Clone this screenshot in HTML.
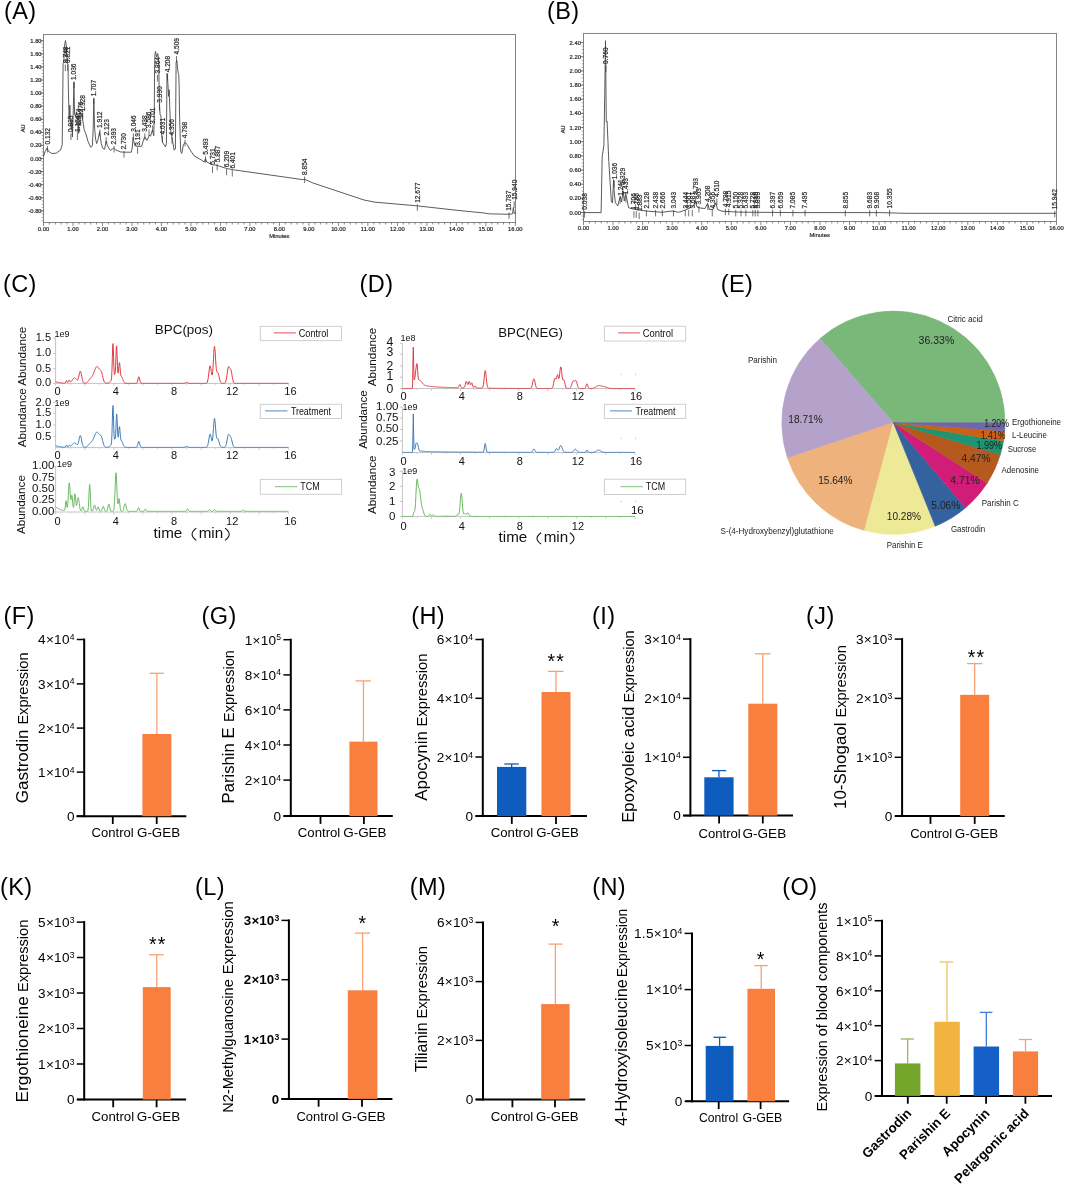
<!DOCTYPE html>
<html><head><meta charset="utf-8"><style>
html,body{margin:0;padding:0;background:#fff;}
body{width:1065px;height:1186px;overflow:hidden;}
svg{display:block;font-family:"Liberation Sans", sans-serif;will-change:transform;}
.ab text{stroke:#333;stroke-width:0.22px;}
</style></head><body>
<svg width="1065" height="1186" viewBox="0 0 1065 1186">
<rect width="1065" height="1186" fill="#fff"/>
<text x="4.00" y="18.80" font-size="23.5" letter-spacing="0.4">(A)</text>
<text x="547.00" y="18.80" font-size="23.5" letter-spacing="0.4">(B)</text>
<text x="3.00" y="292.00" font-size="23.5" letter-spacing="0.4">(C)</text>
<text x="359.60" y="292.10" font-size="23.5" letter-spacing="0.4">(D)</text>
<text x="720.80" y="292.00" font-size="23.5" letter-spacing="0.4">(E)</text>
<text x="3.60" y="623.70" font-size="23.5" letter-spacing="0.4">(F)</text>
<text x="201.60" y="624.00" font-size="23.5" letter-spacing="0.4">(G)</text>
<text x="411.20" y="624.00" font-size="23.5" letter-spacing="0.4">(H)</text>
<text x="592.00" y="623.50" font-size="23.5" letter-spacing="0.4">(I)</text>
<text x="806.00" y="624.00" font-size="23.5" letter-spacing="0.4">(J)</text>
<text x="0.00" y="895.00" font-size="23.5" letter-spacing="0.4">(K)</text>
<text x="195.00" y="895.00" font-size="23.5" letter-spacing="0.4">(L)</text>
<text x="409.70" y="895.00" font-size="23.5" letter-spacing="0.4">(M)</text>
<text x="592.20" y="895.00" font-size="23.5" letter-spacing="0.4">(N)</text>
<text x="782.30" y="895.00" font-size="23.5" letter-spacing="0.4">(O)</text>
<g class="ab">
<rect x="43.50" y="34.50" width="472.00" height="188.00" fill="none" stroke="#858585" stroke-width="1"/>
<line x1="43.50" y1="222.50" x2="43.50" y2="226.00" stroke="#6a6a6a" stroke-width="0.8"/>
<text x="43.50" y="230.90" font-size="5.8" text-anchor="middle" fill="#222">0.00</text>
<line x1="49.40" y1="222.50" x2="49.40" y2="224.50" stroke="#6a6a6a" stroke-width="0.8"/>
<line x1="55.30" y1="222.50" x2="55.30" y2="224.50" stroke="#6a6a6a" stroke-width="0.8"/>
<line x1="61.19" y1="222.50" x2="61.19" y2="224.50" stroke="#6a6a6a" stroke-width="0.8"/>
<line x1="67.09" y1="222.50" x2="67.09" y2="224.50" stroke="#6a6a6a" stroke-width="0.8"/>
<line x1="72.99" y1="222.50" x2="72.99" y2="226.00" stroke="#6a6a6a" stroke-width="0.8"/>
<text x="72.99" y="230.90" font-size="5.8" text-anchor="middle" fill="#222">1.00</text>
<line x1="78.89" y1="222.50" x2="78.89" y2="224.50" stroke="#6a6a6a" stroke-width="0.8"/>
<line x1="84.79" y1="222.50" x2="84.79" y2="224.50" stroke="#6a6a6a" stroke-width="0.8"/>
<line x1="90.68" y1="222.50" x2="90.68" y2="224.50" stroke="#6a6a6a" stroke-width="0.8"/>
<line x1="96.58" y1="222.50" x2="96.58" y2="224.50" stroke="#6a6a6a" stroke-width="0.8"/>
<line x1="102.48" y1="222.50" x2="102.48" y2="226.00" stroke="#6a6a6a" stroke-width="0.8"/>
<text x="102.48" y="230.90" font-size="5.8" text-anchor="middle" fill="#222">2.00</text>
<line x1="108.38" y1="222.50" x2="108.38" y2="224.50" stroke="#6a6a6a" stroke-width="0.8"/>
<line x1="114.28" y1="222.50" x2="114.28" y2="224.50" stroke="#6a6a6a" stroke-width="0.8"/>
<line x1="120.17" y1="222.50" x2="120.17" y2="224.50" stroke="#6a6a6a" stroke-width="0.8"/>
<line x1="126.07" y1="222.50" x2="126.07" y2="224.50" stroke="#6a6a6a" stroke-width="0.8"/>
<line x1="131.97" y1="222.50" x2="131.97" y2="226.00" stroke="#6a6a6a" stroke-width="0.8"/>
<text x="131.97" y="230.90" font-size="5.8" text-anchor="middle" fill="#222">3.00</text>
<line x1="137.87" y1="222.50" x2="137.87" y2="224.50" stroke="#6a6a6a" stroke-width="0.8"/>
<line x1="143.77" y1="222.50" x2="143.77" y2="224.50" stroke="#6a6a6a" stroke-width="0.8"/>
<line x1="149.66" y1="222.50" x2="149.66" y2="224.50" stroke="#6a6a6a" stroke-width="0.8"/>
<line x1="155.56" y1="222.50" x2="155.56" y2="224.50" stroke="#6a6a6a" stroke-width="0.8"/>
<line x1="161.46" y1="222.50" x2="161.46" y2="226.00" stroke="#6a6a6a" stroke-width="0.8"/>
<text x="161.46" y="230.90" font-size="5.8" text-anchor="middle" fill="#222">4.00</text>
<line x1="167.36" y1="222.50" x2="167.36" y2="224.50" stroke="#6a6a6a" stroke-width="0.8"/>
<line x1="173.26" y1="222.50" x2="173.26" y2="224.50" stroke="#6a6a6a" stroke-width="0.8"/>
<line x1="179.15" y1="222.50" x2="179.15" y2="224.50" stroke="#6a6a6a" stroke-width="0.8"/>
<line x1="185.05" y1="222.50" x2="185.05" y2="224.50" stroke="#6a6a6a" stroke-width="0.8"/>
<line x1="190.95" y1="222.50" x2="190.95" y2="226.00" stroke="#6a6a6a" stroke-width="0.8"/>
<text x="190.95" y="230.90" font-size="5.8" text-anchor="middle" fill="#222">5.00</text>
<line x1="196.85" y1="222.50" x2="196.85" y2="224.50" stroke="#6a6a6a" stroke-width="0.8"/>
<line x1="202.75" y1="222.50" x2="202.75" y2="224.50" stroke="#6a6a6a" stroke-width="0.8"/>
<line x1="208.64" y1="222.50" x2="208.64" y2="224.50" stroke="#6a6a6a" stroke-width="0.8"/>
<line x1="214.54" y1="222.50" x2="214.54" y2="224.50" stroke="#6a6a6a" stroke-width="0.8"/>
<line x1="220.44" y1="222.50" x2="220.44" y2="226.00" stroke="#6a6a6a" stroke-width="0.8"/>
<text x="220.44" y="230.90" font-size="5.8" text-anchor="middle" fill="#222">6.00</text>
<line x1="226.34" y1="222.50" x2="226.34" y2="224.50" stroke="#6a6a6a" stroke-width="0.8"/>
<line x1="232.24" y1="222.50" x2="232.24" y2="224.50" stroke="#6a6a6a" stroke-width="0.8"/>
<line x1="238.13" y1="222.50" x2="238.13" y2="224.50" stroke="#6a6a6a" stroke-width="0.8"/>
<line x1="244.03" y1="222.50" x2="244.03" y2="224.50" stroke="#6a6a6a" stroke-width="0.8"/>
<line x1="249.93" y1="222.50" x2="249.93" y2="226.00" stroke="#6a6a6a" stroke-width="0.8"/>
<text x="249.93" y="230.90" font-size="5.8" text-anchor="middle" fill="#222">7.00</text>
<line x1="255.83" y1="222.50" x2="255.83" y2="224.50" stroke="#6a6a6a" stroke-width="0.8"/>
<line x1="261.73" y1="222.50" x2="261.73" y2="224.50" stroke="#6a6a6a" stroke-width="0.8"/>
<line x1="267.62" y1="222.50" x2="267.62" y2="224.50" stroke="#6a6a6a" stroke-width="0.8"/>
<line x1="273.52" y1="222.50" x2="273.52" y2="224.50" stroke="#6a6a6a" stroke-width="0.8"/>
<line x1="279.42" y1="222.50" x2="279.42" y2="226.00" stroke="#6a6a6a" stroke-width="0.8"/>
<text x="279.42" y="230.90" font-size="5.8" text-anchor="middle" fill="#222">8.00</text>
<line x1="285.32" y1="222.50" x2="285.32" y2="224.50" stroke="#6a6a6a" stroke-width="0.8"/>
<line x1="291.22" y1="222.50" x2="291.22" y2="224.50" stroke="#6a6a6a" stroke-width="0.8"/>
<line x1="297.11" y1="222.50" x2="297.11" y2="224.50" stroke="#6a6a6a" stroke-width="0.8"/>
<line x1="303.01" y1="222.50" x2="303.01" y2="224.50" stroke="#6a6a6a" stroke-width="0.8"/>
<line x1="308.91" y1="222.50" x2="308.91" y2="226.00" stroke="#6a6a6a" stroke-width="0.8"/>
<text x="308.91" y="230.90" font-size="5.8" text-anchor="middle" fill="#222">9.00</text>
<line x1="314.81" y1="222.50" x2="314.81" y2="224.50" stroke="#6a6a6a" stroke-width="0.8"/>
<line x1="320.71" y1="222.50" x2="320.71" y2="224.50" stroke="#6a6a6a" stroke-width="0.8"/>
<line x1="326.60" y1="222.50" x2="326.60" y2="224.50" stroke="#6a6a6a" stroke-width="0.8"/>
<line x1="332.50" y1="222.50" x2="332.50" y2="224.50" stroke="#6a6a6a" stroke-width="0.8"/>
<line x1="338.40" y1="222.50" x2="338.40" y2="226.00" stroke="#6a6a6a" stroke-width="0.8"/>
<text x="338.40" y="230.90" font-size="5.8" text-anchor="middle" fill="#222">10.00</text>
<line x1="344.30" y1="222.50" x2="344.30" y2="224.50" stroke="#6a6a6a" stroke-width="0.8"/>
<line x1="350.20" y1="222.50" x2="350.20" y2="224.50" stroke="#6a6a6a" stroke-width="0.8"/>
<line x1="356.09" y1="222.50" x2="356.09" y2="224.50" stroke="#6a6a6a" stroke-width="0.8"/>
<line x1="361.99" y1="222.50" x2="361.99" y2="224.50" stroke="#6a6a6a" stroke-width="0.8"/>
<line x1="367.89" y1="222.50" x2="367.89" y2="226.00" stroke="#6a6a6a" stroke-width="0.8"/>
<text x="367.89" y="230.90" font-size="5.8" text-anchor="middle" fill="#222">11.00</text>
<line x1="373.79" y1="222.50" x2="373.79" y2="224.50" stroke="#6a6a6a" stroke-width="0.8"/>
<line x1="379.69" y1="222.50" x2="379.69" y2="224.50" stroke="#6a6a6a" stroke-width="0.8"/>
<line x1="385.58" y1="222.50" x2="385.58" y2="224.50" stroke="#6a6a6a" stroke-width="0.8"/>
<line x1="391.48" y1="222.50" x2="391.48" y2="224.50" stroke="#6a6a6a" stroke-width="0.8"/>
<line x1="397.38" y1="222.50" x2="397.38" y2="226.00" stroke="#6a6a6a" stroke-width="0.8"/>
<text x="397.38" y="230.90" font-size="5.8" text-anchor="middle" fill="#222">12.00</text>
<line x1="403.28" y1="222.50" x2="403.28" y2="224.50" stroke="#6a6a6a" stroke-width="0.8"/>
<line x1="409.18" y1="222.50" x2="409.18" y2="224.50" stroke="#6a6a6a" stroke-width="0.8"/>
<line x1="415.07" y1="222.50" x2="415.07" y2="224.50" stroke="#6a6a6a" stroke-width="0.8"/>
<line x1="420.97" y1="222.50" x2="420.97" y2="224.50" stroke="#6a6a6a" stroke-width="0.8"/>
<line x1="426.87" y1="222.50" x2="426.87" y2="226.00" stroke="#6a6a6a" stroke-width="0.8"/>
<text x="426.87" y="230.90" font-size="5.8" text-anchor="middle" fill="#222">13.00</text>
<line x1="432.77" y1="222.50" x2="432.77" y2="224.50" stroke="#6a6a6a" stroke-width="0.8"/>
<line x1="438.67" y1="222.50" x2="438.67" y2="224.50" stroke="#6a6a6a" stroke-width="0.8"/>
<line x1="444.56" y1="222.50" x2="444.56" y2="224.50" stroke="#6a6a6a" stroke-width="0.8"/>
<line x1="450.46" y1="222.50" x2="450.46" y2="224.50" stroke="#6a6a6a" stroke-width="0.8"/>
<line x1="456.36" y1="222.50" x2="456.36" y2="226.00" stroke="#6a6a6a" stroke-width="0.8"/>
<text x="456.36" y="230.90" font-size="5.8" text-anchor="middle" fill="#222">14.00</text>
<line x1="462.26" y1="222.50" x2="462.26" y2="224.50" stroke="#6a6a6a" stroke-width="0.8"/>
<line x1="468.16" y1="222.50" x2="468.16" y2="224.50" stroke="#6a6a6a" stroke-width="0.8"/>
<line x1="474.05" y1="222.50" x2="474.05" y2="224.50" stroke="#6a6a6a" stroke-width="0.8"/>
<line x1="479.95" y1="222.50" x2="479.95" y2="224.50" stroke="#6a6a6a" stroke-width="0.8"/>
<line x1="485.85" y1="222.50" x2="485.85" y2="226.00" stroke="#6a6a6a" stroke-width="0.8"/>
<text x="485.85" y="230.90" font-size="5.8" text-anchor="middle" fill="#222">15.00</text>
<line x1="491.75" y1="222.50" x2="491.75" y2="224.50" stroke="#6a6a6a" stroke-width="0.8"/>
<line x1="497.65" y1="222.50" x2="497.65" y2="224.50" stroke="#6a6a6a" stroke-width="0.8"/>
<line x1="503.54" y1="222.50" x2="503.54" y2="224.50" stroke="#6a6a6a" stroke-width="0.8"/>
<line x1="509.44" y1="222.50" x2="509.44" y2="224.50" stroke="#6a6a6a" stroke-width="0.8"/>
<line x1="515.34" y1="222.50" x2="515.34" y2="226.00" stroke="#6a6a6a" stroke-width="0.8"/>
<text x="515.34" y="230.90" font-size="5.8" text-anchor="middle" fill="#222">16.00</text>
<line x1="40.00" y1="40.78" x2="43.50" y2="40.78" stroke="#6a6a6a" stroke-width="0.8"/>
<text x="41.60" y="42.78" font-size="5.8" text-anchor="end" fill="#222">1.80</text>
<line x1="40.00" y1="53.86" x2="43.50" y2="53.86" stroke="#6a6a6a" stroke-width="0.8"/>
<text x="41.60" y="55.86" font-size="5.8" text-anchor="end" fill="#222">1.60</text>
<line x1="40.00" y1="66.94" x2="43.50" y2="66.94" stroke="#6a6a6a" stroke-width="0.8"/>
<text x="41.60" y="68.94" font-size="5.8" text-anchor="end" fill="#222">1.40</text>
<line x1="40.00" y1="80.02" x2="43.50" y2="80.02" stroke="#6a6a6a" stroke-width="0.8"/>
<text x="41.60" y="82.02" font-size="5.8" text-anchor="end" fill="#222">1.20</text>
<line x1="40.00" y1="93.10" x2="43.50" y2="93.10" stroke="#6a6a6a" stroke-width="0.8"/>
<text x="41.60" y="95.10" font-size="5.8" text-anchor="end" fill="#222">1.00</text>
<line x1="40.00" y1="106.18" x2="43.50" y2="106.18" stroke="#6a6a6a" stroke-width="0.8"/>
<text x="41.60" y="108.18" font-size="5.8" text-anchor="end" fill="#222">0.80</text>
<line x1="40.00" y1="119.26" x2="43.50" y2="119.26" stroke="#6a6a6a" stroke-width="0.8"/>
<text x="41.60" y="121.26" font-size="5.8" text-anchor="end" fill="#222">0.60</text>
<line x1="40.00" y1="132.34" x2="43.50" y2="132.34" stroke="#6a6a6a" stroke-width="0.8"/>
<text x="41.60" y="134.34" font-size="5.8" text-anchor="end" fill="#222">0.40</text>
<line x1="40.00" y1="145.42" x2="43.50" y2="145.42" stroke="#6a6a6a" stroke-width="0.8"/>
<text x="41.60" y="147.42" font-size="5.8" text-anchor="end" fill="#222">0.20</text>
<line x1="40.00" y1="158.50" x2="43.50" y2="158.50" stroke="#6a6a6a" stroke-width="0.8"/>
<text x="41.60" y="160.50" font-size="5.8" text-anchor="end" fill="#222">0.00</text>
<line x1="40.00" y1="171.58" x2="43.50" y2="171.58" stroke="#6a6a6a" stroke-width="0.8"/>
<text x="41.60" y="173.58" font-size="5.8" text-anchor="end" fill="#222">-0.20</text>
<line x1="40.00" y1="184.66" x2="43.50" y2="184.66" stroke="#6a6a6a" stroke-width="0.8"/>
<text x="41.60" y="186.66" font-size="5.8" text-anchor="end" fill="#222">-0.40</text>
<line x1="40.00" y1="197.74" x2="43.50" y2="197.74" stroke="#6a6a6a" stroke-width="0.8"/>
<text x="41.60" y="199.74" font-size="5.8" text-anchor="end" fill="#222">-0.60</text>
<line x1="40.00" y1="210.82" x2="43.50" y2="210.82" stroke="#6a6a6a" stroke-width="0.8"/>
<text x="41.60" y="212.82" font-size="5.8" text-anchor="end" fill="#222">-0.80</text>
<line x1="41.70" y1="40.78" x2="43.50" y2="40.78" stroke="#6a6a6a" stroke-width="0.6"/>
<line x1="41.70" y1="44.05" x2="43.50" y2="44.05" stroke="#6a6a6a" stroke-width="0.6"/>
<line x1="41.70" y1="47.32" x2="43.50" y2="47.32" stroke="#6a6a6a" stroke-width="0.6"/>
<line x1="41.70" y1="50.59" x2="43.50" y2="50.59" stroke="#6a6a6a" stroke-width="0.6"/>
<line x1="41.70" y1="53.86" x2="43.50" y2="53.86" stroke="#6a6a6a" stroke-width="0.6"/>
<line x1="41.70" y1="57.13" x2="43.50" y2="57.13" stroke="#6a6a6a" stroke-width="0.6"/>
<line x1="41.70" y1="60.40" x2="43.50" y2="60.40" stroke="#6a6a6a" stroke-width="0.6"/>
<line x1="41.70" y1="63.67" x2="43.50" y2="63.67" stroke="#6a6a6a" stroke-width="0.6"/>
<line x1="41.70" y1="66.94" x2="43.50" y2="66.94" stroke="#6a6a6a" stroke-width="0.6"/>
<line x1="41.70" y1="70.21" x2="43.50" y2="70.21" stroke="#6a6a6a" stroke-width="0.6"/>
<line x1="41.70" y1="73.48" x2="43.50" y2="73.48" stroke="#6a6a6a" stroke-width="0.6"/>
<line x1="41.70" y1="76.75" x2="43.50" y2="76.75" stroke="#6a6a6a" stroke-width="0.6"/>
<line x1="41.70" y1="80.02" x2="43.50" y2="80.02" stroke="#6a6a6a" stroke-width="0.6"/>
<line x1="41.70" y1="83.29" x2="43.50" y2="83.29" stroke="#6a6a6a" stroke-width="0.6"/>
<line x1="41.70" y1="86.56" x2="43.50" y2="86.56" stroke="#6a6a6a" stroke-width="0.6"/>
<line x1="41.70" y1="89.83" x2="43.50" y2="89.83" stroke="#6a6a6a" stroke-width="0.6"/>
<line x1="41.70" y1="93.10" x2="43.50" y2="93.10" stroke="#6a6a6a" stroke-width="0.6"/>
<line x1="41.70" y1="96.37" x2="43.50" y2="96.37" stroke="#6a6a6a" stroke-width="0.6"/>
<line x1="41.70" y1="99.64" x2="43.50" y2="99.64" stroke="#6a6a6a" stroke-width="0.6"/>
<line x1="41.70" y1="102.91" x2="43.50" y2="102.91" stroke="#6a6a6a" stroke-width="0.6"/>
<line x1="41.70" y1="106.18" x2="43.50" y2="106.18" stroke="#6a6a6a" stroke-width="0.6"/>
<line x1="41.70" y1="109.45" x2="43.50" y2="109.45" stroke="#6a6a6a" stroke-width="0.6"/>
<line x1="41.70" y1="112.72" x2="43.50" y2="112.72" stroke="#6a6a6a" stroke-width="0.6"/>
<line x1="41.70" y1="115.99" x2="43.50" y2="115.99" stroke="#6a6a6a" stroke-width="0.6"/>
<line x1="41.70" y1="119.26" x2="43.50" y2="119.26" stroke="#6a6a6a" stroke-width="0.6"/>
<line x1="41.70" y1="122.53" x2="43.50" y2="122.53" stroke="#6a6a6a" stroke-width="0.6"/>
<line x1="41.70" y1="125.80" x2="43.50" y2="125.80" stroke="#6a6a6a" stroke-width="0.6"/>
<line x1="41.70" y1="129.07" x2="43.50" y2="129.07" stroke="#6a6a6a" stroke-width="0.6"/>
<line x1="41.70" y1="132.34" x2="43.50" y2="132.34" stroke="#6a6a6a" stroke-width="0.6"/>
<line x1="41.70" y1="135.61" x2="43.50" y2="135.61" stroke="#6a6a6a" stroke-width="0.6"/>
<line x1="41.70" y1="138.88" x2="43.50" y2="138.88" stroke="#6a6a6a" stroke-width="0.6"/>
<line x1="41.70" y1="142.15" x2="43.50" y2="142.15" stroke="#6a6a6a" stroke-width="0.6"/>
<line x1="41.70" y1="145.42" x2="43.50" y2="145.42" stroke="#6a6a6a" stroke-width="0.6"/>
<line x1="41.70" y1="148.69" x2="43.50" y2="148.69" stroke="#6a6a6a" stroke-width="0.6"/>
<line x1="41.70" y1="151.96" x2="43.50" y2="151.96" stroke="#6a6a6a" stroke-width="0.6"/>
<line x1="41.70" y1="155.23" x2="43.50" y2="155.23" stroke="#6a6a6a" stroke-width="0.6"/>
<line x1="41.70" y1="158.50" x2="43.50" y2="158.50" stroke="#6a6a6a" stroke-width="0.6"/>
<line x1="41.70" y1="161.77" x2="43.50" y2="161.77" stroke="#6a6a6a" stroke-width="0.6"/>
<line x1="41.70" y1="165.04" x2="43.50" y2="165.04" stroke="#6a6a6a" stroke-width="0.6"/>
<line x1="41.70" y1="168.31" x2="43.50" y2="168.31" stroke="#6a6a6a" stroke-width="0.6"/>
<line x1="41.70" y1="171.58" x2="43.50" y2="171.58" stroke="#6a6a6a" stroke-width="0.6"/>
<line x1="41.70" y1="174.85" x2="43.50" y2="174.85" stroke="#6a6a6a" stroke-width="0.6"/>
<line x1="41.70" y1="178.12" x2="43.50" y2="178.12" stroke="#6a6a6a" stroke-width="0.6"/>
<line x1="41.70" y1="181.39" x2="43.50" y2="181.39" stroke="#6a6a6a" stroke-width="0.6"/>
<line x1="41.70" y1="184.66" x2="43.50" y2="184.66" stroke="#6a6a6a" stroke-width="0.6"/>
<line x1="41.70" y1="187.93" x2="43.50" y2="187.93" stroke="#6a6a6a" stroke-width="0.6"/>
<line x1="41.70" y1="191.20" x2="43.50" y2="191.20" stroke="#6a6a6a" stroke-width="0.6"/>
<line x1="41.70" y1="194.47" x2="43.50" y2="194.47" stroke="#6a6a6a" stroke-width="0.6"/>
<line x1="41.70" y1="197.74" x2="43.50" y2="197.74" stroke="#6a6a6a" stroke-width="0.6"/>
<line x1="41.70" y1="201.01" x2="43.50" y2="201.01" stroke="#6a6a6a" stroke-width="0.6"/>
<line x1="41.70" y1="204.28" x2="43.50" y2="204.28" stroke="#6a6a6a" stroke-width="0.6"/>
<line x1="41.70" y1="207.55" x2="43.50" y2="207.55" stroke="#6a6a6a" stroke-width="0.6"/>
<line x1="41.70" y1="210.82" x2="43.50" y2="210.82" stroke="#6a6a6a" stroke-width="0.6"/>
<line x1="41.70" y1="214.09" x2="43.50" y2="214.09" stroke="#6a6a6a" stroke-width="0.6"/>
<line x1="41.70" y1="217.36" x2="43.50" y2="217.36" stroke="#6a6a6a" stroke-width="0.6"/>
<line x1="41.70" y1="220.63" x2="43.50" y2="220.63" stroke="#6a6a6a" stroke-width="0.6"/>
<text x="25.50" y="128.40" font-size="5.6" text-anchor="middle" fill="#333" transform="rotate(-90 25.50 128.40)">AU</text>
<text x="279.30" y="238.20" font-size="5.8" text-anchor="middle" fill="#333">Minutes</text>
<polyline points="43.50,156.50 45.20,151.30 47.20,148.00 48.50,151.30 51.80,153.50 56.20,153.20 60.50,150.20 62.20,144.70 62.70,100.80 63.10,63.50 63.80,62.40 64.40,48.20 65.00,42.50 65.50,40.50 66.00,44.00 66.60,48.20 67.10,62.40 68.00,64.60 68.40,89.80 69.10,118.40 69.90,105.20 70.40,122.70 71.30,129.30 71.80,120.00 72.40,137.00 73.20,114.00 73.90,82.20 74.60,114.00 75.40,116.20 76.50,111.80 77.60,118.40 78.10,133.70 79.20,114.00 80.30,111.80 81.40,114.00 82.50,118.40 84.10,129.30 85.80,133.70 88.00,141.40 90.70,147.40 92.40,145.80 93.20,128.20 93.80,98.60 94.60,128.20 95.60,139.20 96.70,143.60 97.80,140.30 99.60,131.80 101.20,143.40 102.70,148.10 104.50,149.30 106.30,141.00 107.40,145.70 110.40,150.50 113.60,148.10 115.70,149.90 120.40,151.90 124.00,152.20 131.30,152.20 132.20,148.10 133.10,137.50 134.00,142.20 134.90,145.70 137.00,146.30 141.70,146.30 142.80,142.20 144.60,136.90 147.00,140.40 149.30,135.10 150.50,136.30 152.30,130.40 153.80,135.70 154.30,110.00 154.60,67.90 154.90,54.70 155.50,51.40 156.60,56.90 157.70,53.60 158.60,59.10 158.80,67.90 159.30,100.80 160.10,115.00 161.00,116.10 161.50,133.70 162.60,142.50 165.40,146.80 166.40,143.50 167.00,73.40 167.90,83.20 168.60,96.40 169.20,89.80 169.70,106.30 170.80,131.50 172.50,140.30 174.10,150.10 175.40,149.00 176.10,62.40 176.90,60.50 178.00,72.30 178.70,74.50 179.10,84.30 179.60,117.20 180.70,151.20 181.80,153.40 183.40,144.60 185.10,142.50 187.30,144.60 189.50,149.00 193.90,155.60 201.80,160.30 204.30,162.00 205.50,158.60 206.80,162.00 211.90,164.50 217.00,165.40 222.00,167.00 226.30,168.40 232.20,169.60 235.60,170.10 303.20,179.70 304.50,179.20 313.30,183.10 364.00,200.00 375.00,202.20 380.00,202.60 417.60,205.90 455.10,210.10 485.20,213.10 488.20,213.80 509.20,214.30 512.50,213.80 513.40,207.50 514.20,213.50 516.00,212.50" fill="none" stroke="#4a4a4a" stroke-width="0.9" stroke-linejoin="round"/>
<text x="49.79" y="144.50" font-size="6.6" fill="#222" transform="rotate(-90 49.79 144.50)">0.132</text>
<line x1="47.39" y1="146.00" x2="47.39" y2="152.50" stroke="#333" stroke-width="0.7"/>
<text x="67.72" y="63.00" font-size="6.6" fill="#222" transform="rotate(-90 67.72 63.00)">0.748</text>
<line x1="65.32" y1="64.50" x2="65.32" y2="71.00" stroke="#333" stroke-width="0.7"/>
<text x="70.11" y="63.00" font-size="6.6" fill="#222" transform="rotate(-90 70.11 63.00)">0.821</text>
<line x1="67.71" y1="64.50" x2="67.71" y2="71.00" stroke="#333" stroke-width="0.7"/>
<text x="73.33" y="132.00" font-size="6.6" fill="#222" transform="rotate(-90 73.33 132.00)">0.935</text>
<line x1="70.93" y1="133.50" x2="70.93" y2="140.00" stroke="#333" stroke-width="0.7"/>
<text x="76.45" y="80.00" font-size="6.6" fill="#222" transform="rotate(-90 76.45 80.00)">1.036</text>
<line x1="74.05" y1="81.50" x2="74.05" y2="88.00" stroke="#333" stroke-width="0.7"/>
<text x="79.81" y="132.00" font-size="6.6" fill="#222" transform="rotate(-90 79.81 132.00)">1.154</text>
<line x1="77.41" y1="133.50" x2="77.41" y2="140.00" stroke="#333" stroke-width="0.7"/>
<text x="81.29" y="125.00" font-size="6.6" fill="#222" transform="rotate(-90 81.29 125.00)">1.214</text>
<line x1="78.89" y1="126.50" x2="78.89" y2="133.00" stroke="#333" stroke-width="0.7"/>
<text x="83.06" y="118.00" font-size="6.6" fill="#222" transform="rotate(-90 83.06 118.00)">1.276</text>
<line x1="80.66" y1="119.50" x2="80.66" y2="126.00" stroke="#333" stroke-width="0.7"/>
<text x="85.06" y="111.60" font-size="6.6" fill="#222" transform="rotate(-90 85.06 111.60)">1.328</text>
<line x1="82.66" y1="113.10" x2="82.66" y2="119.60" stroke="#333" stroke-width="0.7"/>
<text x="96.24" y="96.30" font-size="6.6" fill="#222" transform="rotate(-90 96.24 96.30)">1.707</text>
<line x1="93.84" y1="97.80" x2="93.84" y2="104.30" stroke="#333" stroke-width="0.7"/>
<text x="102.28" y="128.00" font-size="6.6" fill="#222" transform="rotate(-90 102.28 128.00)">1.912</text>
<line x1="99.88" y1="129.50" x2="99.88" y2="136.00" stroke="#333" stroke-width="0.7"/>
<text x="108.51" y="135.60" font-size="6.6" fill="#222" transform="rotate(-90 108.51 135.60)">2.123</text>
<line x1="106.11" y1="137.10" x2="106.11" y2="143.60" stroke="#333" stroke-width="0.7"/>
<text x="116.47" y="144.50" font-size="6.6" fill="#222" transform="rotate(-90 116.47 144.50)">2.393</text>
<line x1="114.07" y1="146.00" x2="114.07" y2="152.50" stroke="#333" stroke-width="0.7"/>
<text x="126.41" y="149.60" font-size="6.6" fill="#222" transform="rotate(-90 126.41 149.60)">2.730</text>
<line x1="124.01" y1="151.10" x2="124.01" y2="157.60" stroke="#333" stroke-width="0.7"/>
<text x="135.73" y="131.80" font-size="6.6" fill="#222" transform="rotate(-90 135.73 131.80)">3.046</text>
<line x1="133.33" y1="133.30" x2="133.33" y2="139.80" stroke="#333" stroke-width="0.7"/>
<text x="140.00" y="145.80" font-size="6.6" fill="#222" transform="rotate(-90 140.00 145.80)">3.191</text>
<line x1="137.60" y1="147.30" x2="137.60" y2="153.80" stroke="#333" stroke-width="0.7"/>
<text x="147.29" y="131.80" font-size="6.6" fill="#222" transform="rotate(-90 147.29 131.80)">3.438</text>
<line x1="144.89" y1="133.30" x2="144.89" y2="139.80" stroke="#333" stroke-width="0.7"/>
<text x="151.47" y="128.00" font-size="6.6" fill="#222" transform="rotate(-90 151.47 128.00)">3.586</text>
<line x1="149.07" y1="129.50" x2="149.07" y2="136.00" stroke="#333" stroke-width="0.7"/>
<text x="155.01" y="124.00" font-size="6.6" fill="#222" transform="rotate(-90 155.01 124.00)">3.701</text>
<line x1="152.61" y1="125.50" x2="152.61" y2="132.00" stroke="#333" stroke-width="0.7"/>
<text x="159.85" y="73.50" font-size="6.6" fill="#222" transform="rotate(-90 159.85 73.50)">3.864</text>
<line x1="157.45" y1="75.00" x2="157.45" y2="81.50" stroke="#333" stroke-width="0.7"/>
<text x="161.80" y="102.70" font-size="6.6" fill="#222" transform="rotate(-90 161.80 102.70)">3.930</text>
<line x1="159.40" y1="104.20" x2="159.40" y2="110.70" stroke="#333" stroke-width="0.7"/>
<text x="164.77" y="134.40" font-size="6.6" fill="#222" transform="rotate(-90 164.77 134.40)">4.031</text>
<line x1="162.37" y1="135.90" x2="162.37" y2="142.40" stroke="#333" stroke-width="0.7"/>
<text x="169.99" y="72.30" font-size="6.6" fill="#222" transform="rotate(-90 169.99 72.30)">4.208</text>
<line x1="167.59" y1="73.80" x2="167.59" y2="80.30" stroke="#333" stroke-width="0.7"/>
<text x="174.36" y="135.60" font-size="6.6" fill="#222" transform="rotate(-90 174.36 135.60)">4.356</text>
<line x1="171.96" y1="137.10" x2="171.96" y2="143.60" stroke="#333" stroke-width="0.7"/>
<text x="178.87" y="54.50" font-size="6.6" fill="#222" transform="rotate(-90 178.87 54.50)">4.509</text>
<line x1="176.47" y1="56.00" x2="176.47" y2="62.50" stroke="#333" stroke-width="0.7"/>
<text x="187.39" y="138.20" font-size="6.6" fill="#222" transform="rotate(-90 187.39 138.20)">4.798</text>
<line x1="184.99" y1="139.70" x2="184.99" y2="146.20" stroke="#333" stroke-width="0.7"/>
<text x="207.89" y="154.70" font-size="6.6" fill="#222" transform="rotate(-90 207.89 154.70)">5.493</text>
<line x1="205.49" y1="156.20" x2="205.49" y2="162.70" stroke="#333" stroke-width="0.7"/>
<text x="214.91" y="164.80" font-size="6.6" fill="#222" transform="rotate(-90 214.91 164.80)">5.731</text>
<line x1="212.51" y1="166.30" x2="212.51" y2="172.80" stroke="#333" stroke-width="0.7"/>
<text x="219.51" y="162.30" font-size="6.6" fill="#222" transform="rotate(-90 219.51 162.30)">5.887</text>
<line x1="217.11" y1="163.80" x2="217.11" y2="170.30" stroke="#333" stroke-width="0.7"/>
<text x="229.00" y="167.30" font-size="6.6" fill="#222" transform="rotate(-90 229.00 167.30)">6.209</text>
<line x1="226.60" y1="168.80" x2="226.60" y2="175.30" stroke="#333" stroke-width="0.7"/>
<text x="234.67" y="168.60" font-size="6.6" fill="#222" transform="rotate(-90 234.67 168.60)">6.401</text>
<line x1="232.27" y1="170.10" x2="232.27" y2="176.60" stroke="#333" stroke-width="0.7"/>
<text x="307.00" y="175.00" font-size="6.6" fill="#222" transform="rotate(-90 307.00 175.00)">8.854</text>
<line x1="304.60" y1="176.50" x2="304.60" y2="183.00" stroke="#333" stroke-width="0.7"/>
<text x="419.74" y="202.80" font-size="6.6" fill="#222" transform="rotate(-90 419.74 202.80)">12.677</text>
<line x1="417.34" y1="204.30" x2="417.34" y2="210.80" stroke="#333" stroke-width="0.7"/>
<text x="511.46" y="210.80" font-size="6.6" fill="#222" transform="rotate(-90 511.46 210.80)">15.787</text>
<line x1="509.06" y1="212.30" x2="509.06" y2="218.80" stroke="#333" stroke-width="0.7"/>
<text x="516.56" y="199.80" font-size="6.6" fill="#222" transform="rotate(-90 516.56 199.80)">15.940</text>
<line x1="514.16" y1="201.30" x2="514.16" y2="207.80" stroke="#333" stroke-width="0.7"/>
<rect x="583.50" y="33.50" width="473.00" height="188.00" fill="none" stroke="#858585" stroke-width="1"/>
<line x1="583.50" y1="221.50" x2="583.50" y2="225.00" stroke="#6a6a6a" stroke-width="0.8"/>
<text x="583.50" y="229.90" font-size="5.8" text-anchor="middle" fill="#222">0.00</text>
<line x1="589.41" y1="221.50" x2="589.41" y2="223.50" stroke="#6a6a6a" stroke-width="0.8"/>
<line x1="595.32" y1="221.50" x2="595.32" y2="223.50" stroke="#6a6a6a" stroke-width="0.8"/>
<line x1="601.24" y1="221.50" x2="601.24" y2="223.50" stroke="#6a6a6a" stroke-width="0.8"/>
<line x1="607.15" y1="221.50" x2="607.15" y2="223.50" stroke="#6a6a6a" stroke-width="0.8"/>
<line x1="613.06" y1="221.50" x2="613.06" y2="225.00" stroke="#6a6a6a" stroke-width="0.8"/>
<text x="613.06" y="229.90" font-size="5.8" text-anchor="middle" fill="#222">1.00</text>
<line x1="618.97" y1="221.50" x2="618.97" y2="223.50" stroke="#6a6a6a" stroke-width="0.8"/>
<line x1="624.88" y1="221.50" x2="624.88" y2="223.50" stroke="#6a6a6a" stroke-width="0.8"/>
<line x1="630.80" y1="221.50" x2="630.80" y2="223.50" stroke="#6a6a6a" stroke-width="0.8"/>
<line x1="636.71" y1="221.50" x2="636.71" y2="223.50" stroke="#6a6a6a" stroke-width="0.8"/>
<line x1="642.62" y1="221.50" x2="642.62" y2="225.00" stroke="#6a6a6a" stroke-width="0.8"/>
<text x="642.62" y="229.90" font-size="5.8" text-anchor="middle" fill="#222">2.00</text>
<line x1="648.53" y1="221.50" x2="648.53" y2="223.50" stroke="#6a6a6a" stroke-width="0.8"/>
<line x1="654.44" y1="221.50" x2="654.44" y2="223.50" stroke="#6a6a6a" stroke-width="0.8"/>
<line x1="660.36" y1="221.50" x2="660.36" y2="223.50" stroke="#6a6a6a" stroke-width="0.8"/>
<line x1="666.27" y1="221.50" x2="666.27" y2="223.50" stroke="#6a6a6a" stroke-width="0.8"/>
<line x1="672.18" y1="221.50" x2="672.18" y2="225.00" stroke="#6a6a6a" stroke-width="0.8"/>
<text x="672.18" y="229.90" font-size="5.8" text-anchor="middle" fill="#222">3.00</text>
<line x1="678.09" y1="221.50" x2="678.09" y2="223.50" stroke="#6a6a6a" stroke-width="0.8"/>
<line x1="684.00" y1="221.50" x2="684.00" y2="223.50" stroke="#6a6a6a" stroke-width="0.8"/>
<line x1="689.92" y1="221.50" x2="689.92" y2="223.50" stroke="#6a6a6a" stroke-width="0.8"/>
<line x1="695.83" y1="221.50" x2="695.83" y2="223.50" stroke="#6a6a6a" stroke-width="0.8"/>
<line x1="701.74" y1="221.50" x2="701.74" y2="225.00" stroke="#6a6a6a" stroke-width="0.8"/>
<text x="701.74" y="229.90" font-size="5.8" text-anchor="middle" fill="#222">4.00</text>
<line x1="707.65" y1="221.50" x2="707.65" y2="223.50" stroke="#6a6a6a" stroke-width="0.8"/>
<line x1="713.56" y1="221.50" x2="713.56" y2="223.50" stroke="#6a6a6a" stroke-width="0.8"/>
<line x1="719.48" y1="221.50" x2="719.48" y2="223.50" stroke="#6a6a6a" stroke-width="0.8"/>
<line x1="725.39" y1="221.50" x2="725.39" y2="223.50" stroke="#6a6a6a" stroke-width="0.8"/>
<line x1="731.30" y1="221.50" x2="731.30" y2="225.00" stroke="#6a6a6a" stroke-width="0.8"/>
<text x="731.30" y="229.90" font-size="5.8" text-anchor="middle" fill="#222">5.00</text>
<line x1="737.21" y1="221.50" x2="737.21" y2="223.50" stroke="#6a6a6a" stroke-width="0.8"/>
<line x1="743.12" y1="221.50" x2="743.12" y2="223.50" stroke="#6a6a6a" stroke-width="0.8"/>
<line x1="749.04" y1="221.50" x2="749.04" y2="223.50" stroke="#6a6a6a" stroke-width="0.8"/>
<line x1="754.95" y1="221.50" x2="754.95" y2="223.50" stroke="#6a6a6a" stroke-width="0.8"/>
<line x1="760.86" y1="221.50" x2="760.86" y2="225.00" stroke="#6a6a6a" stroke-width="0.8"/>
<text x="760.86" y="229.90" font-size="5.8" text-anchor="middle" fill="#222">6.00</text>
<line x1="766.77" y1="221.50" x2="766.77" y2="223.50" stroke="#6a6a6a" stroke-width="0.8"/>
<line x1="772.68" y1="221.50" x2="772.68" y2="223.50" stroke="#6a6a6a" stroke-width="0.8"/>
<line x1="778.60" y1="221.50" x2="778.60" y2="223.50" stroke="#6a6a6a" stroke-width="0.8"/>
<line x1="784.51" y1="221.50" x2="784.51" y2="223.50" stroke="#6a6a6a" stroke-width="0.8"/>
<line x1="790.42" y1="221.50" x2="790.42" y2="225.00" stroke="#6a6a6a" stroke-width="0.8"/>
<text x="790.42" y="229.90" font-size="5.8" text-anchor="middle" fill="#222">7.00</text>
<line x1="796.33" y1="221.50" x2="796.33" y2="223.50" stroke="#6a6a6a" stroke-width="0.8"/>
<line x1="802.24" y1="221.50" x2="802.24" y2="223.50" stroke="#6a6a6a" stroke-width="0.8"/>
<line x1="808.16" y1="221.50" x2="808.16" y2="223.50" stroke="#6a6a6a" stroke-width="0.8"/>
<line x1="814.07" y1="221.50" x2="814.07" y2="223.50" stroke="#6a6a6a" stroke-width="0.8"/>
<line x1="819.98" y1="221.50" x2="819.98" y2="225.00" stroke="#6a6a6a" stroke-width="0.8"/>
<text x="819.98" y="229.90" font-size="5.8" text-anchor="middle" fill="#222">8.00</text>
<line x1="825.89" y1="221.50" x2="825.89" y2="223.50" stroke="#6a6a6a" stroke-width="0.8"/>
<line x1="831.80" y1="221.50" x2="831.80" y2="223.50" stroke="#6a6a6a" stroke-width="0.8"/>
<line x1="837.72" y1="221.50" x2="837.72" y2="223.50" stroke="#6a6a6a" stroke-width="0.8"/>
<line x1="843.63" y1="221.50" x2="843.63" y2="223.50" stroke="#6a6a6a" stroke-width="0.8"/>
<line x1="849.54" y1="221.50" x2="849.54" y2="225.00" stroke="#6a6a6a" stroke-width="0.8"/>
<text x="849.54" y="229.90" font-size="5.8" text-anchor="middle" fill="#222">9.00</text>
<line x1="855.45" y1="221.50" x2="855.45" y2="223.50" stroke="#6a6a6a" stroke-width="0.8"/>
<line x1="861.36" y1="221.50" x2="861.36" y2="223.50" stroke="#6a6a6a" stroke-width="0.8"/>
<line x1="867.28" y1="221.50" x2="867.28" y2="223.50" stroke="#6a6a6a" stroke-width="0.8"/>
<line x1="873.19" y1="221.50" x2="873.19" y2="223.50" stroke="#6a6a6a" stroke-width="0.8"/>
<line x1="879.10" y1="221.50" x2="879.10" y2="225.00" stroke="#6a6a6a" stroke-width="0.8"/>
<text x="879.10" y="229.90" font-size="5.8" text-anchor="middle" fill="#222">10.00</text>
<line x1="885.01" y1="221.50" x2="885.01" y2="223.50" stroke="#6a6a6a" stroke-width="0.8"/>
<line x1="890.92" y1="221.50" x2="890.92" y2="223.50" stroke="#6a6a6a" stroke-width="0.8"/>
<line x1="896.84" y1="221.50" x2="896.84" y2="223.50" stroke="#6a6a6a" stroke-width="0.8"/>
<line x1="902.75" y1="221.50" x2="902.75" y2="223.50" stroke="#6a6a6a" stroke-width="0.8"/>
<line x1="908.66" y1="221.50" x2="908.66" y2="225.00" stroke="#6a6a6a" stroke-width="0.8"/>
<text x="908.66" y="229.90" font-size="5.8" text-anchor="middle" fill="#222">11.00</text>
<line x1="914.57" y1="221.50" x2="914.57" y2="223.50" stroke="#6a6a6a" stroke-width="0.8"/>
<line x1="920.48" y1="221.50" x2="920.48" y2="223.50" stroke="#6a6a6a" stroke-width="0.8"/>
<line x1="926.40" y1="221.50" x2="926.40" y2="223.50" stroke="#6a6a6a" stroke-width="0.8"/>
<line x1="932.31" y1="221.50" x2="932.31" y2="223.50" stroke="#6a6a6a" stroke-width="0.8"/>
<line x1="938.22" y1="221.50" x2="938.22" y2="225.00" stroke="#6a6a6a" stroke-width="0.8"/>
<text x="938.22" y="229.90" font-size="5.8" text-anchor="middle" fill="#222">12.00</text>
<line x1="944.13" y1="221.50" x2="944.13" y2="223.50" stroke="#6a6a6a" stroke-width="0.8"/>
<line x1="950.04" y1="221.50" x2="950.04" y2="223.50" stroke="#6a6a6a" stroke-width="0.8"/>
<line x1="955.96" y1="221.50" x2="955.96" y2="223.50" stroke="#6a6a6a" stroke-width="0.8"/>
<line x1="961.87" y1="221.50" x2="961.87" y2="223.50" stroke="#6a6a6a" stroke-width="0.8"/>
<line x1="967.78" y1="221.50" x2="967.78" y2="225.00" stroke="#6a6a6a" stroke-width="0.8"/>
<text x="967.78" y="229.90" font-size="5.8" text-anchor="middle" fill="#222">13.00</text>
<line x1="973.69" y1="221.50" x2="973.69" y2="223.50" stroke="#6a6a6a" stroke-width="0.8"/>
<line x1="979.60" y1="221.50" x2="979.60" y2="223.50" stroke="#6a6a6a" stroke-width="0.8"/>
<line x1="985.52" y1="221.50" x2="985.52" y2="223.50" stroke="#6a6a6a" stroke-width="0.8"/>
<line x1="991.43" y1="221.50" x2="991.43" y2="223.50" stroke="#6a6a6a" stroke-width="0.8"/>
<line x1="997.34" y1="221.50" x2="997.34" y2="225.00" stroke="#6a6a6a" stroke-width="0.8"/>
<text x="997.34" y="229.90" font-size="5.8" text-anchor="middle" fill="#222">14.00</text>
<line x1="1003.25" y1="221.50" x2="1003.25" y2="223.50" stroke="#6a6a6a" stroke-width="0.8"/>
<line x1="1009.16" y1="221.50" x2="1009.16" y2="223.50" stroke="#6a6a6a" stroke-width="0.8"/>
<line x1="1015.08" y1="221.50" x2="1015.08" y2="223.50" stroke="#6a6a6a" stroke-width="0.8"/>
<line x1="1020.99" y1="221.50" x2="1020.99" y2="223.50" stroke="#6a6a6a" stroke-width="0.8"/>
<line x1="1026.90" y1="221.50" x2="1026.90" y2="225.00" stroke="#6a6a6a" stroke-width="0.8"/>
<text x="1026.90" y="229.90" font-size="5.8" text-anchor="middle" fill="#222">15.00</text>
<line x1="1032.81" y1="221.50" x2="1032.81" y2="223.50" stroke="#6a6a6a" stroke-width="0.8"/>
<line x1="1038.72" y1="221.50" x2="1038.72" y2="223.50" stroke="#6a6a6a" stroke-width="0.8"/>
<line x1="1044.64" y1="221.50" x2="1044.64" y2="223.50" stroke="#6a6a6a" stroke-width="0.8"/>
<line x1="1050.55" y1="221.50" x2="1050.55" y2="223.50" stroke="#6a6a6a" stroke-width="0.8"/>
<line x1="1056.46" y1="221.50" x2="1056.46" y2="225.00" stroke="#6a6a6a" stroke-width="0.8"/>
<text x="1056.46" y="229.90" font-size="5.8" text-anchor="middle" fill="#222">16.00</text>
<line x1="580.00" y1="42.58" x2="583.50" y2="42.58" stroke="#6a6a6a" stroke-width="0.8"/>
<text x="580.90" y="44.58" font-size="5.8" text-anchor="end" fill="#222">2.40</text>
<line x1="580.00" y1="56.74" x2="583.50" y2="56.74" stroke="#6a6a6a" stroke-width="0.8"/>
<text x="580.90" y="58.74" font-size="5.8" text-anchor="end" fill="#222">2.20</text>
<line x1="580.00" y1="70.90" x2="583.50" y2="70.90" stroke="#6a6a6a" stroke-width="0.8"/>
<text x="580.90" y="72.90" font-size="5.8" text-anchor="end" fill="#222">2.00</text>
<line x1="580.00" y1="85.06" x2="583.50" y2="85.06" stroke="#6a6a6a" stroke-width="0.8"/>
<text x="580.90" y="87.06" font-size="5.8" text-anchor="end" fill="#222">1.80</text>
<line x1="580.00" y1="99.22" x2="583.50" y2="99.22" stroke="#6a6a6a" stroke-width="0.8"/>
<text x="580.90" y="101.22" font-size="5.8" text-anchor="end" fill="#222">1.60</text>
<line x1="580.00" y1="113.38" x2="583.50" y2="113.38" stroke="#6a6a6a" stroke-width="0.8"/>
<text x="580.90" y="115.38" font-size="5.8" text-anchor="end" fill="#222">1.40</text>
<line x1="580.00" y1="127.54" x2="583.50" y2="127.54" stroke="#6a6a6a" stroke-width="0.8"/>
<text x="580.90" y="129.54" font-size="5.8" text-anchor="end" fill="#222">1.20</text>
<line x1="580.00" y1="141.70" x2="583.50" y2="141.70" stroke="#6a6a6a" stroke-width="0.8"/>
<text x="580.90" y="143.70" font-size="5.8" text-anchor="end" fill="#222">1.00</text>
<line x1="580.00" y1="155.86" x2="583.50" y2="155.86" stroke="#6a6a6a" stroke-width="0.8"/>
<text x="580.90" y="157.86" font-size="5.8" text-anchor="end" fill="#222">0.80</text>
<line x1="580.00" y1="170.02" x2="583.50" y2="170.02" stroke="#6a6a6a" stroke-width="0.8"/>
<text x="580.90" y="172.02" font-size="5.8" text-anchor="end" fill="#222">0.60</text>
<line x1="580.00" y1="184.18" x2="583.50" y2="184.18" stroke="#6a6a6a" stroke-width="0.8"/>
<text x="580.90" y="186.18" font-size="5.8" text-anchor="end" fill="#222">0.40</text>
<line x1="580.00" y1="198.34" x2="583.50" y2="198.34" stroke="#6a6a6a" stroke-width="0.8"/>
<text x="580.90" y="200.34" font-size="5.8" text-anchor="end" fill="#222">0.20</text>
<line x1="580.00" y1="212.50" x2="583.50" y2="212.50" stroke="#6a6a6a" stroke-width="0.8"/>
<text x="580.90" y="214.50" font-size="5.8" text-anchor="end" fill="#222">0.00</text>
<line x1="581.70" y1="42.58" x2="583.50" y2="42.58" stroke="#6a6a6a" stroke-width="0.6"/>
<line x1="581.70" y1="46.12" x2="583.50" y2="46.12" stroke="#6a6a6a" stroke-width="0.6"/>
<line x1="581.70" y1="49.66" x2="583.50" y2="49.66" stroke="#6a6a6a" stroke-width="0.6"/>
<line x1="581.70" y1="53.20" x2="583.50" y2="53.20" stroke="#6a6a6a" stroke-width="0.6"/>
<line x1="581.70" y1="56.74" x2="583.50" y2="56.74" stroke="#6a6a6a" stroke-width="0.6"/>
<line x1="581.70" y1="60.28" x2="583.50" y2="60.28" stroke="#6a6a6a" stroke-width="0.6"/>
<line x1="581.70" y1="63.82" x2="583.50" y2="63.82" stroke="#6a6a6a" stroke-width="0.6"/>
<line x1="581.70" y1="67.36" x2="583.50" y2="67.36" stroke="#6a6a6a" stroke-width="0.6"/>
<line x1="581.70" y1="70.90" x2="583.50" y2="70.90" stroke="#6a6a6a" stroke-width="0.6"/>
<line x1="581.70" y1="74.44" x2="583.50" y2="74.44" stroke="#6a6a6a" stroke-width="0.6"/>
<line x1="581.70" y1="77.98" x2="583.50" y2="77.98" stroke="#6a6a6a" stroke-width="0.6"/>
<line x1="581.70" y1="81.52" x2="583.50" y2="81.52" stroke="#6a6a6a" stroke-width="0.6"/>
<line x1="581.70" y1="85.06" x2="583.50" y2="85.06" stroke="#6a6a6a" stroke-width="0.6"/>
<line x1="581.70" y1="88.60" x2="583.50" y2="88.60" stroke="#6a6a6a" stroke-width="0.6"/>
<line x1="581.70" y1="92.14" x2="583.50" y2="92.14" stroke="#6a6a6a" stroke-width="0.6"/>
<line x1="581.70" y1="95.68" x2="583.50" y2="95.68" stroke="#6a6a6a" stroke-width="0.6"/>
<line x1="581.70" y1="99.22" x2="583.50" y2="99.22" stroke="#6a6a6a" stroke-width="0.6"/>
<line x1="581.70" y1="102.76" x2="583.50" y2="102.76" stroke="#6a6a6a" stroke-width="0.6"/>
<line x1="581.70" y1="106.30" x2="583.50" y2="106.30" stroke="#6a6a6a" stroke-width="0.6"/>
<line x1="581.70" y1="109.84" x2="583.50" y2="109.84" stroke="#6a6a6a" stroke-width="0.6"/>
<line x1="581.70" y1="113.38" x2="583.50" y2="113.38" stroke="#6a6a6a" stroke-width="0.6"/>
<line x1="581.70" y1="116.92" x2="583.50" y2="116.92" stroke="#6a6a6a" stroke-width="0.6"/>
<line x1="581.70" y1="120.46" x2="583.50" y2="120.46" stroke="#6a6a6a" stroke-width="0.6"/>
<line x1="581.70" y1="124.00" x2="583.50" y2="124.00" stroke="#6a6a6a" stroke-width="0.6"/>
<line x1="581.70" y1="127.54" x2="583.50" y2="127.54" stroke="#6a6a6a" stroke-width="0.6"/>
<line x1="581.70" y1="131.08" x2="583.50" y2="131.08" stroke="#6a6a6a" stroke-width="0.6"/>
<line x1="581.70" y1="134.62" x2="583.50" y2="134.62" stroke="#6a6a6a" stroke-width="0.6"/>
<line x1="581.70" y1="138.16" x2="583.50" y2="138.16" stroke="#6a6a6a" stroke-width="0.6"/>
<line x1="581.70" y1="141.70" x2="583.50" y2="141.70" stroke="#6a6a6a" stroke-width="0.6"/>
<line x1="581.70" y1="145.24" x2="583.50" y2="145.24" stroke="#6a6a6a" stroke-width="0.6"/>
<line x1="581.70" y1="148.78" x2="583.50" y2="148.78" stroke="#6a6a6a" stroke-width="0.6"/>
<line x1="581.70" y1="152.32" x2="583.50" y2="152.32" stroke="#6a6a6a" stroke-width="0.6"/>
<line x1="581.70" y1="155.86" x2="583.50" y2="155.86" stroke="#6a6a6a" stroke-width="0.6"/>
<line x1="581.70" y1="159.40" x2="583.50" y2="159.40" stroke="#6a6a6a" stroke-width="0.6"/>
<line x1="581.70" y1="162.94" x2="583.50" y2="162.94" stroke="#6a6a6a" stroke-width="0.6"/>
<line x1="581.70" y1="166.48" x2="583.50" y2="166.48" stroke="#6a6a6a" stroke-width="0.6"/>
<line x1="581.70" y1="170.02" x2="583.50" y2="170.02" stroke="#6a6a6a" stroke-width="0.6"/>
<line x1="581.70" y1="173.56" x2="583.50" y2="173.56" stroke="#6a6a6a" stroke-width="0.6"/>
<line x1="581.70" y1="177.10" x2="583.50" y2="177.10" stroke="#6a6a6a" stroke-width="0.6"/>
<line x1="581.70" y1="180.64" x2="583.50" y2="180.64" stroke="#6a6a6a" stroke-width="0.6"/>
<line x1="581.70" y1="184.18" x2="583.50" y2="184.18" stroke="#6a6a6a" stroke-width="0.6"/>
<line x1="581.70" y1="187.72" x2="583.50" y2="187.72" stroke="#6a6a6a" stroke-width="0.6"/>
<line x1="581.70" y1="191.26" x2="583.50" y2="191.26" stroke="#6a6a6a" stroke-width="0.6"/>
<line x1="581.70" y1="194.80" x2="583.50" y2="194.80" stroke="#6a6a6a" stroke-width="0.6"/>
<line x1="581.70" y1="198.34" x2="583.50" y2="198.34" stroke="#6a6a6a" stroke-width="0.6"/>
<line x1="581.70" y1="201.88" x2="583.50" y2="201.88" stroke="#6a6a6a" stroke-width="0.6"/>
<line x1="581.70" y1="205.42" x2="583.50" y2="205.42" stroke="#6a6a6a" stroke-width="0.6"/>
<line x1="581.70" y1="208.96" x2="583.50" y2="208.96" stroke="#6a6a6a" stroke-width="0.6"/>
<line x1="581.70" y1="212.50" x2="583.50" y2="212.50" stroke="#6a6a6a" stroke-width="0.6"/>
<line x1="581.70" y1="216.04" x2="583.50" y2="216.04" stroke="#6a6a6a" stroke-width="0.6"/>
<line x1="581.70" y1="219.58" x2="583.50" y2="219.58" stroke="#6a6a6a" stroke-width="0.6"/>
<text x="565.00" y="129.30" font-size="5.6" text-anchor="middle" fill="#333" transform="rotate(-90 565.00 129.30)">AU</text>
<text x="819.70" y="237.00" font-size="5.8" text-anchor="middle" fill="#333">Minutes</text>
<polyline points="583.20,212.60 601.10,212.60 602.20,156.70 603.90,145.20 604.80,90.00 605.50,40.70 606.00,95.00 606.30,122.10 607.10,121.30 608.80,161.60 611.30,201.10 612.50,203.00 613.30,185.00 613.70,179.70 614.20,192.00 615.40,202.70 617.80,206.00 620.30,196.10 621.60,202.00 623.10,191.20 624.30,201.00 625.70,192.90 628.50,207.70 634.30,209.30 645.80,211.00 662.30,212.30 672.10,211.00 678.70,212.30 685.30,210.10 693.50,206.00 695.20,201.10 697.00,207.00 700.00,208.00 705.00,208.50 707.50,203.50 709.50,209.50 713.00,209.50 715.70,202.70 717.50,209.50 722.00,211.20 740.00,212.20 800.00,212.60 880.00,212.60 905.00,213.30 1056.00,213.30" fill="none" stroke="#4a4a4a" stroke-width="0.9" stroke-linejoin="round"/>
<text x="587.02" y="209.70" font-size="6.6" fill="#222" transform="rotate(-90 587.02 209.70)">0.038</text>
<line x1="584.62" y1="211.20" x2="584.62" y2="217.70" stroke="#333" stroke-width="0.7"/>
<text x="608.37" y="63.90" font-size="6.6" fill="#222" transform="rotate(-90 608.37 63.90)">0.760</text>
<line x1="605.97" y1="65.40" x2="605.97" y2="71.90" stroke="#333" stroke-width="0.7"/>
<text x="616.52" y="179.30" font-size="6.6" fill="#222" transform="rotate(-90 616.52 179.30)">1.036</text>
<line x1="614.12" y1="180.80" x2="614.12" y2="187.30" stroke="#333" stroke-width="0.7"/>
<text x="622.58" y="195.80" font-size="6.6" fill="#222" transform="rotate(-90 622.58 195.80)">1.241</text>
<line x1="620.18" y1="197.30" x2="620.18" y2="203.80" stroke="#333" stroke-width="0.7"/>
<text x="625.19" y="184.40" font-size="6.6" fill="#222" transform="rotate(-90 625.19 184.40)">1.329</text>
<line x1="622.79" y1="185.90" x2="622.79" y2="192.40" stroke="#333" stroke-width="0.7"/>
<text x="628.26" y="194.50" font-size="6.6" fill="#222" transform="rotate(-90 628.26 194.50)">1.433</text>
<line x1="625.86" y1="196.00" x2="625.86" y2="202.50" stroke="#333" stroke-width="0.7"/>
<text x="636.33" y="209.70" font-size="6.6" fill="#222" transform="rotate(-90 636.33 209.70)">1.706</text>
<line x1="633.93" y1="211.20" x2="633.93" y2="217.70" stroke="#333" stroke-width="0.7"/>
<text x="638.69" y="209.70" font-size="6.6" fill="#222" transform="rotate(-90 638.69 209.70)">1.786</text>
<line x1="636.29" y1="211.20" x2="636.29" y2="217.70" stroke="#333" stroke-width="0.7"/>
<text x="641.56" y="211.00" font-size="6.6" fill="#222" transform="rotate(-90 641.56 211.00)">1.883</text>
<line x1="639.16" y1="212.50" x2="639.16" y2="219.00" stroke="#333" stroke-width="0.7"/>
<text x="648.80" y="208.40" font-size="6.6" fill="#222" transform="rotate(-90 648.80 208.40)">2.128</text>
<line x1="646.40" y1="209.90" x2="646.40" y2="216.40" stroke="#333" stroke-width="0.7"/>
<text x="657.97" y="208.40" font-size="6.6" fill="#222" transform="rotate(-90 657.97 208.40)">2.438</text>
<line x1="655.57" y1="209.90" x2="655.57" y2="216.40" stroke="#333" stroke-width="0.7"/>
<text x="664.71" y="208.40" font-size="6.6" fill="#222" transform="rotate(-90 664.71 208.40)">2.666</text>
<line x1="662.31" y1="209.90" x2="662.31" y2="216.40" stroke="#333" stroke-width="0.7"/>
<text x="675.85" y="208.40" font-size="6.6" fill="#222" transform="rotate(-90 675.85 208.40)">3.043</text>
<line x1="673.45" y1="209.90" x2="673.45" y2="216.40" stroke="#333" stroke-width="0.7"/>
<text x="687.70" y="208.40" font-size="6.6" fill="#222" transform="rotate(-90 687.70 208.40)">3.444</text>
<line x1="685.30" y1="209.90" x2="685.30" y2="216.40" stroke="#333" stroke-width="0.7"/>
<text x="691.13" y="208.40" font-size="6.6" fill="#222" transform="rotate(-90 691.13 208.40)">3.561</text>
<line x1="688.73" y1="209.90" x2="688.73" y2="216.40" stroke="#333" stroke-width="0.7"/>
<text x="694.68" y="208.40" font-size="6.6" fill="#222" transform="rotate(-90 694.68 208.40)">3.681</text>
<line x1="692.28" y1="209.90" x2="692.28" y2="216.40" stroke="#333" stroke-width="0.7"/>
<text x="698.02" y="194.50" font-size="6.6" fill="#222" transform="rotate(-90 698.02 194.50)">3.793</text>
<line x1="695.62" y1="196.00" x2="695.62" y2="202.50" stroke="#333" stroke-width="0.7"/>
<text x="701.27" y="204.60" font-size="6.6" fill="#222" transform="rotate(-90 701.27 204.60)">3.903</text>
<line x1="698.87" y1="206.10" x2="698.87" y2="212.60" stroke="#333" stroke-width="0.7"/>
<text x="710.29" y="202.10" font-size="6.6" fill="#222" transform="rotate(-90 710.29 202.10)">4.208</text>
<line x1="707.89" y1="203.60" x2="707.89" y2="210.10" stroke="#333" stroke-width="0.7"/>
<text x="714.66" y="208.40" font-size="6.6" fill="#222" transform="rotate(-90 714.66 208.40)">4.356</text>
<line x1="712.26" y1="209.90" x2="712.26" y2="216.40" stroke="#333" stroke-width="0.7"/>
<text x="719.22" y="197.00" font-size="6.6" fill="#222" transform="rotate(-90 719.22 197.00)">4.510</text>
<line x1="716.82" y1="198.50" x2="716.82" y2="205.00" stroke="#333" stroke-width="0.7"/>
<text x="727.73" y="207.20" font-size="6.6" fill="#222" transform="rotate(-90 727.73 207.20)">4.798</text>
<line x1="725.33" y1="208.70" x2="725.33" y2="215.20" stroke="#333" stroke-width="0.7"/>
<text x="731.19" y="207.20" font-size="6.6" fill="#222" transform="rotate(-90 731.19 207.20)">4.915</text>
<line x1="728.79" y1="208.70" x2="728.79" y2="215.20" stroke="#333" stroke-width="0.7"/>
<text x="738.13" y="208.40" font-size="6.6" fill="#222" transform="rotate(-90 738.13 208.40)">5.150</text>
<line x1="735.73" y1="209.90" x2="735.73" y2="216.40" stroke="#333" stroke-width="0.7"/>
<text x="743.40" y="208.40" font-size="6.6" fill="#222" transform="rotate(-90 743.40 208.40)">5.328</text>
<line x1="741.00" y1="209.90" x2="741.00" y2="216.40" stroke="#333" stroke-width="0.7"/>
<text x="748.27" y="208.40" font-size="6.6" fill="#222" transform="rotate(-90 748.27 208.40)">5.493</text>
<line x1="745.87" y1="209.90" x2="745.87" y2="216.40" stroke="#333" stroke-width="0.7"/>
<text x="755.22" y="208.40" font-size="6.6" fill="#222" transform="rotate(-90 755.22 208.40)">5.728</text>
<line x1="752.82" y1="209.90" x2="752.82" y2="216.40" stroke="#333" stroke-width="0.7"/>
<text x="757.64" y="208.40" font-size="6.6" fill="#222" transform="rotate(-90 757.64 208.40)">5.810</text>
<line x1="755.24" y1="209.90" x2="755.24" y2="216.40" stroke="#333" stroke-width="0.7"/>
<text x="760.27" y="208.40" font-size="6.6" fill="#222" transform="rotate(-90 760.27 208.40)">5.899</text>
<line x1="757.87" y1="209.90" x2="757.87" y2="216.40" stroke="#333" stroke-width="0.7"/>
<text x="775.00" y="208.40" font-size="6.6" fill="#222" transform="rotate(-90 775.00 208.40)">6.397</text>
<line x1="772.60" y1="209.90" x2="772.60" y2="216.40" stroke="#333" stroke-width="0.7"/>
<text x="782.74" y="208.40" font-size="6.6" fill="#222" transform="rotate(-90 782.74 208.40)">6.659</text>
<line x1="780.34" y1="209.90" x2="780.34" y2="216.40" stroke="#333" stroke-width="0.7"/>
<text x="795.33" y="208.40" font-size="6.6" fill="#222" transform="rotate(-90 795.33 208.40)">7.085</text>
<line x1="792.93" y1="209.90" x2="792.93" y2="216.40" stroke="#333" stroke-width="0.7"/>
<text x="807.45" y="208.40" font-size="6.6" fill="#222" transform="rotate(-90 807.45 208.40)">7.495</text>
<line x1="805.05" y1="209.90" x2="805.05" y2="216.40" stroke="#333" stroke-width="0.7"/>
<text x="847.65" y="208.40" font-size="6.6" fill="#222" transform="rotate(-90 847.65 208.40)">8.855</text>
<line x1="845.25" y1="209.90" x2="845.25" y2="216.40" stroke="#333" stroke-width="0.7"/>
<text x="872.13" y="208.40" font-size="6.6" fill="#222" transform="rotate(-90 872.13 208.40)">9.683</text>
<line x1="869.73" y1="209.90" x2="869.73" y2="216.40" stroke="#333" stroke-width="0.7"/>
<text x="878.78" y="208.40" font-size="6.6" fill="#222" transform="rotate(-90 878.78 208.40)">9.908</text>
<line x1="876.38" y1="209.90" x2="876.38" y2="216.40" stroke="#333" stroke-width="0.7"/>
<text x="891.99" y="208.40" font-size="6.6" fill="#222" transform="rotate(-90 891.99 208.40)">10.355</text>
<line x1="889.59" y1="209.90" x2="889.59" y2="216.40" stroke="#333" stroke-width="0.7"/>
<text x="1057.15" y="209.30" font-size="6.6" fill="#222" transform="rotate(-90 1057.15 209.30)">15.942</text>
<line x1="1054.75" y1="210.80" x2="1054.75" y2="217.30" stroke="#333" stroke-width="0.7"/>
</g>
<line x1="55.60" y1="337.90" x2="55.60" y2="383.40" stroke="#c4c4c4" stroke-width="1"/>
<line x1="55.60" y1="383.40" x2="288.40" y2="383.40" stroke="#c4c4c4" stroke-width="1"/>
<line x1="53.10" y1="383.40" x2="55.60" y2="383.40" stroke="#c4c4c4" stroke-width="1"/>
<text x="51.00" y="386.34" font-size="11.0" text-anchor="end" fill="#111">0.0</text>
<line x1="53.10" y1="368.60" x2="55.60" y2="368.60" stroke="#c4c4c4" stroke-width="1"/>
<text x="51.00" y="371.54" font-size="11.0" text-anchor="end" fill="#111">0.5</text>
<line x1="53.10" y1="353.40" x2="55.60" y2="353.40" stroke="#c4c4c4" stroke-width="1"/>
<text x="51.00" y="356.34" font-size="11.0" text-anchor="end" fill="#111">1.0</text>
<line x1="53.10" y1="337.90" x2="55.60" y2="337.90" stroke="#c4c4c4" stroke-width="1"/>
<text x="51.00" y="340.84" font-size="11.0" text-anchor="end" fill="#111">1.5</text>
<line x1="55.60" y1="383.40" x2="55.60" y2="385.90" stroke="#c4c4c4" stroke-width="0.8"/>
<line x1="70.15" y1="383.40" x2="70.15" y2="384.90" stroke="#c4c4c4" stroke-width="0.8"/>
<line x1="84.70" y1="383.40" x2="84.70" y2="385.90" stroke="#c4c4c4" stroke-width="0.8"/>
<line x1="99.25" y1="383.40" x2="99.25" y2="384.90" stroke="#c4c4c4" stroke-width="0.8"/>
<line x1="113.80" y1="383.40" x2="113.80" y2="385.90" stroke="#c4c4c4" stroke-width="0.8"/>
<line x1="128.35" y1="383.40" x2="128.35" y2="384.90" stroke="#c4c4c4" stroke-width="0.8"/>
<line x1="142.90" y1="383.40" x2="142.90" y2="385.90" stroke="#c4c4c4" stroke-width="0.8"/>
<line x1="157.45" y1="383.40" x2="157.45" y2="384.90" stroke="#c4c4c4" stroke-width="0.8"/>
<line x1="172.00" y1="383.40" x2="172.00" y2="385.90" stroke="#c4c4c4" stroke-width="0.8"/>
<line x1="186.55" y1="383.40" x2="186.55" y2="384.90" stroke="#c4c4c4" stroke-width="0.8"/>
<line x1="201.10" y1="383.40" x2="201.10" y2="385.90" stroke="#c4c4c4" stroke-width="0.8"/>
<line x1="215.65" y1="383.40" x2="215.65" y2="384.90" stroke="#c4c4c4" stroke-width="0.8"/>
<line x1="230.20" y1="383.40" x2="230.20" y2="385.90" stroke="#c4c4c4" stroke-width="0.8"/>
<line x1="244.75" y1="383.40" x2="244.75" y2="384.90" stroke="#c4c4c4" stroke-width="0.8"/>
<line x1="259.30" y1="383.40" x2="259.30" y2="385.90" stroke="#c4c4c4" stroke-width="0.8"/>
<line x1="273.85" y1="383.40" x2="273.85" y2="384.90" stroke="#c4c4c4" stroke-width="0.8"/>
<line x1="288.40" y1="383.40" x2="288.40" y2="385.90" stroke="#c4c4c4" stroke-width="0.8"/>
<text x="57.60" y="395.30" font-size="11.0" text-anchor="middle" fill="#111">0</text>
<text x="115.80" y="395.30" font-size="11.0" text-anchor="middle" fill="#111">4</text>
<text x="174.00" y="395.30" font-size="11.0" text-anchor="middle" fill="#111">8</text>
<text x="232.20" y="395.30" font-size="11.0" text-anchor="middle" fill="#111">12</text>
<text x="290.40" y="395.30" font-size="11.0" text-anchor="middle" fill="#111">16</text>
<text x="54.60" y="336.70" font-size="9.0" fill="#111">1e9</text>
<polyline points="55.60,381.57 55.96,381.72 56.33,381.85 56.69,381.97 57.05,382.09 57.42,382.19 57.78,382.29 58.15,382.38 58.51,382.46 58.87,382.54 59.24,382.60 59.60,382.67 59.97,382.73 60.33,382.78 60.69,382.83 61.06,382.88 61.42,382.92 61.78,382.96 62.15,382.99 62.51,383.02 62.88,383.05 63.24,383.08 63.60,383.11 63.97,383.13 64.33,383.15 64.69,383.15 65.06,383.07 65.42,382.73 65.78,381.96 66.15,380.97 66.51,380.49 66.88,380.97 67.24,381.89 67.60,382.44 67.97,382.26 68.33,381.52 68.70,380.60 69.06,380.04 69.42,380.15 69.79,380.77 70.15,381.45 70.51,381.82 70.88,381.80 71.24,381.52 71.61,381.09 71.97,380.58 72.33,380.03 72.70,379.48 73.06,378.97 73.42,378.52 73.79,378.18 74.15,377.96 74.52,377.89 74.88,377.96 75.24,378.18 75.61,378.52 75.97,378.94 76.33,379.39 76.70,379.80 77.06,380.07 77.43,380.10 77.79,379.76 78.15,378.98 78.52,377.72 78.88,376.07 79.24,374.25 79.61,372.58 79.97,371.41 80.34,371.04 80.70,371.56 81.06,372.88 81.43,374.74 81.79,376.79 82.15,378.73 82.52,380.34 82.88,381.54 83.25,382.35 83.61,382.84 83.97,383.10 84.34,383.22 84.70,383.24 85.06,383.21 85.43,383.14 85.79,383.03 86.16,382.88 86.52,382.69 86.88,382.44 87.25,382.14 87.61,381.79 87.97,381.40 88.34,380.96 88.70,380.50 89.06,380.03 89.43,379.56 89.79,379.10 90.16,378.67 90.52,378.25 90.88,377.84 91.25,377.43 91.61,377.00 91.97,376.51 92.34,375.96 92.70,375.32 93.07,374.57 93.43,373.73 93.79,372.80 94.16,371.80 94.52,370.78 94.89,369.77 95.25,368.83 95.61,368.00 95.98,367.32 96.34,366.84 96.70,366.57 97.07,366.53 97.43,366.70 97.80,367.05 98.16,367.53 98.52,368.07 98.89,368.59 99.25,369.04 99.61,369.39 99.98,369.66 100.34,369.92 100.71,370.27 101.07,370.82 101.43,371.64 101.80,372.77 102.16,374.16 102.52,375.70 102.89,377.28 103.25,378.75 103.62,380.03 103.98,381.06 104.34,381.83 104.71,382.38 105.07,382.75 105.43,382.98 105.80,383.12 106.16,383.19 106.53,383.21 106.89,383.20 107.25,383.17 107.62,383.11 107.98,383.03 108.34,382.92 108.71,382.77 109.07,382.59 109.44,382.37 109.80,382.10 110.16,381.79 110.53,381.41 110.89,380.92 111.25,379.97 111.62,377.22 111.98,370.08 112.34,357.57 112.71,345.53 113.07,343.60 113.44,353.06 113.80,364.99 114.16,372.15 114.53,374.46 114.89,374.32 115.25,372.22 115.62,366.46 115.98,356.32 116.35,346.69 116.71,345.72 117.07,354.45 117.44,365.25 117.80,371.73 118.16,373.15 118.53,370.93 118.89,366.61 119.26,362.88 119.62,362.69 119.98,366.35 120.35,371.20 120.71,374.61 121.08,376.10 121.44,376.56 121.80,376.90 122.17,377.50 122.53,378.40 122.89,379.47 123.26,380.54 123.62,381.46 123.99,382.16 124.35,382.64 124.71,382.95 125.08,383.13 125.44,383.23 125.80,383.29 126.17,383.33 126.53,383.35 126.90,383.37 127.26,383.38 127.62,383.39 127.99,383.39 128.35,383.39 128.71,383.40 129.08,383.40 129.44,383.40 129.81,383.40 130.17,383.40 130.53,383.40 130.90,383.40 131.26,383.40 131.62,383.40 131.99,383.40 132.35,383.40 132.72,383.40 133.08,383.40 133.44,383.40 133.81,383.40 134.17,383.40 134.53,383.40 134.90,383.40 135.26,383.40 135.62,383.39 135.99,383.37 136.35,383.28 136.72,383.04 137.08,382.49 137.44,381.48 137.81,380.00 138.17,378.34 138.53,377.05 138.90,376.71 139.26,377.48 139.63,378.99 139.99,380.64 140.35,381.95 140.72,382.76 141.08,383.16 141.45,383.33 141.81,383.38 142.17,383.40 142.54,383.40 142.90,383.40 143.26,383.40 143.63,383.40 143.99,383.40 144.35,383.40 144.72,383.40 145.08,383.40 145.45,383.40 145.81,383.40 146.17,383.40 146.54,383.40 146.90,383.40 147.27,383.40 147.63,383.40 147.99,383.40 148.36,383.40 148.72,383.40 149.08,383.40 149.45,383.40 149.81,383.40 150.18,383.40 150.54,383.40 150.90,383.40 151.27,383.40 151.63,383.40 151.99,383.40 152.36,383.40 152.72,383.40 153.09,383.40 153.45,383.40 153.81,383.40 154.18,383.40 154.54,383.40 154.90,383.40 155.27,383.40 155.63,383.40 156.00,383.40 156.36,383.40 156.72,383.40 157.09,383.40 157.45,383.40 157.81,383.40 158.18,383.40 158.54,383.40 158.91,383.40 159.27,383.40 159.63,383.40 160.00,383.40 160.36,383.40 160.72,383.40 161.09,383.40 161.45,383.40 161.81,383.40 162.18,383.40 162.54,383.40 162.91,383.40 163.27,383.40 163.63,383.40 164.00,383.40 164.36,383.40 164.72,383.40 165.09,383.40 165.45,383.40 165.82,383.40 166.18,383.40 166.54,383.40 166.91,383.40 167.27,383.40 167.64,383.40 168.00,383.40 168.36,383.40 168.73,383.40 169.09,383.40 169.45,383.40 169.82,383.40 170.18,383.40 170.55,383.40 170.91,383.40 171.27,383.40 171.64,383.40 172.00,383.40 172.36,383.40 172.73,383.40 173.09,383.40 173.46,383.40 173.82,383.40 174.18,383.40 174.55,383.40 174.91,383.40 175.27,383.40 175.64,383.40 176.00,383.40 176.37,383.40 176.73,383.40 177.09,383.40 177.46,383.40 177.82,383.40 178.18,383.40 178.55,383.40 178.91,383.40 179.28,383.40 179.64,383.40 180.00,383.40 180.37,383.40 180.73,383.40 181.09,383.40 181.46,383.40 181.82,383.40 182.19,383.40 182.55,383.40 182.91,383.39 183.28,383.38 183.64,383.36 184.00,383.32 184.37,383.24 184.73,383.13 185.09,382.98 185.46,382.81 185.82,382.65 186.19,382.53 186.55,382.48 186.91,382.53 187.28,382.65 187.64,382.81 188.00,382.98 188.37,383.13 188.73,383.24 189.10,383.32 189.46,383.36 189.82,383.38 190.19,383.39 190.55,383.40 190.92,383.40 191.28,383.40 191.64,383.40 192.01,383.40 192.37,383.40 192.73,383.40 193.10,383.40 193.46,383.40 193.82,383.40 194.19,383.40 194.55,383.40 194.92,383.40 195.28,383.40 195.64,383.40 196.01,383.40 196.37,383.40 196.73,383.40 197.10,383.40 197.46,383.40 197.83,383.40 198.19,383.40 198.55,383.40 198.92,383.40 199.28,383.40 199.65,383.40 200.01,383.40 200.37,383.40 200.74,383.40 201.10,383.40 201.46,383.40 201.83,383.40 202.19,383.40 202.56,383.40 202.92,383.40 203.28,383.40 203.65,383.40 204.01,383.40 204.37,383.40 204.74,383.40 205.10,383.40 205.47,383.39 205.83,383.36 206.19,383.29 206.56,383.12 206.92,382.78 207.28,382.13 207.65,381.01 208.01,379.27 208.38,376.87 208.74,373.93 209.10,370.80 209.47,368.02 209.83,366.19 210.19,365.72 210.56,366.72 210.92,368.88 211.28,371.54 211.65,373.91 212.01,375.10 212.38,374.40 212.74,371.34 213.10,366.01 213.47,359.23 213.83,352.53 214.19,347.78 214.56,346.38 214.92,348.70 215.29,353.81 215.65,360.02 216.01,365.59 216.38,369.49 216.74,371.53 217.10,372.20 217.47,372.26 217.83,372.39 218.20,373.02 218.56,374.22 218.92,375.85 219.29,377.64 219.65,379.33 220.02,380.74 220.38,381.79 220.74,382.50 221.11,382.93 221.47,383.17 221.83,383.30 222.20,383.36 222.56,383.38 222.93,383.39 223.29,383.39 223.65,383.38 224.02,383.35 224.38,383.27 224.74,383.11 225.11,382.79 225.47,382.21 225.83,381.25 226.20,379.80 226.56,377.81 226.93,375.35 227.29,372.66 227.65,370.09 228.02,368.05 228.38,366.81 228.75,366.44 229.11,366.76 229.47,367.41 229.84,368.07 230.20,368.59 230.56,369.09 230.93,369.84 231.29,371.09 231.66,372.91 232.02,375.12 232.38,377.39 232.75,379.42 233.11,381.00 233.47,382.08 233.84,382.74 234.20,383.10 234.57,383.28 234.93,383.35 235.29,383.38 235.66,383.40 236.02,383.40 236.38,383.40 236.75,383.40 237.11,383.40 237.47,383.40 237.84,383.40 238.20,383.40 238.57,383.40 238.93,383.40 239.29,383.40 239.66,383.40 240.02,383.40 240.38,383.40 240.75,383.40 241.11,383.40 241.48,383.40 241.84,383.40 242.20,383.40 242.57,383.40 242.93,383.40 243.30,383.40 243.66,383.40 244.02,383.40 244.39,383.40 244.75,383.40 245.11,383.40 245.48,383.40 245.84,383.40 246.21,383.40 246.57,383.40 246.93,383.40 247.30,383.40 247.66,383.40 248.02,383.40 248.39,383.40 248.75,383.40 249.12,383.40 249.48,383.40 249.84,383.40 250.21,383.40 250.57,383.40 250.93,383.40 251.30,383.40 251.66,383.40 252.03,383.40 252.39,383.40 252.75,383.40 253.12,383.40 253.48,383.40 253.84,383.40 254.21,383.40 254.57,383.40 254.94,383.40 255.30,383.40 255.66,383.40 256.03,383.40 256.39,383.40 256.75,383.40 257.12,383.40 257.48,383.40 257.85,383.40 258.21,383.40 258.57,383.40 258.94,383.40 259.30,383.40 259.66,383.40 260.03,383.40 260.39,383.40 260.75,383.40 261.12,383.40 261.48,383.40 261.85,383.40 262.21,383.40 262.57,383.40 262.94,383.40 263.30,383.40 263.67,383.40 264.03,383.40 264.39,383.40 264.76,383.40 265.12,383.40 265.48,383.40 265.85,383.40 266.21,383.40 266.58,383.40 266.94,383.40 267.30,383.40 267.67,383.40 268.03,383.40 268.39,383.40 268.76,383.40 269.12,383.40 269.49,383.40 269.85,383.40 270.21,383.40 270.58,383.40 270.94,383.40 271.30,383.40 271.67,383.40 272.03,383.40 272.40,383.40 272.76,383.40 273.12,383.40 273.49,383.40 273.85,383.40 274.21,383.40 274.58,383.40 274.94,383.40 275.31,383.40 275.67,383.40 276.03,383.40 276.40,383.40 276.76,383.40 277.12,383.40 277.49,383.40 277.85,383.40 278.22,383.40 278.58,383.40 278.94,383.40 279.31,383.40 279.67,383.40 280.03,383.40 280.40,383.40 280.76,383.40 281.12,383.40 281.49,383.40 281.85,383.40 282.22,383.40 282.58,383.40 282.94,383.40 283.31,383.40 283.67,383.40 284.04,383.40 284.40,383.40 284.76,383.40 285.13,383.40 285.49,383.40 285.85,383.40 286.22,383.40 286.58,383.40 286.95,383.40 287.31,383.40 287.67,383.40 288.04,383.40 288.40,383.40" fill="none" stroke="#e03a44" stroke-width="1.0" stroke-linejoin="round"/>
<line x1="55.60" y1="405.70" x2="55.60" y2="447.60" stroke="#c4c4c4" stroke-width="1"/>
<line x1="55.60" y1="447.60" x2="288.40" y2="447.60" stroke="#c4c4c4" stroke-width="1"/>
<line x1="53.10" y1="436.40" x2="55.60" y2="436.40" stroke="#c4c4c4" stroke-width="1"/>
<text x="51.20" y="439.75" font-size="11.3" text-anchor="end" fill="#111">0.5</text>
<line x1="53.10" y1="424.90" x2="55.60" y2="424.90" stroke="#c4c4c4" stroke-width="1"/>
<text x="51.20" y="428.45" font-size="11.3" text-anchor="end" fill="#111">1.0</text>
<line x1="53.10" y1="413.30" x2="55.60" y2="413.30" stroke="#c4c4c4" stroke-width="1"/>
<text x="51.20" y="416.05" font-size="11.3" text-anchor="end" fill="#111">1.5</text>
<line x1="53.10" y1="402.40" x2="55.60" y2="402.40" stroke="#c4c4c4" stroke-width="1"/>
<text x="51.20" y="405.65" font-size="11.3" text-anchor="end" fill="#111">2.0</text>
<line x1="55.60" y1="447.60" x2="55.60" y2="450.10" stroke="#c4c4c4" stroke-width="0.8"/>
<line x1="70.15" y1="447.60" x2="70.15" y2="449.10" stroke="#c4c4c4" stroke-width="0.8"/>
<line x1="84.70" y1="447.60" x2="84.70" y2="450.10" stroke="#c4c4c4" stroke-width="0.8"/>
<line x1="99.25" y1="447.60" x2="99.25" y2="449.10" stroke="#c4c4c4" stroke-width="0.8"/>
<line x1="113.80" y1="447.60" x2="113.80" y2="450.10" stroke="#c4c4c4" stroke-width="0.8"/>
<line x1="128.35" y1="447.60" x2="128.35" y2="449.10" stroke="#c4c4c4" stroke-width="0.8"/>
<line x1="142.90" y1="447.60" x2="142.90" y2="450.10" stroke="#c4c4c4" stroke-width="0.8"/>
<line x1="157.45" y1="447.60" x2="157.45" y2="449.10" stroke="#c4c4c4" stroke-width="0.8"/>
<line x1="172.00" y1="447.60" x2="172.00" y2="450.10" stroke="#c4c4c4" stroke-width="0.8"/>
<line x1="186.55" y1="447.60" x2="186.55" y2="449.10" stroke="#c4c4c4" stroke-width="0.8"/>
<line x1="201.10" y1="447.60" x2="201.10" y2="450.10" stroke="#c4c4c4" stroke-width="0.8"/>
<line x1="215.65" y1="447.60" x2="215.65" y2="449.10" stroke="#c4c4c4" stroke-width="0.8"/>
<line x1="230.20" y1="447.60" x2="230.20" y2="450.10" stroke="#c4c4c4" stroke-width="0.8"/>
<line x1="244.75" y1="447.60" x2="244.75" y2="449.10" stroke="#c4c4c4" stroke-width="0.8"/>
<line x1="259.30" y1="447.60" x2="259.30" y2="450.10" stroke="#c4c4c4" stroke-width="0.8"/>
<line x1="273.85" y1="447.60" x2="273.85" y2="449.10" stroke="#c4c4c4" stroke-width="0.8"/>
<line x1="288.40" y1="447.60" x2="288.40" y2="450.10" stroke="#c4c4c4" stroke-width="0.8"/>
<text x="57.60" y="459.40" font-size="11.0" text-anchor="middle" fill="#111">0</text>
<text x="115.80" y="459.40" font-size="11.0" text-anchor="middle" fill="#111">4</text>
<text x="174.00" y="459.40" font-size="11.0" text-anchor="middle" fill="#111">8</text>
<text x="232.20" y="459.40" font-size="11.0" text-anchor="middle" fill="#111">12</text>
<text x="290.40" y="459.40" font-size="11.0" text-anchor="middle" fill="#111">16</text>
<text x="54.40" y="405.70" font-size="9.0" fill="#111">1e9</text>
<polyline points="55.60,445.61 55.96,445.75 56.33,445.88 56.69,446.00 57.05,446.12 57.42,446.22 57.78,446.31 58.15,446.40 58.51,446.48 58.87,446.55 59.24,446.62 59.60,446.68 59.97,446.74 60.33,446.79 60.69,446.84 61.06,446.89 61.42,446.93 61.78,446.97 62.15,447.00 62.51,447.03 62.88,447.06 63.24,447.09 63.60,447.11 63.97,447.14 64.33,447.16 64.69,447.16 65.06,447.10 65.42,446.82 65.78,446.20 66.15,445.39 66.51,445.01 66.88,445.41 67.24,446.21 67.60,446.79 67.97,446.90 68.33,446.62 68.70,446.09 69.06,445.54 69.42,445.24 69.79,445.32 70.15,445.64 70.51,445.92 70.88,445.99 71.24,445.82 71.61,445.49 71.97,445.09 72.33,444.64 72.70,444.20 73.06,443.78 73.42,443.42 73.79,443.13 74.15,442.96 74.52,442.90 74.88,442.96 75.24,443.14 75.61,443.41 75.97,443.75 76.33,444.11 76.70,444.42 77.06,444.61 77.43,444.56 77.79,444.18 78.15,443.37 78.52,442.12 78.88,440.50 79.24,438.73 79.61,437.12 79.97,435.99 80.34,435.62 80.70,436.11 81.06,437.36 81.43,439.13 81.79,441.09 82.15,442.94 82.52,444.48 82.88,445.63 83.25,446.40 83.61,446.86 83.97,447.11 84.34,447.23 84.70,447.25 85.06,447.23 85.43,447.16 85.79,447.06 86.16,446.93 86.52,446.75 86.88,446.52 87.25,446.25 87.61,445.93 87.97,445.56 88.34,445.16 88.70,444.74 89.06,444.31 89.43,443.88 89.79,443.46 90.16,443.06 90.52,442.68 90.88,442.32 91.25,441.95 91.61,441.55 91.97,441.12 92.34,440.62 92.70,440.04 93.07,439.37 93.43,438.60 93.79,437.76 94.16,436.86 94.52,435.94 94.89,435.02 95.25,434.17 95.61,433.41 95.98,432.80 96.34,432.36 96.70,432.12 97.07,432.08 97.43,432.23 97.80,432.55 98.16,432.98 98.52,433.45 98.89,433.91 99.25,434.30 99.61,434.60 99.98,434.82 100.34,435.03 100.71,435.32 101.07,435.80 101.43,436.55 101.80,437.57 102.16,438.85 102.52,440.28 102.89,441.73 103.25,443.10 103.62,444.28 103.98,445.23 104.34,445.95 104.71,446.46 105.07,446.80 105.43,447.01 105.80,447.14 106.16,447.20 106.53,447.23 106.89,447.22 107.25,447.19 107.62,447.13 107.98,447.06 108.34,446.95 108.71,446.82 109.07,446.65 109.44,446.44 109.80,446.19 110.16,445.90 110.53,445.55 110.89,445.09 111.25,444.13 111.62,441.25 111.98,433.67 112.34,420.34 112.71,407.51 113.07,405.53 113.44,415.76 113.80,428.65 114.16,436.41 114.53,439.01 114.89,439.18 115.25,438.08 115.62,434.67 115.98,427.41 116.35,418.27 116.71,413.94 117.07,418.59 117.44,427.96 117.80,435.04 118.16,437.19 118.53,435.17 118.89,430.76 119.26,426.88 119.62,426.64 119.98,430.37 120.35,435.33 120.71,438.83 121.08,440.35 121.44,440.81 121.80,441.12 122.17,441.69 122.53,442.56 122.89,443.60 123.26,444.64 123.62,445.53 123.99,446.21 124.35,446.68 124.71,446.97 125.08,447.14 125.44,447.24 125.80,447.30 126.17,447.33 126.53,447.36 126.90,447.37 127.26,447.38 127.62,447.39 127.99,447.39 128.35,447.39 128.71,447.40 129.08,447.40 129.44,447.40 129.81,447.40 130.17,447.40 130.53,447.40 130.90,447.40 131.26,447.40 131.62,447.40 131.99,447.40 132.35,447.40 132.72,447.40 133.08,447.40 133.44,447.40 133.81,447.40 134.17,447.40 134.53,447.40 134.90,447.40 135.26,447.40 135.62,447.39 135.99,447.37 136.35,447.29 136.72,447.07 137.08,446.58 137.44,445.67 137.81,444.34 138.17,442.83 138.53,441.68 138.90,441.37 139.26,442.06 139.63,443.43 139.99,444.91 140.35,446.09 140.72,446.82 141.08,447.18 141.45,447.33 141.81,447.38 142.17,447.40 142.54,447.40 142.90,447.40 143.26,447.40 143.63,447.40 143.99,447.40 144.35,447.40 144.72,447.40 145.08,447.40 145.45,447.40 145.81,447.40 146.17,447.40 146.54,447.40 146.90,447.40 147.27,447.40 147.63,447.40 147.99,447.40 148.36,447.40 148.72,447.40 149.08,447.40 149.45,447.40 149.81,447.40 150.18,447.40 150.54,447.40 150.90,447.40 151.27,447.40 151.63,447.40 151.99,447.40 152.36,447.40 152.72,447.40 153.09,447.40 153.45,447.40 153.81,447.40 154.18,447.40 154.54,447.40 154.90,447.40 155.27,447.40 155.63,447.40 156.00,447.40 156.36,447.40 156.72,447.40 157.09,447.40 157.45,447.40 157.81,447.40 158.18,447.40 158.54,447.40 158.91,447.40 159.27,447.40 159.63,447.40 160.00,447.40 160.36,447.40 160.72,447.40 161.09,447.40 161.45,447.40 161.81,447.40 162.18,447.40 162.54,447.40 162.91,447.40 163.27,447.40 163.63,447.40 164.00,447.40 164.36,447.40 164.72,447.40 165.09,447.40 165.45,447.40 165.82,447.40 166.18,447.40 166.54,447.40 166.91,447.40 167.27,447.40 167.64,447.40 168.00,447.40 168.36,447.40 168.73,447.40 169.09,447.40 169.45,447.40 169.82,447.40 170.18,447.40 170.55,447.40 170.91,447.40 171.27,447.40 171.64,447.40 172.00,447.40 172.36,447.40 172.73,447.40 173.09,447.40 173.46,447.40 173.82,447.40 174.18,447.40 174.55,447.40 174.91,447.40 175.27,447.40 175.64,447.40 176.00,447.40 176.37,447.40 176.73,447.40 177.09,447.40 177.46,447.40 177.82,447.40 178.18,447.40 178.55,447.40 178.91,447.40 179.28,447.40 179.64,447.40 180.00,447.40 180.37,447.40 180.73,447.40 181.09,447.40 181.46,447.40 181.82,447.40 182.19,447.40 182.55,447.40 182.91,447.39 183.28,447.38 183.64,447.36 184.00,447.32 184.37,447.25 184.73,447.14 185.09,446.99 185.46,446.82 185.82,446.66 186.19,446.55 186.55,446.50 186.91,446.55 187.28,446.66 187.64,446.82 188.00,446.99 188.37,447.14 188.73,447.25 189.10,447.32 189.46,447.36 189.82,447.38 190.19,447.39 190.55,447.40 190.92,447.40 191.28,447.40 191.64,447.40 192.01,447.40 192.37,447.40 192.73,447.40 193.10,447.40 193.46,447.40 193.82,447.40 194.19,447.40 194.55,447.40 194.92,447.40 195.28,447.40 195.64,447.40 196.01,447.40 196.37,447.40 196.73,447.40 197.10,447.40 197.46,447.40 197.83,447.40 198.19,447.40 198.55,447.40 198.92,447.40 199.28,447.40 199.65,447.40 200.01,447.40 200.37,447.40 200.74,447.40 201.10,447.40 201.46,447.40 201.83,447.40 202.19,447.40 202.56,447.40 202.92,447.40 203.28,447.40 203.65,447.40 204.01,447.40 204.37,447.40 204.74,447.40 205.10,447.40 205.47,447.39 205.83,447.37 206.19,447.31 206.56,447.19 206.92,446.93 207.28,446.43 207.65,445.58 208.01,444.26 208.38,442.44 208.74,440.20 209.10,437.83 209.47,435.72 209.83,434.32 210.19,433.97 210.56,434.73 210.92,436.36 211.28,438.38 211.65,440.16 212.01,441.03 212.38,440.43 212.74,438.00 213.10,433.80 213.47,428.47 213.83,423.22 214.19,419.49 214.56,418.40 214.92,420.20 215.29,424.20 215.65,429.04 216.01,433.39 216.38,436.43 216.74,438.00 217.10,438.50 217.47,438.53 217.83,438.63 218.20,439.12 218.56,440.08 218.92,441.38 219.29,442.81 219.65,444.16 220.02,445.28 220.38,446.11 220.74,446.68 221.11,447.03 221.47,447.22 221.83,447.32 222.20,447.37 222.56,447.39 222.93,447.39 223.29,447.39 223.65,447.38 224.02,447.36 224.38,447.30 224.74,447.18 225.11,446.93 225.47,446.48 225.83,445.73 226.20,444.60 226.56,443.05 226.93,441.15 227.29,439.06 227.65,437.07 228.02,435.49 228.38,434.54 228.75,434.29 229.11,434.59 229.47,435.16 229.84,435.76 230.20,436.25 230.56,436.71 230.93,437.33 231.29,438.30 231.66,439.66 232.02,441.30 232.38,442.98 232.75,444.47 233.11,445.63 233.47,446.43 233.84,446.92 234.20,447.18 234.57,447.31 234.93,447.37 235.29,447.39 235.66,447.40 236.02,447.40 236.38,447.40 236.75,447.40 237.11,447.40 237.47,447.40 237.84,447.40 238.20,447.40 238.57,447.40 238.93,447.40 239.29,447.40 239.66,447.40 240.02,447.40 240.38,447.40 240.75,447.40 241.11,447.40 241.48,447.40 241.84,447.40 242.20,447.40 242.57,447.40 242.93,447.40 243.30,447.40 243.66,447.40 244.02,447.40 244.39,447.40 244.75,447.40 245.11,447.40 245.48,447.40 245.84,447.40 246.21,447.40 246.57,447.40 246.93,447.40 247.30,447.40 247.66,447.40 248.02,447.40 248.39,447.40 248.75,447.40 249.12,447.40 249.48,447.40 249.84,447.40 250.21,447.40 250.57,447.40 250.93,447.40 251.30,447.40 251.66,447.40 252.03,447.40 252.39,447.40 252.75,447.40 253.12,447.40 253.48,447.40 253.84,447.40 254.21,447.40 254.57,447.40 254.94,447.40 255.30,447.40 255.66,447.40 256.03,447.40 256.39,447.40 256.75,447.40 257.12,447.40 257.48,447.40 257.85,447.40 258.21,447.40 258.57,447.40 258.94,447.40 259.30,447.40 259.66,447.40 260.03,447.40 260.39,447.40 260.75,447.40 261.12,447.40 261.48,447.40 261.85,447.40 262.21,447.40 262.57,447.40 262.94,447.40 263.30,447.40 263.67,447.40 264.03,447.40 264.39,447.40 264.76,447.40 265.12,447.40 265.48,447.40 265.85,447.40 266.21,447.40 266.58,447.40 266.94,447.40 267.30,447.40 267.67,447.40 268.03,447.40 268.39,447.40 268.76,447.40 269.12,447.40 269.49,447.40 269.85,447.40 270.21,447.40 270.58,447.40 270.94,447.40 271.30,447.40 271.67,447.40 272.03,447.40 272.40,447.40 272.76,447.40 273.12,447.40 273.49,447.40 273.85,447.40 274.21,447.40 274.58,447.40 274.94,447.40 275.31,447.40 275.67,447.40 276.03,447.40 276.40,447.40 276.76,447.40 277.12,447.40 277.49,447.40 277.85,447.40 278.22,447.40 278.58,447.40 278.94,447.40 279.31,447.40 279.67,447.40 280.03,447.40 280.40,447.40 280.76,447.40 281.12,447.40 281.49,447.40 281.85,447.40 282.22,447.40 282.58,447.40 282.94,447.40 283.31,447.40 283.67,447.40 284.04,447.40 284.40,447.40 284.76,447.40 285.13,447.40 285.49,447.40 285.85,447.40 286.22,447.40 286.58,447.40 286.95,447.40 287.31,447.40 287.67,447.40 288.04,447.40 288.40,447.40" fill="none" stroke="#3f7cba" stroke-width="1.0" stroke-linejoin="round"/>
<line x1="55.60" y1="466.30" x2="55.60" y2="512.00" stroke="#c4c4c4" stroke-width="1"/>
<line x1="55.60" y1="512.00" x2="288.40" y2="512.00" stroke="#c4c4c4" stroke-width="1"/>
<line x1="53.10" y1="512.00" x2="55.60" y2="512.00" stroke="#c4c4c4" stroke-width="1"/>
<text x="54.40" y="515.32" font-size="11.5" text-anchor="end" fill="#111">0.00</text>
<line x1="53.10" y1="500.60" x2="55.60" y2="500.60" stroke="#c4c4c4" stroke-width="1"/>
<text x="54.40" y="503.42" font-size="11.5" text-anchor="end" fill="#111">0.25</text>
<line x1="53.10" y1="489.20" x2="55.60" y2="489.20" stroke="#c4c4c4" stroke-width="1"/>
<text x="54.40" y="491.62" font-size="11.5" text-anchor="end" fill="#111">0.50</text>
<line x1="53.10" y1="477.80" x2="55.60" y2="477.80" stroke="#c4c4c4" stroke-width="1"/>
<text x="54.40" y="481.12" font-size="11.5" text-anchor="end" fill="#111">0.75</text>
<line x1="53.10" y1="466.30" x2="55.60" y2="466.30" stroke="#c4c4c4" stroke-width="1"/>
<text x="54.40" y="469.42" font-size="11.5" text-anchor="end" fill="#111">1.00</text>
<line x1="55.60" y1="512.00" x2="55.60" y2="514.50" stroke="#c4c4c4" stroke-width="0.8"/>
<line x1="70.15" y1="512.00" x2="70.15" y2="513.50" stroke="#c4c4c4" stroke-width="0.8"/>
<line x1="84.70" y1="512.00" x2="84.70" y2="514.50" stroke="#c4c4c4" stroke-width="0.8"/>
<line x1="99.25" y1="512.00" x2="99.25" y2="513.50" stroke="#c4c4c4" stroke-width="0.8"/>
<line x1="113.80" y1="512.00" x2="113.80" y2="514.50" stroke="#c4c4c4" stroke-width="0.8"/>
<line x1="128.35" y1="512.00" x2="128.35" y2="513.50" stroke="#c4c4c4" stroke-width="0.8"/>
<line x1="142.90" y1="512.00" x2="142.90" y2="514.50" stroke="#c4c4c4" stroke-width="0.8"/>
<line x1="157.45" y1="512.00" x2="157.45" y2="513.50" stroke="#c4c4c4" stroke-width="0.8"/>
<line x1="172.00" y1="512.00" x2="172.00" y2="514.50" stroke="#c4c4c4" stroke-width="0.8"/>
<line x1="186.55" y1="512.00" x2="186.55" y2="513.50" stroke="#c4c4c4" stroke-width="0.8"/>
<line x1="201.10" y1="512.00" x2="201.10" y2="514.50" stroke="#c4c4c4" stroke-width="0.8"/>
<line x1="215.65" y1="512.00" x2="215.65" y2="513.50" stroke="#c4c4c4" stroke-width="0.8"/>
<line x1="230.20" y1="512.00" x2="230.20" y2="514.50" stroke="#c4c4c4" stroke-width="0.8"/>
<line x1="244.75" y1="512.00" x2="244.75" y2="513.50" stroke="#c4c4c4" stroke-width="0.8"/>
<line x1="259.30" y1="512.00" x2="259.30" y2="514.50" stroke="#c4c4c4" stroke-width="0.8"/>
<line x1="273.85" y1="512.00" x2="273.85" y2="513.50" stroke="#c4c4c4" stroke-width="0.8"/>
<line x1="288.40" y1="512.00" x2="288.40" y2="514.50" stroke="#c4c4c4" stroke-width="0.8"/>
<text x="57.60" y="524.60" font-size="11.0" text-anchor="middle" fill="#111">0</text>
<text x="115.80" y="524.60" font-size="11.0" text-anchor="middle" fill="#111">4</text>
<text x="174.00" y="524.60" font-size="11.0" text-anchor="middle" fill="#111">8</text>
<text x="232.20" y="524.60" font-size="11.0" text-anchor="middle" fill="#111">12</text>
<text x="290.40" y="524.60" font-size="11.0" text-anchor="middle" fill="#111">16</text>
<text x="57.00" y="466.50" font-size="9.0" fill="#111">1e9</text>
<polyline points="55.60,506.75 55.96,507.07 56.33,507.36 56.69,507.64 57.05,507.89 57.42,508.13 57.78,508.35 58.15,508.56 58.51,508.75 58.87,508.93 59.24,509.09 59.60,509.25 59.97,509.39 60.33,509.53 60.69,509.65 61.06,509.77 61.42,509.88 61.78,509.98 62.15,510.07 62.51,510.16 62.88,510.24 63.24,510.32 63.60,510.39 63.97,510.44 64.33,510.40 64.69,509.97 65.06,508.44 65.42,505.31 65.78,501.80 66.15,500.70 66.51,502.99 66.88,506.27 67.24,507.64 67.60,506.05 67.97,501.65 68.33,495.13 68.70,488.20 69.06,483.42 69.42,482.92 69.79,486.81 70.15,492.91 70.51,498.02 70.88,499.78 71.24,498.15 71.61,495.50 71.97,494.92 72.33,497.66 72.70,502.25 73.06,506.13 73.42,507.51 73.79,505.81 74.15,501.56 74.52,496.61 74.88,493.80 75.24,494.91 75.61,499.01 75.97,503.32 76.33,505.60 76.70,505.33 77.06,503.26 77.43,500.55 77.79,498.35 78.15,497.52 78.52,498.37 78.88,500.62 79.24,503.54 79.61,506.34 79.97,508.50 80.34,509.90 80.70,510.63 81.06,510.82 81.43,510.48 81.79,509.57 82.15,508.25 82.52,507.08 82.88,506.75 83.25,507.49 83.61,508.82 83.97,510.05 84.34,510.82 84.70,511.17 85.06,511.29 85.43,511.32 85.79,511.33 86.16,511.33 86.52,511.33 86.88,511.33 87.25,511.30 87.61,511.11 87.97,510.28 88.34,507.61 88.70,501.63 89.06,492.78 89.43,485.28 89.79,484.47 90.16,490.98 90.52,500.01 90.88,506.71 91.25,509.94 91.61,511.01 91.97,511.22 92.34,511.10 92.70,510.72 93.07,509.95 93.43,508.70 93.79,507.12 94.16,505.67 94.52,504.94 94.89,505.26 95.25,506.49 95.61,508.07 95.98,509.44 96.34,510.21 96.70,510.24 97.07,509.50 97.43,508.25 97.80,507.10 98.16,506.77 98.52,507.51 98.89,508.83 99.25,510.06 99.61,510.83 99.98,511.18 100.34,511.28 100.71,511.24 101.07,511.07 101.43,510.66 101.80,509.90 102.16,508.78 102.52,507.53 102.89,506.56 103.25,506.31 103.62,506.88 103.98,508.02 104.34,509.26 104.71,510.25 105.07,510.86 105.43,511.16 105.80,511.27 106.16,511.26 106.53,511.13 106.89,510.76 107.25,509.97 107.62,508.65 107.98,506.89 108.34,505.15 108.71,504.10 109.07,504.22 109.44,505.46 109.80,507.26 110.16,508.96 110.53,510.17 110.89,510.86 111.25,511.17 111.62,511.29 111.98,511.33 112.34,511.33 112.71,511.31 113.07,511.19 113.44,510.79 113.80,509.65 114.16,506.94 114.53,501.73 114.89,493.69 115.25,484.10 115.62,475.99 115.98,472.78 116.35,475.98 116.71,484.02 117.07,493.35 117.44,500.58 117.80,503.91 118.16,503.39 118.53,500.73 118.89,498.59 119.26,499.02 119.62,502.00 119.98,505.82 120.35,508.80 120.71,510.43 121.08,511.08 121.44,511.28 121.80,511.30 122.17,511.23 122.53,511.05 122.89,510.67 123.26,509.95 123.62,508.81 123.99,507.28 124.35,505.61 124.71,504.22 125.08,503.56 125.44,503.85 125.80,504.99 126.17,506.61 126.53,508.23 126.90,509.55 127.26,510.43 127.62,510.93 127.99,511.18 128.35,511.29 128.71,511.32 129.08,511.34 129.44,511.34 129.81,511.34 130.17,511.34 130.53,511.34 130.90,511.34 131.26,511.34 131.62,511.34 131.99,511.34 132.35,511.34 132.72,511.34 133.08,511.34 133.44,511.34 133.81,511.34 134.17,511.34 134.53,511.34 134.90,511.34 135.26,511.34 135.62,511.34 135.99,511.33 136.35,511.30 136.72,511.18 137.08,510.84 137.44,510.15 137.81,509.11 138.17,508.10 138.53,507.67 138.90,508.10 139.26,509.11 139.63,510.15 139.99,510.84 140.35,511.18 140.72,511.30 141.08,511.33 141.45,511.34 141.81,511.34 142.17,511.34 142.54,511.34 142.90,511.33 143.26,511.31 143.63,511.21 143.99,510.96 144.35,510.48 144.72,509.81 145.08,509.22 145.45,509.06 145.81,509.42 146.17,510.09 146.54,510.70 146.90,511.09 147.27,511.26 147.63,511.32 147.99,511.34 148.36,511.34 148.72,511.34 149.08,511.34 149.45,511.34 149.81,511.34 150.18,511.34 150.54,511.34 150.90,511.34 151.27,511.34 151.63,511.34 151.99,511.34 152.36,511.34 152.72,511.34 153.09,511.34 153.45,511.34 153.81,511.34 154.18,511.34 154.54,511.34 154.90,511.34 155.27,511.34 155.63,511.34 156.00,511.34 156.36,511.34 156.72,511.34 157.09,511.34 157.45,511.34 157.81,511.34 158.18,511.34 158.54,511.34 158.91,511.34 159.27,511.34 159.63,511.34 160.00,511.34 160.36,511.34 160.72,511.34 161.09,511.34 161.45,511.34 161.81,511.34 162.18,511.34 162.54,511.34 162.91,511.34 163.27,511.34 163.63,511.34 164.00,511.34 164.36,511.34 164.72,511.34 165.09,511.34 165.45,511.34 165.82,511.34 166.18,511.34 166.54,511.34 166.91,511.34 167.27,511.34 167.64,511.34 168.00,511.34 168.36,511.34 168.73,511.34 169.09,511.34 169.45,511.34 169.82,511.34 170.18,511.34 170.55,511.34 170.91,511.34 171.27,511.34 171.64,511.34 172.00,511.34 172.36,511.34 172.73,511.34 173.09,511.34 173.46,511.34 173.82,511.34 174.18,511.34 174.55,511.34 174.91,511.34 175.27,511.34 175.64,511.34 176.00,511.34 176.37,511.34 176.73,511.34 177.09,511.34 177.46,511.34 177.82,511.34 178.18,511.34 178.55,511.34 178.91,511.34 179.28,511.34 179.64,511.34 180.00,511.34 180.37,511.34 180.73,511.34 181.09,511.34 181.46,511.34 181.82,511.34 182.19,511.34 182.55,511.34 182.91,511.34 183.28,511.34 183.64,511.34 184.00,511.34 184.37,511.34 184.73,511.34 185.09,511.33 185.46,511.31 185.82,511.21 186.19,510.96 186.55,510.48 186.91,509.81 187.28,509.22 187.64,509.06 188.00,509.42 188.37,510.09 188.73,510.70 189.10,511.09 189.46,511.26 189.82,511.32 190.19,511.34 190.55,511.34 190.92,511.34 191.28,511.34 191.64,511.34 192.01,511.34 192.37,511.34 192.73,511.34 193.10,511.34 193.46,511.34 193.82,511.34 194.19,511.34 194.55,511.34 194.92,511.34 195.28,511.34 195.64,511.34 196.01,511.34 196.37,511.34 196.73,511.34 197.10,511.34 197.46,511.34 197.83,511.34 198.19,511.34 198.55,511.34 198.92,511.34 199.28,511.34 199.65,511.34 200.01,511.34 200.37,511.34 200.74,511.34 201.10,511.34 201.46,511.34 201.83,511.34 202.19,511.34 202.56,511.34 202.92,511.34 203.28,511.34 203.65,511.34 204.01,511.34 204.37,511.34 204.74,511.34 205.10,511.34 205.47,511.34 205.83,511.34 206.19,511.34 206.56,511.34 206.92,511.34 207.28,511.33 207.65,511.28 208.01,511.14 208.38,510.83 208.74,510.34 209.10,509.81 209.47,509.51 209.83,509.65 210.19,510.12 210.56,510.65 210.92,511.04 211.28,511.24 211.65,511.31 212.01,511.33 212.38,511.33 212.74,511.28 213.10,511.14 213.47,510.83 213.83,510.34 214.19,509.81 214.56,509.51 214.92,509.65 215.29,510.12 215.65,510.65 216.01,511.04 216.38,511.24 216.74,511.31 217.10,511.34 217.47,511.34 217.83,511.34 218.20,511.34 218.56,511.34 218.92,511.34 219.29,511.34 219.65,511.34 220.02,511.34 220.38,511.34 220.74,511.34 221.11,511.34 221.47,511.34 221.83,511.34 222.20,511.34 222.56,511.34 222.93,511.34 223.29,511.34 223.65,511.34 224.02,511.34 224.38,511.34 224.74,511.34 225.11,511.34 225.47,511.34 225.83,511.34 226.20,511.34 226.56,511.34 226.93,511.34 227.29,511.34 227.65,511.34 228.02,511.34 228.38,511.34 228.75,511.34 229.11,511.34 229.47,511.34 229.84,511.34 230.20,511.34 230.56,511.34 230.93,511.34 231.29,511.34 231.66,511.34 232.02,511.34 232.38,511.34 232.75,511.34 233.11,511.34 233.47,511.34 233.84,511.34 234.20,511.34 234.57,511.34 234.93,511.34 235.29,511.34 235.66,511.34 236.02,511.34 236.38,511.34 236.75,511.34 237.11,511.34 237.47,511.34 237.84,511.34 238.20,511.34 238.57,511.34 238.93,511.34 239.29,511.34 239.66,511.34 240.02,511.34 240.38,511.34 240.75,511.34 241.11,511.33 241.48,511.28 241.84,511.15 242.20,510.89 242.57,510.51 242.93,510.13 243.30,509.96 243.66,510.13 244.02,510.51 244.39,510.89 244.75,511.15 245.11,511.28 245.48,511.33 245.84,511.34 246.21,511.34 246.57,511.34 246.93,511.34 247.30,511.34 247.66,511.34 248.02,511.34 248.39,511.34 248.75,511.34 249.12,511.34 249.48,511.34 249.84,511.34 250.21,511.34 250.57,511.34 250.93,511.34 251.30,511.34 251.66,511.34 252.03,511.34 252.39,511.34 252.75,511.34 253.12,511.34 253.48,511.34 253.84,511.34 254.21,511.34 254.57,511.34 254.94,511.34 255.30,511.34 255.66,511.34 256.03,511.34 256.39,511.34 256.75,511.34 257.12,511.34 257.48,511.34 257.85,511.34 258.21,511.34 258.57,511.34 258.94,511.34 259.30,511.34 259.66,511.34 260.03,511.34 260.39,511.34 260.75,511.34 261.12,511.34 261.48,511.34 261.85,511.34 262.21,511.34 262.57,511.34 262.94,511.34 263.30,511.34 263.67,511.34 264.03,511.34 264.39,511.34 264.76,511.34 265.12,511.34 265.48,511.34 265.85,511.34 266.21,511.34 266.58,511.34 266.94,511.34 267.30,511.34 267.67,511.34 268.03,511.34 268.39,511.34 268.76,511.34 269.12,511.34 269.49,511.34 269.85,511.34 270.21,511.34 270.58,511.34 270.94,511.34 271.30,511.34 271.67,511.34 272.03,511.34 272.40,511.34 272.76,511.34 273.12,511.34 273.49,511.34 273.85,511.34 274.21,511.34 274.58,511.34 274.94,511.34 275.31,511.34 275.67,511.34 276.03,511.34 276.40,511.34 276.76,511.34 277.12,511.34 277.49,511.34 277.85,511.34 278.22,511.34 278.58,511.34 278.94,511.34 279.31,511.34 279.67,511.34 280.03,511.34 280.40,511.34 280.76,511.34 281.12,511.34 281.49,511.34 281.85,511.34 282.22,511.34 282.58,511.34 282.94,511.34 283.31,511.34 283.67,511.34 284.04,511.34 284.40,511.34 284.76,511.34 285.13,511.34 285.49,511.34 285.85,511.34 286.22,511.34 286.58,511.34 286.95,511.34 287.31,511.34 287.67,511.34 288.04,511.34 288.40,511.34" fill="none" stroke="#6cba64" stroke-width="1.0" stroke-linejoin="round"/>
<text x="26.40" y="387.00" font-size="11.5" text-anchor="middle" fill="#111" textLength="120.40" lengthAdjust="spacingAndGlyphs" transform="rotate(-90 26.40 387.00)">Abundance Abundance</text>
<text x="25.20" y="504.60" font-size="11.5" text-anchor="middle" fill="#111" textLength="59.00" lengthAdjust="spacingAndGlyphs" transform="rotate(-90 25.20 504.60)">Abundance</text>
<text x="154.80" y="334.00" font-size="12.6" fill="#111" textLength="58.20" lengthAdjust="spacingAndGlyphs">BPC(pos)</text>
<rect x="260.30" y="326.40" width="81.20" height="14.20" fill="#fff" stroke="#cfcfcf" stroke-width="1"/>
<line x1="274.00" y1="332.90" x2="295.80" y2="332.90" stroke="#e03a44" stroke-width="0.9"/>
<text x="298.70" y="336.50" font-size="10.0" fill="#111" textLength="29.60" lengthAdjust="spacingAndGlyphs">Control</text>
<rect x="260.30" y="404.30" width="81.20" height="14.20" fill="#fff" stroke="#cfcfcf" stroke-width="1"/>
<line x1="265.20" y1="410.90" x2="287.50" y2="410.90" stroke="#3f7cba" stroke-width="0.9"/>
<text x="290.90" y="414.50" font-size="10.0" fill="#111" textLength="40.10" lengthAdjust="spacingAndGlyphs">Treatment</text>
<rect x="260.30" y="479.40" width="81.20" height="14.90" fill="#fff" stroke="#cfcfcf" stroke-width="1"/>
<line x1="275.00" y1="486.70" x2="297.30" y2="486.70" stroke="#6cba64" stroke-width="0.9"/>
<text x="300.30" y="490.30" font-size="10.0" fill="#111" textLength="19.30" lengthAdjust="spacingAndGlyphs">TCM</text>
<text x="153.60" y="537.70" font-size="15.2" fill="#111">time</text>
<text x="198.70" y="537.70" font-size="15.2" fill="#111">min</text>
<path d="M196.30,528.10 Q187.90,534.25 196.30,540.40" fill="none" stroke="#111" stroke-width="1.05"/>
<path d="M225.00,528.10 Q233.40,534.25 225.00,540.40" fill="none" stroke="#111" stroke-width="1.05"/>
<line x1="402.40" y1="343.30" x2="402.40" y2="388.50" stroke="#c4c4c4" stroke-width="1"/>
<line x1="402.40" y1="388.50" x2="634.88" y2="388.50" stroke="#c4c4c4" stroke-width="1"/>
<line x1="399.90" y1="388.50" x2="402.40" y2="388.50" stroke="#c4c4c4" stroke-width="1"/>
<text x="393.20" y="392.77" font-size="12.2" text-anchor="end" fill="#111">0</text>
<line x1="399.90" y1="377.20" x2="402.40" y2="377.20" stroke="#c4c4c4" stroke-width="1"/>
<text x="393.20" y="380.37" font-size="12.2" text-anchor="end" fill="#111">1</text>
<line x1="399.90" y1="366.00" x2="402.40" y2="366.00" stroke="#c4c4c4" stroke-width="1"/>
<text x="393.20" y="369.67" font-size="12.2" text-anchor="end" fill="#111">2</text>
<line x1="399.90" y1="354.20" x2="402.40" y2="354.20" stroke="#c4c4c4" stroke-width="1"/>
<text x="393.20" y="356.47" font-size="12.2" text-anchor="end" fill="#111">3</text>
<line x1="399.90" y1="343.30" x2="402.40" y2="343.30" stroke="#c4c4c4" stroke-width="1"/>
<text x="393.20" y="346.17" font-size="12.2" text-anchor="end" fill="#111">4</text>
<line x1="402.40" y1="388.50" x2="402.40" y2="391.00" stroke="#c4c4c4" stroke-width="0.8"/>
<line x1="416.93" y1="388.50" x2="416.93" y2="390.00" stroke="#c4c4c4" stroke-width="0.8"/>
<line x1="431.46" y1="388.50" x2="431.46" y2="391.00" stroke="#c4c4c4" stroke-width="0.8"/>
<line x1="445.99" y1="388.50" x2="445.99" y2="390.00" stroke="#c4c4c4" stroke-width="0.8"/>
<line x1="460.52" y1="388.50" x2="460.52" y2="391.00" stroke="#c4c4c4" stroke-width="0.8"/>
<line x1="475.05" y1="388.50" x2="475.05" y2="390.00" stroke="#c4c4c4" stroke-width="0.8"/>
<line x1="489.58" y1="388.50" x2="489.58" y2="391.00" stroke="#c4c4c4" stroke-width="0.8"/>
<line x1="504.11" y1="388.50" x2="504.11" y2="390.00" stroke="#c4c4c4" stroke-width="0.8"/>
<line x1="518.64" y1="388.50" x2="518.64" y2="391.00" stroke="#c4c4c4" stroke-width="0.8"/>
<line x1="533.17" y1="388.50" x2="533.17" y2="390.00" stroke="#c4c4c4" stroke-width="0.8"/>
<line x1="547.70" y1="388.50" x2="547.70" y2="391.00" stroke="#c4c4c4" stroke-width="0.8"/>
<line x1="562.23" y1="388.50" x2="562.23" y2="390.00" stroke="#c4c4c4" stroke-width="0.8"/>
<line x1="576.76" y1="388.50" x2="576.76" y2="391.00" stroke="#c4c4c4" stroke-width="0.8"/>
<line x1="591.29" y1="388.50" x2="591.29" y2="390.00" stroke="#c4c4c4" stroke-width="0.8"/>
<line x1="605.82" y1="388.50" x2="605.82" y2="391.00" stroke="#c4c4c4" stroke-width="0.8"/>
<line x1="620.35" y1="388.50" x2="620.35" y2="390.00" stroke="#c4c4c4" stroke-width="0.8"/>
<line x1="634.88" y1="388.50" x2="634.88" y2="391.00" stroke="#c4c4c4" stroke-width="0.8"/>
<text x="403.60" y="399.60" font-size="11.0" text-anchor="middle" fill="#111">0</text>
<text x="461.72" y="399.60" font-size="11.0" text-anchor="middle" fill="#111">4</text>
<text x="519.84" y="399.60" font-size="11.0" text-anchor="middle" fill="#111">8</text>
<text x="577.96" y="399.60" font-size="11.0" text-anchor="middle" fill="#111">12</text>
<text x="636.08" y="399.60" font-size="11.0" text-anchor="middle" fill="#111">16</text>
<text x="400.60" y="340.60" font-size="9.0" fill="#111">1e8</text>
<polyline points="402.40,388.60 402.76,388.60 403.13,388.60 403.49,388.60 403.85,388.60 404.22,388.60 404.58,388.60 404.94,388.60 405.31,388.60 405.67,388.60 406.03,388.60 406.40,388.60 406.76,388.60 407.12,388.60 407.49,388.60 407.85,388.60 408.21,388.60 408.58,388.60 408.94,388.60 409.30,388.60 409.66,388.60 410.03,388.60 410.39,388.60 410.75,388.60 411.12,388.60 411.48,388.60 411.84,388.59 412.21,388.49 412.57,386.04 412.93,363.01 413.30,347.23 413.66,363.33 414.02,378.26 414.39,380.00 414.75,378.55 415.11,376.02 415.48,372.85 415.84,369.72 416.20,367.01 416.57,364.70 416.93,363.57 417.29,365.35 417.66,370.16 418.02,375.37 418.38,378.62 418.75,379.87 419.11,380.15 419.47,380.21 419.84,380.29 420.20,380.47 420.56,380.74 420.93,381.11 421.29,381.54 421.65,382.01 422.02,382.51 422.38,383.00 422.74,383.47 423.11,383.90 423.47,384.29 423.83,384.62 424.19,384.90 424.56,385.13 424.92,385.32 425.28,385.47 425.65,385.60 426.01,385.70 426.37,385.79 426.74,385.87 427.10,385.94 427.46,386.00 427.83,386.05 428.19,386.11 428.55,386.16 428.92,386.20 429.28,386.25 429.64,386.30 430.01,386.34 430.37,386.38 430.73,386.42 431.10,386.46 431.46,386.50 431.82,386.53 432.19,386.57 432.55,386.60 432.91,386.63 433.28,386.67 433.64,386.70 434.00,386.73 434.37,386.76 434.73,386.79 435.09,386.81 435.46,386.84 435.82,386.87 436.18,386.89 436.55,386.92 436.91,386.94 437.27,386.97 437.64,386.99 438.00,387.01 438.36,387.03 438.72,387.06 439.09,387.08 439.45,387.10 439.81,387.12 440.18,387.14 440.54,387.16 440.90,387.17 441.27,387.19 441.63,387.21 441.99,387.23 442.36,387.25 442.72,387.26 443.08,387.28 443.45,387.30 443.81,387.31 444.17,387.33 444.54,387.34 444.90,387.36 445.26,387.37 445.63,387.39 445.99,387.40 446.35,387.42 446.72,387.43 447.08,387.44 447.44,387.46 447.81,387.47 448.17,387.48 448.53,387.49 448.90,387.51 449.26,387.52 449.62,387.53 449.99,387.54 450.35,387.56 450.71,387.57 451.08,387.58 451.44,387.59 451.80,387.60 452.17,387.61 452.53,387.62 452.89,387.63 453.25,387.64 453.62,387.65 453.98,387.66 454.34,387.67 454.71,387.68 455.07,387.69 455.43,387.70 455.80,387.71 456.16,387.72 456.52,387.73 456.89,387.74 457.25,387.74 457.61,387.72 457.98,387.62 458.34,387.31 458.70,386.67 459.07,385.72 459.43,384.78 459.79,384.39 460.16,384.80 460.52,385.75 460.88,386.72 461.25,387.38 461.61,387.70 461.97,387.82 462.34,387.86 462.70,387.87 463.06,387.87 463.43,387.86 463.79,387.80 464.15,387.60 464.52,387.13 464.88,386.21 465.24,384.79 465.61,383.09 465.97,381.66 466.33,381.08 466.70,381.58 467.06,382.83 467.42,384.08 467.78,384.61 468.15,384.17 468.51,383.01 468.87,381.83 469.24,381.35 469.60,381.89 469.96,383.16 470.33,384.42 470.69,384.94 471.05,384.47 471.42,383.45 471.78,382.84 472.14,383.28 472.51,384.61 472.87,386.10 473.23,387.11 473.60,387.47 473.96,387.25 474.32,386.68 474.69,386.06 475.05,385.80 475.41,386.08 475.78,386.71 476.14,387.36 476.50,387.80 476.87,388.01 477.23,388.09 477.59,388.11 477.96,388.12 478.32,388.13 478.68,388.13 479.05,388.14 479.41,388.14 479.77,388.15 480.14,388.15 480.50,388.16 480.86,388.16 481.23,388.16 481.59,388.14 481.95,388.07 482.31,387.88 482.68,387.41 483.04,386.41 483.40,384.60 483.77,381.83 484.13,378.25 484.49,374.51 484.86,371.63 485.22,370.54 485.58,371.64 485.95,374.53 486.31,378.27 486.67,381.86 487.04,384.64 487.40,386.45 487.76,387.46 488.13,387.94 488.49,388.14 488.85,388.22 489.22,388.24 489.58,388.25 489.94,388.26 490.31,388.26 490.67,388.27 491.03,388.27 491.40,388.27 491.76,388.28 492.12,388.28 492.49,388.28 492.85,388.28 493.21,388.29 493.58,388.29 493.94,388.29 494.30,388.30 494.67,388.30 495.03,388.30 495.39,388.31 495.76,388.31 496.12,388.31 496.48,388.31 496.84,388.32 497.21,388.32 497.57,388.32 497.93,388.33 498.30,388.33 498.66,388.33 499.02,388.33 499.39,388.34 499.75,388.34 500.11,388.34 500.48,388.34 500.84,388.35 501.20,388.35 501.57,388.35 501.93,388.35 502.29,388.36 502.66,388.36 503.02,388.36 503.38,388.36 503.75,388.37 504.11,388.37 504.47,388.37 504.84,388.37 505.20,388.38 505.56,388.38 505.93,388.38 506.29,388.38 506.65,388.38 507.02,388.39 507.38,388.39 507.74,388.39 508.11,388.39 508.47,388.39 508.83,388.40 509.20,388.40 509.56,388.40 509.92,388.40 510.29,388.40 510.65,388.41 511.01,388.41 511.38,388.41 511.74,388.41 512.10,388.41 512.46,388.42 512.83,388.42 513.19,388.42 513.55,388.42 513.92,388.42 514.28,388.43 514.64,388.43 515.01,388.43 515.37,388.43 515.73,388.43 516.10,388.43 516.46,388.44 516.82,388.44 517.19,388.44 517.55,388.44 517.91,388.44 518.28,388.44 518.64,388.45 519.00,388.45 519.37,388.45 519.73,388.45 520.09,388.45 520.46,388.45 520.82,388.45 521.18,388.46 521.55,388.46 521.91,388.46 522.27,388.46 522.64,388.46 523.00,388.46 523.36,388.46 523.73,388.47 524.09,388.47 524.45,388.47 524.82,388.47 525.18,388.47 525.54,388.47 525.90,388.47 526.27,388.47 526.63,388.48 526.99,388.48 527.36,388.48 527.72,388.48 528.08,388.48 528.45,388.48 528.81,388.48 529.17,388.48 529.54,388.48 529.90,388.46 530.26,388.41 530.63,388.30 530.99,388.06 531.35,387.61 531.72,386.82 532.08,385.63 532.44,384.06 532.81,382.25 533.17,380.53 533.53,379.27 533.90,378.81 534.26,379.27 534.62,380.53 534.99,382.26 535.35,384.07 535.71,385.64 536.08,386.83 536.44,387.62 536.80,388.08 537.17,388.32 537.53,388.43 537.89,388.48 538.26,388.50 538.62,388.51 538.98,388.51 539.35,388.51 539.71,388.51 540.07,388.51 540.43,388.51 540.80,388.52 541.16,388.52 541.52,388.52 541.89,388.52 542.25,388.52 542.61,388.52 542.98,388.52 543.34,388.52 543.70,388.52 544.07,388.52 544.43,388.52 544.79,388.52 545.16,388.53 545.52,388.53 545.88,388.53 546.25,388.53 546.61,388.53 546.97,388.53 547.34,388.53 547.70,388.53 548.06,388.53 548.43,388.53 548.79,388.53 549.15,388.53 549.52,388.53 549.88,388.53 550.24,388.53 550.61,388.53 550.97,388.51 551.33,388.46 551.70,388.34 552.06,388.09 552.42,387.60 552.79,386.77 553.15,385.51 553.51,383.84 553.88,381.93 554.24,380.09 554.60,378.73 554.96,378.14 555.33,378.33 555.69,378.90 556.05,379.22 556.42,378.67 556.78,377.22 557.14,375.55 557.51,374.70 557.87,375.28 558.23,376.91 558.60,378.39 558.96,378.55 559.32,376.93 559.69,373.91 560.05,370.50 560.41,367.84 560.78,366.82 561.14,367.76 561.50,370.32 561.87,373.66 562.23,376.80 562.59,378.99 562.96,379.98 563.32,380.08 563.68,379.94 564.05,380.18 564.41,381.11 564.77,382.64 565.14,384.38 565.50,385.96 565.86,387.13 566.23,387.87 566.59,388.27 566.95,388.45 567.32,388.52 567.68,388.55 568.04,388.55 568.41,388.55 568.77,388.53 569.13,388.49 569.50,388.41 569.86,388.24 570.22,387.94 570.58,387.44 570.95,386.72 571.31,385.74 571.67,384.56 572.04,383.31 572.40,382.16 572.76,381.29 573.13,380.83 573.49,380.76 573.85,380.94 574.22,381.14 574.58,381.18 574.94,380.97 575.31,380.62 575.67,380.39 576.03,380.53 576.40,381.19 576.76,382.32 577.12,383.72 577.49,385.15 577.85,386.37 578.21,387.29 578.58,387.89 578.94,388.24 579.30,388.43 579.67,388.51 580.03,388.55 580.39,388.57 580.76,388.57 581.12,388.57 581.48,388.57 581.85,388.57 582.21,388.57 582.57,388.57 582.94,388.57 583.30,388.57 583.66,388.57 584.02,388.56 584.39,388.51 584.75,388.36 585.11,388.03 585.48,387.38 585.84,386.38 586.20,385.19 586.57,384.19 586.93,383.79 587.29,384.19 587.66,385.19 588.02,386.38 588.38,387.38 588.75,388.03 589.11,388.36 589.47,388.50 589.84,388.55 590.20,388.56 590.56,388.55 590.93,388.54 591.29,388.52 591.65,388.49 592.02,388.45 592.38,388.40 592.74,388.34 593.11,388.25 593.47,388.15 593.83,388.02 594.20,387.87 594.56,387.69 594.92,387.49 595.29,387.26 595.65,387.03 596.01,386.78 596.38,386.53 596.74,386.29 597.10,386.06 597.47,385.87 597.83,385.70 598.19,385.58 598.55,385.50 598.92,385.47 599.28,385.47 599.64,385.51 600.01,385.59 600.37,385.68 600.73,385.79 601.10,385.90 601.46,386.01 601.82,386.11 602.19,386.21 602.55,386.29 602.91,386.37 603.28,386.43 603.64,386.50 604.00,386.56 604.37,386.63 604.73,386.71 605.09,386.80 605.46,386.90 605.82,387.02 606.18,387.14 606.55,387.27 606.91,387.40 607.27,387.54 607.64,387.67 608.00,387.80 608.36,387.92 608.73,388.03 609.09,388.13 609.45,388.22 609.82,388.29 610.18,388.36 610.54,388.41 610.91,388.45 611.27,388.49 611.63,388.51 612.00,388.53 612.36,388.55 612.72,388.56 613.09,388.57 613.45,388.58 613.81,388.58 614.17,388.58 614.54,388.59 614.90,388.59 615.26,388.59 615.63,388.59 615.99,388.59 616.35,388.59 616.72,388.59 617.08,388.59 617.44,388.59 617.81,388.59 618.17,388.59 618.53,388.59 618.90,388.59 619.26,388.59 619.62,388.59 619.99,388.59 620.35,388.59 620.71,388.59 621.08,388.59 621.44,388.59 621.80,388.59 622.17,388.59 622.53,388.59 622.89,388.59 623.26,388.59 623.62,388.59 623.98,388.59 624.35,388.59 624.71,388.59 625.07,388.59 625.44,388.59 625.80,388.59 626.16,388.59 626.53,388.59 626.89,388.59 627.25,388.59 627.62,388.59 627.98,388.59 628.34,388.59 628.70,388.59 629.07,388.59 629.43,388.59 629.79,388.59 630.16,388.59 630.52,388.59 630.88,388.59 631.25,388.59 631.61,388.59 631.97,388.59 632.34,388.59 632.70,388.59 633.06,388.59 633.43,388.59 633.79,388.59 634.15,388.59 634.52,388.59 634.88,388.59" fill="none" stroke="#e03a44" stroke-width="1.0" stroke-linejoin="round"/>
<line x1="402.40" y1="407.10" x2="402.40" y2="452.50" stroke="#c4c4c4" stroke-width="1"/>
<line x1="402.40" y1="452.50" x2="634.88" y2="452.50" stroke="#c4c4c4" stroke-width="1"/>
<line x1="399.90" y1="441.00" x2="402.40" y2="441.00" stroke="#c4c4c4" stroke-width="1"/>
<text x="398.50" y="444.72" font-size="11.5" text-anchor="end" fill="#111">0.25</text>
<line x1="399.90" y1="429.50" x2="402.40" y2="429.50" stroke="#c4c4c4" stroke-width="1"/>
<text x="398.50" y="432.32" font-size="11.5" text-anchor="end" fill="#111">0.50</text>
<line x1="399.90" y1="418.00" x2="402.40" y2="418.00" stroke="#c4c4c4" stroke-width="1"/>
<text x="398.50" y="421.42" font-size="11.5" text-anchor="end" fill="#111">0.75</text>
<line x1="399.90" y1="407.10" x2="402.40" y2="407.10" stroke="#c4c4c4" stroke-width="1"/>
<text x="398.50" y="409.82" font-size="11.5" text-anchor="end" fill="#111">1.00</text>
<line x1="402.40" y1="452.50" x2="402.40" y2="455.00" stroke="#c4c4c4" stroke-width="0.8"/>
<line x1="416.93" y1="452.50" x2="416.93" y2="454.00" stroke="#c4c4c4" stroke-width="0.8"/>
<line x1="431.46" y1="452.50" x2="431.46" y2="455.00" stroke="#c4c4c4" stroke-width="0.8"/>
<line x1="445.99" y1="452.50" x2="445.99" y2="454.00" stroke="#c4c4c4" stroke-width="0.8"/>
<line x1="460.52" y1="452.50" x2="460.52" y2="455.00" stroke="#c4c4c4" stroke-width="0.8"/>
<line x1="475.05" y1="452.50" x2="475.05" y2="454.00" stroke="#c4c4c4" stroke-width="0.8"/>
<line x1="489.58" y1="452.50" x2="489.58" y2="455.00" stroke="#c4c4c4" stroke-width="0.8"/>
<line x1="504.11" y1="452.50" x2="504.11" y2="454.00" stroke="#c4c4c4" stroke-width="0.8"/>
<line x1="518.64" y1="452.50" x2="518.64" y2="455.00" stroke="#c4c4c4" stroke-width="0.8"/>
<line x1="533.17" y1="452.50" x2="533.17" y2="454.00" stroke="#c4c4c4" stroke-width="0.8"/>
<line x1="547.70" y1="452.50" x2="547.70" y2="455.00" stroke="#c4c4c4" stroke-width="0.8"/>
<line x1="562.23" y1="452.50" x2="562.23" y2="454.00" stroke="#c4c4c4" stroke-width="0.8"/>
<line x1="576.76" y1="452.50" x2="576.76" y2="455.00" stroke="#c4c4c4" stroke-width="0.8"/>
<line x1="591.29" y1="452.50" x2="591.29" y2="454.00" stroke="#c4c4c4" stroke-width="0.8"/>
<line x1="605.82" y1="452.50" x2="605.82" y2="455.00" stroke="#c4c4c4" stroke-width="0.8"/>
<line x1="620.35" y1="452.50" x2="620.35" y2="454.00" stroke="#c4c4c4" stroke-width="0.8"/>
<line x1="634.88" y1="452.50" x2="634.88" y2="455.00" stroke="#c4c4c4" stroke-width="0.8"/>
<text x="403.60" y="464.60" font-size="11.0" text-anchor="middle" fill="#111">0</text>
<text x="461.72" y="464.60" font-size="11.0" text-anchor="middle" fill="#111">4</text>
<text x="519.84" y="464.60" font-size="11.0" text-anchor="middle" fill="#111">8</text>
<text x="577.96" y="464.60" font-size="11.0" text-anchor="middle" fill="#111">12</text>
<text x="636.08" y="464.60" font-size="11.0" text-anchor="middle" fill="#111">16</text>
<text x="402.40" y="409.90" font-size="9.0" fill="#111">1e9</text>
<polyline points="402.40,452.40 402.76,452.40 403.13,452.40 403.49,452.40 403.85,452.40 404.22,452.40 404.58,452.40 404.94,452.40 405.31,452.40 405.67,452.40 406.03,452.40 406.40,452.40 406.76,452.40 407.12,452.40 407.49,452.40 407.85,452.40 408.21,452.40 408.58,452.40 408.94,452.40 409.30,452.40 409.66,452.40 410.03,452.40 410.39,452.40 410.75,452.40 411.12,452.40 411.48,452.40 411.84,452.40 412.21,452.39 412.57,451.65 412.93,435.71 413.30,413.93 413.66,435.98 414.02,448.80 414.39,449.45 414.75,448.98 415.11,447.86 415.48,446.10 415.84,444.24 416.20,443.07 416.57,442.86 416.93,443.17 417.29,443.53 417.66,444.18 418.02,445.48 418.38,447.28 418.75,448.95 419.11,450.07 419.47,450.63 419.84,450.86 420.20,450.96 420.56,451.02 420.93,451.06 421.29,451.10 421.65,451.14 422.02,451.18 422.38,451.21 422.74,451.25 423.11,451.28 423.47,451.31 423.83,451.34 424.19,451.36 424.56,451.39 424.92,451.41 425.28,451.44 425.65,451.46 426.01,451.48 426.37,451.50 426.74,451.52 427.10,451.54 427.46,451.56 427.83,451.57 428.19,451.59 428.55,451.60 428.92,451.62 429.28,451.63 429.64,451.65 430.01,451.66 430.37,451.67 430.73,451.68 431.10,451.69 431.46,451.71 431.82,451.72 432.19,451.73 432.55,451.74 432.91,451.75 433.28,451.76 433.64,451.76 434.00,451.77 434.37,451.78 434.73,451.79 435.09,451.80 435.46,451.80 435.82,451.81 436.18,451.82 436.55,451.83 436.91,451.83 437.27,451.84 437.64,451.85 438.00,451.85 438.36,451.86 438.72,451.86 439.09,451.87 439.45,451.88 439.81,451.88 440.18,451.89 440.54,451.89 440.90,451.90 441.27,451.90 441.63,451.91 441.99,451.91 442.36,451.92 442.72,451.92 443.08,451.93 443.45,451.93 443.81,451.94 444.17,451.94 444.54,451.95 444.90,451.95 445.26,451.95 445.63,451.96 445.99,451.96 446.35,451.97 446.72,451.97 447.08,451.97 447.44,451.98 447.81,451.98 448.17,451.99 448.53,451.99 448.90,451.99 449.26,452.00 449.62,452.00 449.99,452.00 450.35,452.01 450.71,452.01 451.08,452.01 451.44,452.02 451.80,452.02 452.17,452.02 452.53,452.03 452.89,452.03 453.25,452.03 453.62,452.04 453.98,452.04 454.34,452.04 454.71,452.05 455.07,452.05 455.43,452.05 455.80,452.06 456.16,452.06 456.52,452.06 456.89,452.06 457.25,452.07 457.61,452.07 457.98,452.07 458.34,452.07 458.70,452.08 459.07,452.08 459.43,452.08 459.79,452.09 460.16,452.09 460.52,452.09 460.88,452.09 461.25,452.10 461.61,452.10 461.97,452.10 462.34,452.10 462.70,452.11 463.06,452.11 463.43,452.11 463.79,452.11 464.15,452.12 464.52,452.12 464.88,452.12 465.24,452.12 465.61,452.13 465.97,452.13 466.33,452.13 466.70,452.13 467.06,452.13 467.42,452.14 467.78,452.14 468.15,452.14 468.51,452.14 468.87,452.15 469.24,452.15 469.60,452.15 469.96,452.15 470.33,452.15 470.69,452.16 471.05,452.16 471.42,452.16 471.78,452.16 472.14,452.16 472.51,452.17 472.87,452.17 473.23,452.17 473.60,452.17 473.96,452.17 474.32,452.18 474.69,452.18 475.05,452.18 475.41,452.18 475.78,452.18 476.14,452.18 476.50,452.19 476.87,452.19 477.23,452.19 477.59,452.19 477.96,452.19 478.32,452.20 478.68,452.20 479.05,452.20 479.41,452.20 479.77,452.20 480.14,452.20 480.50,452.21 480.86,452.21 481.23,452.21 481.59,452.21 481.95,452.21 482.31,452.21 482.68,452.20 483.04,452.12 483.40,451.83 483.77,451.04 484.13,449.38 484.49,446.92 484.86,444.51 485.22,443.49 485.58,444.51 485.95,446.93 486.31,449.39 486.67,451.05 487.04,451.85 487.40,452.14 487.76,452.22 488.13,452.23 488.49,452.24 488.85,452.24 489.22,452.24 489.58,452.24 489.94,452.24 490.31,452.24 490.67,452.25 491.03,452.25 491.40,452.25 491.76,452.25 492.12,452.25 492.49,452.25 492.85,452.25 493.21,452.25 493.58,452.26 493.94,452.26 494.30,452.26 494.67,452.26 495.03,452.26 495.39,452.26 495.76,452.26 496.12,452.26 496.48,452.26 496.84,452.27 497.21,452.27 497.57,452.27 497.93,452.27 498.30,452.27 498.66,452.27 499.02,452.27 499.39,452.27 499.75,452.27 500.11,452.28 500.48,452.28 500.84,452.28 501.20,452.28 501.57,452.28 501.93,452.28 502.29,452.28 502.66,452.28 503.02,452.28 503.38,452.28 503.75,452.29 504.11,452.29 504.47,452.29 504.84,452.29 505.20,452.29 505.56,452.29 505.93,452.29 506.29,452.29 506.65,452.29 507.02,452.29 507.38,452.29 507.74,452.30 508.11,452.30 508.47,452.30 508.83,452.30 509.20,452.30 509.56,452.30 509.92,452.30 510.29,452.30 510.65,452.30 511.01,452.30 511.38,452.30 511.74,452.30 512.10,452.31 512.46,452.31 512.83,452.31 513.19,452.31 513.55,452.31 513.92,452.31 514.28,452.31 514.64,452.31 515.01,452.31 515.37,452.31 515.73,452.31 516.10,452.31 516.46,452.31 516.82,452.32 517.19,452.32 517.55,452.32 517.91,452.32 518.28,452.32 518.64,452.32 519.00,452.32 519.37,452.32 519.73,452.32 520.09,452.32 520.46,452.32 520.82,452.32 521.18,452.32 521.55,452.32 521.91,452.32 522.27,452.33 522.64,452.33 523.00,452.33 523.36,452.33 523.73,452.33 524.09,452.33 524.45,452.33 524.82,452.33 525.18,452.33 525.54,452.33 525.90,452.33 526.27,452.33 526.63,452.33 526.99,452.33 527.36,452.33 527.72,452.33 528.08,452.33 528.45,452.34 528.81,452.34 529.17,452.34 529.54,452.34 529.90,452.34 530.26,452.33 530.63,452.32 530.99,452.28 531.35,452.20 531.72,452.02 532.08,451.69 532.44,451.18 532.81,450.53 533.17,449.85 533.53,449.32 533.90,449.12 534.26,449.32 534.62,449.85 534.99,450.53 535.35,451.18 535.71,451.69 536.08,452.02 536.44,452.20 536.80,452.29 537.17,452.33 537.53,452.34 537.89,452.35 538.26,452.35 538.62,452.35 538.98,452.35 539.35,452.35 539.71,452.35 540.07,452.35 540.43,452.35 540.80,452.35 541.16,452.35 541.52,452.35 541.89,452.35 542.25,452.35 542.61,452.35 542.98,452.35 543.34,452.35 543.70,452.35 544.07,452.35 544.43,452.36 544.79,452.36 545.16,452.36 545.52,452.36 545.88,452.36 546.25,452.36 546.61,452.36 546.97,452.36 547.34,452.36 547.70,452.36 548.06,452.36 548.43,452.36 548.79,452.36 549.15,452.36 549.52,452.36 549.88,452.36 550.24,452.36 550.61,452.36 550.97,452.36 551.33,452.36 551.70,452.36 552.06,452.36 552.42,452.36 552.79,452.36 553.15,452.34 553.51,452.30 553.88,452.20 554.24,451.99 554.60,451.62 554.96,451.04 555.33,450.29 555.69,449.50 556.05,448.88 556.42,448.61 556.78,448.76 557.14,449.21 557.51,449.74 557.87,450.11 558.23,450.13 558.60,449.76 558.96,449.05 559.32,448.12 559.69,447.14 560.05,446.27 560.41,445.68 560.78,445.47 561.14,445.68 561.50,446.28 561.87,447.16 562.23,448.19 562.59,449.21 562.96,450.13 563.32,450.88 563.68,451.44 564.05,451.82 564.41,452.07 564.77,452.21 565.14,452.30 565.50,452.34 565.86,452.36 566.23,452.37 566.59,452.37 566.95,452.37 567.32,452.37 567.68,452.37 568.04,452.37 568.41,452.37 568.77,452.37 569.13,452.37 569.50,452.37 569.86,452.37 570.22,452.37 570.58,452.36 570.95,452.34 571.31,452.30 571.67,452.23 572.04,452.12 572.40,451.94 572.76,451.68 573.13,451.33 573.49,450.90 573.85,450.42 574.22,449.95 574.58,449.54 574.94,449.26 575.31,449.16 575.67,449.26 576.03,449.54 576.40,449.95 576.76,450.43 577.12,450.90 577.49,451.33 577.85,451.68 578.21,451.94 578.58,452.12 578.94,452.24 579.30,452.31 579.67,452.34 580.03,452.36 580.39,452.37 580.76,452.38 581.12,452.38 581.48,452.38 581.85,452.38 582.21,452.38 582.57,452.38 582.94,452.38 583.30,452.38 583.66,452.38 584.02,452.38 584.39,452.38 584.75,452.36 585.11,452.28 585.48,452.07 585.84,451.64 586.20,450.99 586.57,450.35 586.93,450.08 587.29,450.35 587.66,450.99 588.02,451.64 588.38,452.07 588.75,452.28 589.11,452.36 589.47,452.38 589.84,452.38 590.20,452.38 590.56,452.38 590.93,452.38 591.29,452.38 591.65,452.37 592.02,452.36 592.38,452.34 592.74,452.32 593.11,452.28 593.47,452.23 593.83,452.17 594.20,452.07 594.56,451.96 594.92,451.81 595.29,451.64 595.65,451.44 596.01,451.22 596.38,450.99 596.74,450.76 597.10,450.54 597.47,450.36 597.83,450.21 598.19,450.12 598.55,450.09 598.92,450.12 599.28,450.21 599.64,450.36 600.01,450.55 600.37,450.76 600.73,450.99 601.10,451.22 601.46,451.44 601.82,451.64 602.19,451.81 602.55,451.96 602.91,452.08 603.28,452.17 603.64,452.24 604.00,452.29 604.37,452.32 604.73,452.35 605.09,452.36 605.46,452.37 605.82,452.38 606.18,452.38 606.55,452.39 606.91,452.39 607.27,452.39 607.64,452.39 608.00,452.39 608.36,452.39 608.73,452.39 609.09,452.39 609.45,452.39 609.82,452.39 610.18,452.39 610.54,452.39 610.91,452.39 611.27,452.39 611.63,452.39 612.00,452.39 612.36,452.39 612.72,452.39 613.09,452.39 613.45,452.39 613.81,452.39 614.17,452.39 614.54,452.39 614.90,452.39 615.26,452.39 615.63,452.39 615.99,452.39 616.35,452.39 616.72,452.39 617.08,452.39 617.44,452.39 617.81,452.39 618.17,452.39 618.53,452.39 618.90,452.39 619.26,452.39 619.62,452.39 619.99,452.39 620.35,452.39 620.71,452.39 621.08,452.39 621.44,452.39 621.80,452.39 622.17,452.39 622.53,452.39 622.89,452.39 623.26,452.39 623.62,452.39 623.98,452.39 624.35,452.39 624.71,452.39 625.07,452.39 625.44,452.39 625.80,452.39 626.16,452.39 626.53,452.39 626.89,452.39 627.25,452.39 627.62,452.39 627.98,452.39 628.34,452.39 628.70,452.39 629.07,452.39 629.43,452.39 629.79,452.39 630.16,452.39 630.52,452.39 630.88,452.39 631.25,452.39 631.61,452.39 631.97,452.39 632.34,452.39 632.70,452.39 633.06,452.39 633.43,452.39 633.79,452.39 634.15,452.39 634.52,452.39 634.88,452.39" fill="none" stroke="#3f7cba" stroke-width="1.0" stroke-linejoin="round"/>
<line x1="402.40" y1="470.80" x2="402.40" y2="516.40" stroke="#c4c4c4" stroke-width="1"/>
<line x1="402.40" y1="516.40" x2="634.88" y2="516.40" stroke="#c4c4c4" stroke-width="1"/>
<line x1="399.90" y1="516.40" x2="402.40" y2="516.40" stroke="#c4c4c4" stroke-width="1"/>
<text x="395.50" y="520.22" font-size="11.5" text-anchor="end" fill="#111">0</text>
<line x1="399.90" y1="501.50" x2="402.40" y2="501.50" stroke="#c4c4c4" stroke-width="1"/>
<text x="395.50" y="505.32" font-size="11.5" text-anchor="end" fill="#111">1</text>
<line x1="399.90" y1="486.30" x2="402.40" y2="486.30" stroke="#c4c4c4" stroke-width="1"/>
<text x="395.50" y="490.12" font-size="11.5" text-anchor="end" fill="#111">2</text>
<line x1="399.90" y1="471.30" x2="402.40" y2="471.30" stroke="#c4c4c4" stroke-width="1"/>
<text x="395.50" y="475.62" font-size="11.5" text-anchor="end" fill="#111">3</text>
<line x1="402.40" y1="516.40" x2="402.40" y2="518.90" stroke="#c4c4c4" stroke-width="0.8"/>
<line x1="416.93" y1="516.40" x2="416.93" y2="517.90" stroke="#c4c4c4" stroke-width="0.8"/>
<line x1="431.46" y1="516.40" x2="431.46" y2="518.90" stroke="#c4c4c4" stroke-width="0.8"/>
<line x1="445.99" y1="516.40" x2="445.99" y2="517.90" stroke="#c4c4c4" stroke-width="0.8"/>
<line x1="460.52" y1="516.40" x2="460.52" y2="518.90" stroke="#c4c4c4" stroke-width="0.8"/>
<line x1="475.05" y1="516.40" x2="475.05" y2="517.90" stroke="#c4c4c4" stroke-width="0.8"/>
<line x1="489.58" y1="516.40" x2="489.58" y2="518.90" stroke="#c4c4c4" stroke-width="0.8"/>
<line x1="504.11" y1="516.40" x2="504.11" y2="517.90" stroke="#c4c4c4" stroke-width="0.8"/>
<line x1="518.64" y1="516.40" x2="518.64" y2="518.90" stroke="#c4c4c4" stroke-width="0.8"/>
<line x1="533.17" y1="516.40" x2="533.17" y2="517.90" stroke="#c4c4c4" stroke-width="0.8"/>
<line x1="547.70" y1="516.40" x2="547.70" y2="518.90" stroke="#c4c4c4" stroke-width="0.8"/>
<line x1="562.23" y1="516.40" x2="562.23" y2="517.90" stroke="#c4c4c4" stroke-width="0.8"/>
<line x1="576.76" y1="516.40" x2="576.76" y2="518.90" stroke="#c4c4c4" stroke-width="0.8"/>
<line x1="591.29" y1="516.40" x2="591.29" y2="517.90" stroke="#c4c4c4" stroke-width="0.8"/>
<line x1="605.82" y1="516.40" x2="605.82" y2="518.90" stroke="#c4c4c4" stroke-width="0.8"/>
<line x1="620.35" y1="516.40" x2="620.35" y2="517.90" stroke="#c4c4c4" stroke-width="0.8"/>
<line x1="634.88" y1="516.40" x2="634.88" y2="518.90" stroke="#c4c4c4" stroke-width="0.8"/>
<text x="403.60" y="529.80" font-size="11.0" text-anchor="middle" fill="#111">0</text>
<text x="461.72" y="529.80" font-size="11.0" text-anchor="middle" fill="#111">4</text>
<text x="519.84" y="529.80" font-size="11.0" text-anchor="middle" fill="#111">8</text>
<text x="577.96" y="529.80" font-size="11.0" text-anchor="middle" fill="#111">12</text>
<text x="402.20" y="473.90" font-size="9.0" fill="#111">1e9</text>
<text x="637.38" y="513.80" font-size="11.5" text-anchor="middle" fill="#111">16</text>
<polyline points="402.40,516.50 402.76,516.50 403.13,516.50 403.49,516.50 403.85,516.50 404.22,516.50 404.58,516.50 404.94,516.50 405.31,516.50 405.67,516.50 406.03,516.50 406.40,516.50 406.76,516.50 407.12,516.50 407.49,516.50 407.85,516.50 408.21,516.50 408.58,516.50 408.94,516.50 409.30,516.50 409.66,516.50 410.03,516.50 410.39,516.50 410.75,516.50 411.12,516.50 411.48,516.49 411.84,516.46 412.21,516.33 412.57,515.99 412.93,515.26 413.30,514.15 413.66,512.97 414.02,512.14 414.39,511.64 414.75,510.71 415.11,508.20 415.48,503.39 415.84,496.55 416.20,488.99 416.57,482.66 416.93,479.23 417.29,479.20 417.66,481.66 418.02,484.83 418.38,487.17 418.75,488.22 419.11,488.57 419.47,489.23 419.84,490.94 420.20,493.77 420.56,497.21 420.93,500.58 421.29,503.38 421.65,505.48 422.02,507.03 422.38,508.28 422.74,509.45 423.11,510.65 423.47,511.87 423.83,513.03 424.19,514.04 424.56,514.87 424.92,515.48 425.28,515.90 425.65,516.17 426.01,516.33 426.37,516.42 426.74,516.46 427.10,516.48 427.46,516.49 427.83,516.47 428.19,516.40 428.55,516.19 428.92,515.76 429.28,515.11 429.64,514.47 430.01,514.17 430.37,514.36 430.73,514.87 431.10,515.32 431.46,515.50 431.82,515.43 432.19,515.23 432.55,515.05 432.91,514.99 433.28,515.06 433.64,515.25 434.00,515.52 434.37,515.80 434.73,516.04 435.09,516.23 435.46,516.35 435.82,516.41 436.18,516.45 436.55,516.46 436.91,516.46 437.27,516.46 437.64,516.45 438.00,516.44 438.36,516.43 438.72,516.42 439.09,516.41 439.45,516.40 439.81,516.39 440.18,516.38 440.54,516.36 440.90,516.35 441.27,516.33 441.63,516.32 441.99,516.30 442.36,516.29 442.72,516.27 443.08,516.26 443.45,516.25 443.81,516.23 444.17,516.22 444.54,516.21 444.90,516.21 445.26,516.20 445.63,516.20 445.99,516.20 446.35,516.20 446.72,516.20 447.08,516.21 447.44,516.21 447.81,516.22 448.17,516.23 448.53,516.25 448.90,516.26 449.26,516.27 449.62,516.29 449.99,516.30 450.35,516.32 450.71,516.33 451.08,516.35 451.44,516.36 451.80,516.38 452.17,516.39 452.53,516.40 452.89,516.41 453.25,516.42 453.62,516.43 453.98,516.43 454.34,516.42 454.71,516.38 455.07,516.30 455.43,516.16 455.80,515.94 456.16,515.65 456.52,515.32 456.89,514.99 457.25,514.75 457.61,514.64 457.98,514.63 458.34,514.61 458.70,514.30 459.07,513.31 459.43,511.21 459.79,507.75 460.16,503.15 460.52,498.28 460.88,494.51 461.25,493.08 461.61,494.53 461.97,498.35 462.34,503.27 462.70,507.93 463.06,511.40 463.43,513.39 463.79,514.09 464.15,513.96 464.52,513.58 464.88,513.38 465.24,513.55 465.61,513.98 465.97,514.35 466.33,514.39 466.70,514.03 467.06,513.44 467.42,512.92 467.78,512.71 468.15,512.96 468.51,513.57 468.87,514.37 469.24,515.14 469.60,515.73 469.96,516.12 470.33,516.33 470.69,516.44 471.05,516.48 471.42,516.49 471.78,516.50 472.14,516.50 472.51,516.50 472.87,516.50 473.23,516.50 473.60,516.50 473.96,516.50 474.32,516.50 474.69,516.50 475.05,516.50 475.41,516.50 475.78,516.50 476.14,516.50 476.50,516.50 476.87,516.50 477.23,516.50 477.59,516.50 477.96,516.50 478.32,516.50 478.68,516.50 479.05,516.50 479.41,516.50 479.77,516.50 480.14,516.50 480.50,516.50 480.86,516.50 481.23,516.50 481.59,516.50 481.95,516.50 482.31,516.50 482.68,516.50 483.04,516.50 483.40,516.50 483.77,516.50 484.13,516.50 484.49,516.50 484.86,516.50 485.22,516.50 485.58,516.50 485.95,516.50 486.31,516.50 486.67,516.50 487.04,516.50 487.40,516.50 487.76,516.50 488.13,516.50 488.49,516.50 488.85,516.50 489.22,516.50 489.58,516.50 489.94,516.50 490.31,516.50 490.67,516.50 491.03,516.50 491.40,516.50 491.76,516.50 492.12,516.50 492.49,516.50 492.85,516.50 493.21,516.50 493.58,516.50 493.94,516.50 494.30,516.50 494.67,516.50 495.03,516.50 495.39,516.50 495.76,516.50 496.12,516.50 496.48,516.50 496.84,516.50 497.21,516.50 497.57,516.50 497.93,516.50 498.30,516.50 498.66,516.50 499.02,516.50 499.39,516.50 499.75,516.50 500.11,516.50 500.48,516.50 500.84,516.50 501.20,516.50 501.57,516.50 501.93,516.50 502.29,516.50 502.66,516.50 503.02,516.50 503.38,516.50 503.75,516.50 504.11,516.50 504.47,516.50 504.84,516.50 505.20,516.50 505.56,516.50 505.93,516.50 506.29,516.50 506.65,516.50 507.02,516.50 507.38,516.50 507.74,516.50 508.11,516.50 508.47,516.50 508.83,516.50 509.20,516.50 509.56,516.50 509.92,516.50 510.29,516.50 510.65,516.50 511.01,516.50 511.38,516.50 511.74,516.50 512.10,516.50 512.46,516.50 512.83,516.50 513.19,516.50 513.55,516.50 513.92,516.50 514.28,516.50 514.64,516.50 515.01,516.50 515.37,516.50 515.73,516.50 516.10,516.50 516.46,516.50 516.82,516.50 517.19,516.50 517.55,516.50 517.91,516.50 518.28,516.50 518.64,516.50 519.00,516.50 519.37,516.50 519.73,516.50 520.09,516.50 520.46,516.50 520.82,516.50 521.18,516.50 521.55,516.50 521.91,516.50 522.27,516.50 522.64,516.50 523.00,516.50 523.36,516.50 523.73,516.50 524.09,516.50 524.45,516.50 524.82,516.50 525.18,516.50 525.54,516.50 525.90,516.50 526.27,516.50 526.63,516.50 526.99,516.50 527.36,516.50 527.72,516.50 528.08,516.50 528.45,516.50 528.81,516.50 529.17,516.50 529.54,516.50 529.90,516.50 530.26,516.50 530.63,516.50 530.99,516.50 531.35,516.50 531.72,516.50 532.08,516.50 532.44,516.50 532.81,516.50 533.17,516.50 533.53,516.50 533.90,516.50 534.26,516.50 534.62,516.50 534.99,516.50 535.35,516.50 535.71,516.50 536.08,516.50 536.44,516.50 536.80,516.50 537.17,516.50 537.53,516.50 537.89,516.50 538.26,516.50 538.62,516.50 538.98,516.50 539.35,516.50 539.71,516.50 540.07,516.50 540.43,516.50 540.80,516.50 541.16,516.50 541.52,516.50 541.89,516.50 542.25,516.50 542.61,516.50 542.98,516.50 543.34,516.50 543.70,516.50 544.07,516.50 544.43,516.50 544.79,516.50 545.16,516.50 545.52,516.50 545.88,516.50 546.25,516.50 546.61,516.50 546.97,516.50 547.34,516.50 547.70,516.50 548.06,516.50 548.43,516.50 548.79,516.50 549.15,516.50 549.52,516.50 549.88,516.50 550.24,516.50 550.61,516.50 550.97,516.50 551.33,516.50 551.70,516.50 552.06,516.50 552.42,516.50 552.79,516.50 553.15,516.50 553.51,516.50 553.88,516.50 554.24,516.50 554.60,516.50 554.96,516.50 555.33,516.50 555.69,516.50 556.05,516.50 556.42,516.50 556.78,516.50 557.14,516.50 557.51,516.50 557.87,516.50 558.23,516.50 558.60,516.50 558.96,516.50 559.32,516.50 559.69,516.50 560.05,516.50 560.41,516.50 560.78,516.50 561.14,516.50 561.50,516.50 561.87,516.50 562.23,516.50 562.59,516.50 562.96,516.50 563.32,516.50 563.68,516.50 564.05,516.50 564.41,516.50 564.77,516.50 565.14,516.50 565.50,516.50 565.86,516.50 566.23,516.50 566.59,516.50 566.95,516.50 567.32,516.50 567.68,516.50 568.04,516.50 568.41,516.50 568.77,516.50 569.13,516.50 569.50,516.50 569.86,516.50 570.22,516.50 570.58,516.50 570.95,516.50 571.31,516.50 571.67,516.50 572.04,516.50 572.40,516.50 572.76,516.50 573.13,516.50 573.49,516.50 573.85,516.50 574.22,516.50 574.58,516.50 574.94,516.50 575.31,516.50 575.67,516.50 576.03,516.50 576.40,516.50 576.76,516.50 577.12,516.50 577.49,516.50 577.85,516.50 578.21,516.50 578.58,516.50 578.94,516.50 579.30,516.50 579.67,516.50 580.03,516.50 580.39,516.50 580.76,516.50 581.12,516.50 581.48,516.50 581.85,516.50 582.21,516.50 582.57,516.50 582.94,516.50 583.30,516.50 583.66,516.50 584.02,516.50 584.39,516.50 584.75,516.50 585.11,516.50 585.48,516.50 585.84,516.50 586.20,516.50 586.57,516.50 586.93,516.50 587.29,516.50 587.66,516.50 588.02,516.50 588.38,516.50 588.75,516.50 589.11,516.50 589.47,516.50 589.84,516.50 590.20,516.50 590.56,516.50 590.93,516.50 591.29,516.50 591.65,516.50 592.02,516.50 592.38,516.50 592.74,516.50 593.11,516.50 593.47,516.50 593.83,516.50 594.20,516.50 594.56,516.50 594.92,516.50 595.29,516.50 595.65,516.50 596.01,516.50 596.38,516.50 596.74,516.50 597.10,516.50 597.47,516.50 597.83,516.50 598.19,516.50 598.55,516.50 598.92,516.50 599.28,516.50 599.64,516.50 600.01,516.50 600.37,516.50 600.73,516.50 601.10,516.50 601.46,516.50 601.82,516.50 602.19,516.50 602.55,516.50 602.91,516.50 603.28,516.50 603.64,516.50 604.00,516.50 604.37,516.50 604.73,516.50 605.09,516.50 605.46,516.50 605.82,516.50 606.18,516.50 606.55,516.50 606.91,516.50 607.27,516.50 607.64,516.50 608.00,516.50 608.36,516.50 608.73,516.50 609.09,516.50 609.45,516.50 609.82,516.50 610.18,516.50 610.54,516.50 610.91,516.50 611.27,516.50 611.63,516.50 612.00,516.50 612.36,516.50 612.72,516.50 613.09,516.50 613.45,516.50 613.81,516.50 614.17,516.50 614.54,516.50 614.90,516.50 615.26,516.50 615.63,516.50 615.99,516.50 616.35,516.50 616.72,516.50 617.08,516.50 617.44,516.50 617.81,516.50 618.17,516.50 618.53,516.50 618.90,516.50 619.26,516.50 619.62,516.50 619.99,516.50 620.35,516.50 620.71,516.50 621.08,516.50 621.44,516.50 621.80,516.50 622.17,516.50 622.53,516.50 622.89,516.50 623.26,516.50 623.62,516.50 623.98,516.50 624.35,516.50 624.71,516.50 625.07,516.50 625.44,516.50 625.80,516.50 626.16,516.50 626.53,516.50 626.89,516.50 627.25,516.50 627.62,516.50 627.98,516.50 628.34,516.50 628.70,516.50 629.07,516.50 629.43,516.50 629.79,516.50 630.16,516.50 630.52,516.50 630.88,516.50 631.25,516.50 631.61,516.50 631.97,516.50 632.34,516.50 632.70,516.50 633.06,516.50 633.43,516.50 633.79,516.50 634.15,516.50 634.52,516.50 634.88,516.50" fill="none" stroke="#6cba64" stroke-width="1.0" stroke-linejoin="round"/>
<text x="375.50" y="357.00" font-size="11.5" text-anchor="middle" fill="#111" textLength="58.50" lengthAdjust="spacingAndGlyphs" transform="rotate(-90 375.50 357.00)">Abundance</text>
<text x="367.20" y="419.60" font-size="11.5" text-anchor="middle" fill="#111" textLength="58.50" lengthAdjust="spacingAndGlyphs" transform="rotate(-90 367.20 419.60)">Abundance</text>
<text x="376.30" y="484.80" font-size="11.5" text-anchor="middle" fill="#111" textLength="58.50" lengthAdjust="spacingAndGlyphs" transform="rotate(-90 376.30 484.80)">Abundance</text>
<text x="498.30" y="336.60" font-size="12.6" fill="#111" textLength="64.70" lengthAdjust="spacingAndGlyphs">BPC(NEG)</text>
<rect x="604.40" y="326.20" width="81.20" height="14.80" fill="#fff" stroke="#cfcfcf" stroke-width="1"/>
<line x1="618.20" y1="332.90" x2="639.90" y2="332.90" stroke="#e03a44" stroke-width="0.9"/>
<text x="642.80" y="336.50" font-size="10.0" fill="#111" textLength="30.20" lengthAdjust="spacingAndGlyphs">Control</text>
<rect x="604.40" y="404.30" width="81.20" height="14.20" fill="#fff" stroke="#cfcfcf" stroke-width="1"/>
<line x1="610.00" y1="410.90" x2="632.00" y2="410.90" stroke="#3f7cba" stroke-width="0.9"/>
<text x="635.40" y="414.50" font-size="10.0" fill="#111" textLength="40.10" lengthAdjust="spacingAndGlyphs">Treatment</text>
<rect x="604.40" y="479.20" width="81.20" height="15.30" fill="#fff" stroke="#cfcfcf" stroke-width="1"/>
<line x1="620.50" y1="486.70" x2="642.80" y2="486.70" stroke="#6cba64" stroke-width="0.9"/>
<text x="645.80" y="490.30" font-size="10.0" fill="#111" textLength="19.30" lengthAdjust="spacingAndGlyphs">TCM</text>
<text x="498.60" y="541.80" font-size="15.2" fill="#111">time</text>
<text x="543.70" y="541.80" font-size="15.2" fill="#111">min</text>
<path d="M541.20,532.80 Q532.80,538.45 541.20,544.10" fill="none" stroke="#111" stroke-width="1.05"/>
<path d="M569.80,532.80 Q578.20,538.45 569.80,544.10" fill="none" stroke="#111" stroke-width="1.05"/>
<rect x="620.60" y="373.60" width="1.00" height="1.60" fill="#c8c8c8"/>
<rect x="635.00" y="373.60" width="1.00" height="1.60" fill="#c8c8c8"/>
<rect x="620.60" y="437.60" width="1.00" height="1.60" fill="#c8c8c8"/>
<rect x="635.00" y="437.60" width="1.00" height="1.60" fill="#c8c8c8"/>
<rect x="620.60" y="500.70" width="1.00" height="1.60" fill="#c8c8c8"/>
<rect x="635.00" y="500.70" width="1.00" height="1.60" fill="#c8c8c8"/>
<path d="M893.40,422.70 L1005.00,422.70 A111.6,111.6 0 0 0 820.11,338.54 Z" fill="#7ab87a" stroke="#7ab87a" stroke-width="0.6"/>
<path d="M893.40,422.70 L820.11,338.54 A111.6,111.6 0 0 0 787.59,458.19 Z" fill="#b4a2ca" stroke="#b4a2ca" stroke-width="0.6"/>
<path d="M893.40,422.70 L787.59,458.19 A111.6,111.6 0 0 0 864.44,530.48 Z" fill="#eeb27c" stroke="#eeb27c" stroke-width="0.6"/>
<path d="M893.40,422.70 L864.44,530.48 A111.6,111.6 0 0 0 935.28,526.14 Z" fill="#eee996" stroke="#eee996" stroke-width="0.6"/>
<path d="M893.40,422.70 L935.28,526.14 A111.6,111.6 0 0 0 965.57,507.82 Z" fill="#34629f" stroke="#34629f" stroke-width="0.6"/>
<path d="M893.40,422.70 L965.57,507.82 A111.6,111.6 0 0 0 987.29,483.02 Z" fill="#d21d78" stroke="#d21d78" stroke-width="0.6"/>
<path d="M893.40,422.70 L987.29,483.02 A111.6,111.6 0 0 0 1000.35,454.57 Z" fill="#b45a1e" stroke="#b45a1e" stroke-width="0.6"/>
<path d="M893.40,422.70 L1000.35,454.57 A111.6,111.6 0 0 0 1003.50,440.96 Z" fill="#1e9471" stroke="#1e9471" stroke-width="0.6"/>
<path d="M893.40,422.70 L1003.50,440.96 A111.6,111.6 0 0 0 1004.68,431.12 Z" fill="#cf5f14" stroke="#cf5f14" stroke-width="0.6"/>
<path d="M893.40,422.70 L1004.68,431.12 A111.6,111.6 0 0 0 1005.00,422.70 Z" fill="#6f68a8" stroke="#6f68a8" stroke-width="0.6"/>
<text x="918.60" y="344.20" font-size="10.3" fill="#222" textLength="35.70" lengthAdjust="spacingAndGlyphs">36.33%</text>
<text x="788.30" y="422.90" font-size="10.3" fill="#222" textLength="34.40" lengthAdjust="spacingAndGlyphs">18.71%</text>
<text x="818.20" y="483.70" font-size="10.3" fill="#222" textLength="34.30" lengthAdjust="spacingAndGlyphs">15.64%</text>
<text x="886.80" y="519.60" font-size="10.3" fill="#222" textLength="34.20" lengthAdjust="spacingAndGlyphs">10.28%</text>
<text x="931.30" y="509.30" font-size="10.3" fill="#222" textLength="29.20" lengthAdjust="spacingAndGlyphs">5.06%</text>
<text x="950.30" y="483.60" font-size="10.3" fill="#222" textLength="29.60" lengthAdjust="spacingAndGlyphs">4.71%</text>
<text x="961.60" y="462.40" font-size="10.3" fill="#222" textLength="29.00" lengthAdjust="spacingAndGlyphs">4.47%</text>
<text x="976.40" y="448.50" font-size="10.3" fill="#222" textLength="25.60" lengthAdjust="spacingAndGlyphs">1.99%</text>
<text x="980.70" y="438.80" font-size="10.3" fill="#222" textLength="24.70" lengthAdjust="spacingAndGlyphs">1.41%</text>
<text x="984.20" y="427.20" font-size="10.3" fill="#222" textLength="24.70" lengthAdjust="spacingAndGlyphs">1.20%</text>
<text x="947.40" y="321.50" font-size="8.9" fill="#222" textLength="35.30" lengthAdjust="spacingAndGlyphs">Citric acid</text>
<text x="748.00" y="363.20" font-size="8.9" fill="#222" textLength="29.10" lengthAdjust="spacingAndGlyphs">Parishin</text>
<text x="720.60" y="533.90" font-size="8.9" fill="#222" textLength="113.10" lengthAdjust="spacingAndGlyphs">S-(4-Hydroxybenzyl)glutathione</text>
<text x="886.80" y="548.30" font-size="8.9" fill="#222" textLength="36.00" lengthAdjust="spacingAndGlyphs">Parishin E</text>
<text x="950.90" y="532.20" font-size="8.9" fill="#222" textLength="34.20" lengthAdjust="spacingAndGlyphs">Gastrodin</text>
<text x="981.70" y="505.80" font-size="8.9" fill="#222" textLength="37.00" lengthAdjust="spacingAndGlyphs">Parishin C</text>
<text x="1001.60" y="473.40" font-size="8.9" fill="#222" textLength="37.40" lengthAdjust="spacingAndGlyphs">Adenosine</text>
<text x="1007.70" y="451.90" font-size="8.9" fill="#222" textLength="28.60" lengthAdjust="spacingAndGlyphs">Sucrose</text>
<text x="1012.00" y="437.50" font-size="8.9" fill="#222" textLength="34.80" lengthAdjust="spacingAndGlyphs">L-Leucine</text>
<text x="1012.00" y="424.80" font-size="8.9" fill="#222" textLength="49.00" lengthAdjust="spacingAndGlyphs">Ergothioneine</text>
<line x1="84.20" y1="638.50" x2="84.20" y2="817.20" stroke="#000" stroke-width="2.0"/>
<line x1="76.50" y1="816.20" x2="186.30" y2="816.20" stroke="#000" stroke-width="2.0"/>
<line x1="76.80" y1="639.50" x2="84.20" y2="639.50" stroke="#000" stroke-width="1.5"/>
<text x="74.75" y="644.37" font-size="13.6" text-anchor="end" letter-spacing="0.25">4×10<tspan font-size="8.6" dy="-4.3">4</tspan></text>
<line x1="76.80" y1="683.90" x2="84.20" y2="683.90" stroke="#000" stroke-width="1.5"/>
<text x="74.75" y="688.77" font-size="13.6" text-anchor="end" letter-spacing="0.25">3×10<tspan font-size="8.6" dy="-4.3">4</tspan></text>
<line x1="76.80" y1="728.10" x2="84.20" y2="728.10" stroke="#000" stroke-width="1.5"/>
<text x="74.75" y="732.97" font-size="13.6" text-anchor="end" letter-spacing="0.25">2×10<tspan font-size="8.6" dy="-4.3">4</tspan></text>
<line x1="76.80" y1="772.10" x2="84.20" y2="772.10" stroke="#000" stroke-width="1.5"/>
<text x="74.75" y="776.97" font-size="13.6" text-anchor="end" letter-spacing="0.25">1×10<tspan font-size="8.6" dy="-4.3">4</tspan></text>
<line x1="76.80" y1="816.20" x2="84.20" y2="816.20" stroke="#000" stroke-width="1.5"/>
<text x="74.50" y="821.07" font-size="13.6" text-anchor="end">0</text>
<line x1="112.80" y1="816.20" x2="112.80" y2="824.00" stroke="#000" stroke-width="1.8"/>
<line x1="156.70" y1="816.20" x2="156.70" y2="824.00" stroke="#000" stroke-width="1.8"/>
<rect x="142.40" y="734.00" width="29.00" height="82.20" fill="#f97f3f"/>
<line x1="156.90" y1="734.00" x2="156.90" y2="673.30" stroke="#f9a070" stroke-width="1.3"/>
<line x1="149.70" y1="673.30" x2="163.90" y2="673.30" stroke="#f9a070" stroke-width="1.3"/>
<text x="28.00" y="766.40" font-size="16.4" text-anchor="middle" textLength="73.80" lengthAdjust="spacingAndGlyphs" transform="rotate(-90 28.00 766.40)">Gastrodin</text>
<text x="28.00" y="688.55" font-size="14.6" text-anchor="middle" textLength="72.10" lengthAdjust="spacingAndGlyphs" transform="rotate(-90 28.00 688.55)">Expression</text>
<text x="112.65" y="837.40" font-size="13.6" text-anchor="middle" textLength="42.10" lengthAdjust="spacingAndGlyphs">Control</text>
<text x="158.55" y="837.40" font-size="13.6" text-anchor="middle" textLength="43.10" lengthAdjust="spacingAndGlyphs">G-GEB</text>
<line x1="290.80" y1="638.70" x2="290.80" y2="817.10" stroke="#000" stroke-width="2.0"/>
<line x1="283.50" y1="816.10" x2="392.80" y2="816.10" stroke="#000" stroke-width="2.0"/>
<line x1="283.40" y1="639.70" x2="290.80" y2="639.70" stroke="#000" stroke-width="1.5"/>
<text x="281.35" y="644.57" font-size="13.6" text-anchor="end" letter-spacing="0.25">1×10<tspan font-size="8.6" dy="-4.3">5</tspan></text>
<line x1="283.40" y1="674.90" x2="290.80" y2="674.90" stroke="#000" stroke-width="1.5"/>
<text x="281.35" y="679.77" font-size="13.6" text-anchor="end" letter-spacing="0.25">8×10<tspan font-size="8.6" dy="-4.3">4</tspan></text>
<line x1="283.40" y1="709.90" x2="290.80" y2="709.90" stroke="#000" stroke-width="1.5"/>
<text x="281.35" y="714.77" font-size="13.6" text-anchor="end" letter-spacing="0.25">6×10<tspan font-size="8.6" dy="-4.3">4</tspan></text>
<line x1="283.40" y1="745.00" x2="290.80" y2="745.00" stroke="#000" stroke-width="1.5"/>
<text x="281.35" y="749.87" font-size="13.6" text-anchor="end" letter-spacing="0.25">4×10<tspan font-size="8.6" dy="-4.3">4</tspan></text>
<line x1="283.40" y1="780.10" x2="290.80" y2="780.10" stroke="#000" stroke-width="1.5"/>
<text x="281.35" y="784.97" font-size="13.6" text-anchor="end" letter-spacing="0.25">2×10<tspan font-size="8.6" dy="-4.3">4</tspan></text>
<line x1="283.40" y1="816.10" x2="290.80" y2="816.10" stroke="#000" stroke-width="1.5"/>
<text x="281.10" y="820.97" font-size="13.6" text-anchor="end">0</text>
<line x1="320.50" y1="816.10" x2="320.50" y2="823.90" stroke="#000" stroke-width="1.8"/>
<line x1="363.90" y1="816.10" x2="363.90" y2="823.90" stroke="#000" stroke-width="1.8"/>
<rect x="349.40" y="741.60" width="28.10" height="74.50" fill="#f97f3f"/>
<line x1="363.45" y1="741.60" x2="363.45" y2="680.90" stroke="#f9a070" stroke-width="1.3"/>
<line x1="355.60" y1="680.90" x2="370.90" y2="680.90" stroke="#f9a070" stroke-width="1.3"/>
<text x="234.40" y="765.45" font-size="16.8" text-anchor="middle" textLength="75.90" lengthAdjust="spacingAndGlyphs" transform="rotate(-90 234.40 765.45)">Parishin E</text>
<text x="234.40" y="686.10" font-size="14.4" text-anchor="middle" textLength="71.80" lengthAdjust="spacingAndGlyphs" transform="rotate(-90 234.40 686.10)">Expression</text>
<text x="319.05" y="837.40" font-size="13.6" text-anchor="middle" textLength="42.50" lengthAdjust="spacingAndGlyphs">Control</text>
<text x="364.90" y="837.40" font-size="13.6" text-anchor="middle" textLength="43.40" lengthAdjust="spacingAndGlyphs">G-GEB</text>
<line x1="482.80" y1="638.50" x2="482.80" y2="817.10" stroke="#000" stroke-width="2.0"/>
<line x1="475.50" y1="816.10" x2="587.00" y2="816.10" stroke="#000" stroke-width="2.0"/>
<line x1="475.40" y1="639.50" x2="482.80" y2="639.50" stroke="#000" stroke-width="1.5"/>
<text x="473.35" y="644.37" font-size="13.6" text-anchor="end" letter-spacing="0.25">6×10<tspan font-size="8.6" dy="-4.3">4</tspan></text>
<line x1="475.40" y1="698.30" x2="482.80" y2="698.30" stroke="#000" stroke-width="1.5"/>
<text x="473.35" y="703.17" font-size="13.6" text-anchor="end" letter-spacing="0.25">4×10<tspan font-size="8.6" dy="-4.3">4</tspan></text>
<line x1="475.40" y1="757.00" x2="482.80" y2="757.00" stroke="#000" stroke-width="1.5"/>
<text x="473.35" y="761.87" font-size="13.6" text-anchor="end" letter-spacing="0.25">2×10<tspan font-size="8.6" dy="-4.3">4</tspan></text>
<line x1="475.40" y1="816.10" x2="482.80" y2="816.10" stroke="#000" stroke-width="1.5"/>
<text x="473.10" y="820.97" font-size="13.6" text-anchor="end">0</text>
<line x1="511.80" y1="816.10" x2="511.80" y2="823.90" stroke="#000" stroke-width="1.8"/>
<line x1="556.00" y1="816.10" x2="556.00" y2="823.90" stroke="#000" stroke-width="1.8"/>
<rect x="497.00" y="766.90" width="29.30" height="49.20" fill="#0f5cbf"/>
<line x1="511.65" y1="766.90" x2="511.65" y2="764.00" stroke="#0f5cbf" stroke-width="1.3"/>
<line x1="504.30" y1="764.00" x2="518.80" y2="764.00" stroke="#0f5cbf" stroke-width="1.3"/>
<rect x="541.50" y="692.00" width="29.00" height="124.10" fill="#f97f3f"/>
<line x1="556.00" y1="692.00" x2="556.00" y2="671.40" stroke="#f9a070" stroke-width="1.3"/>
<line x1="547.80" y1="671.40" x2="563.40" y2="671.40" stroke="#f9a070" stroke-width="1.3"/>
<text x="556.25" y="667.70" font-size="19.5" text-anchor="middle" letter-spacing="1.1">**</text>
<text x="426.70" y="765.95" font-size="16.6" text-anchor="middle" textLength="69.50" lengthAdjust="spacingAndGlyphs" transform="rotate(-90 426.70 765.95)">Apocynin</text>
<text x="426.70" y="690.05" font-size="14.6" text-anchor="middle" textLength="72.90" lengthAdjust="spacingAndGlyphs" transform="rotate(-90 426.70 690.05)">Expression</text>
<text x="512.00" y="837.40" font-size="13.6" text-anchor="middle" textLength="42.60" lengthAdjust="spacingAndGlyphs">Control</text>
<text x="557.50" y="837.40" font-size="13.6" text-anchor="middle" textLength="42.60" lengthAdjust="spacingAndGlyphs">G-GEB</text>
<line x1="690.40" y1="638.10" x2="690.40" y2="816.60" stroke="#000" stroke-width="2.0"/>
<line x1="683.20" y1="815.60" x2="793.00" y2="815.60" stroke="#000" stroke-width="2.0"/>
<line x1="683.00" y1="639.10" x2="690.40" y2="639.10" stroke="#000" stroke-width="1.5"/>
<text x="680.95" y="643.97" font-size="13.6" text-anchor="end" letter-spacing="0.25">3×10<tspan font-size="8.6" dy="-4.3">4</tspan></text>
<line x1="683.00" y1="698.40" x2="690.40" y2="698.40" stroke="#000" stroke-width="1.5"/>
<text x="680.95" y="703.27" font-size="13.6" text-anchor="end" letter-spacing="0.25">2×10<tspan font-size="8.6" dy="-4.3">4</tspan></text>
<line x1="683.00" y1="757.30" x2="690.40" y2="757.30" stroke="#000" stroke-width="1.5"/>
<text x="680.95" y="762.17" font-size="13.6" text-anchor="end" letter-spacing="0.25">1×10<tspan font-size="8.6" dy="-4.3">4</tspan></text>
<line x1="683.00" y1="815.60" x2="690.40" y2="815.60" stroke="#000" stroke-width="1.5"/>
<text x="680.70" y="820.47" font-size="13.6" text-anchor="end">0</text>
<line x1="719.10" y1="815.60" x2="719.10" y2="823.40" stroke="#000" stroke-width="1.8"/>
<line x1="762.80" y1="815.60" x2="762.80" y2="823.40" stroke="#000" stroke-width="1.8"/>
<rect x="704.30" y="777.30" width="29.30" height="38.30" fill="#0f5cbf"/>
<line x1="718.95" y1="777.30" x2="718.95" y2="770.60" stroke="#0f5cbf" stroke-width="1.3"/>
<line x1="712.00" y1="770.60" x2="726.20" y2="770.60" stroke="#0f5cbf" stroke-width="1.3"/>
<rect x="748.30" y="703.70" width="29.00" height="111.90" fill="#f97f3f"/>
<line x1="762.80" y1="703.70" x2="762.80" y2="653.80" stroke="#f9a070" stroke-width="1.3"/>
<line x1="755.00" y1="653.80" x2="770.60" y2="653.80" stroke="#f9a070" stroke-width="1.3"/>
<text x="633.70" y="764.70" font-size="16.5" text-anchor="middle" textLength="116.20" lengthAdjust="spacingAndGlyphs" transform="rotate(-90 633.70 764.70)">Epoxyoleic acid</text>
<text x="633.70" y="666.35" font-size="14.4" text-anchor="middle" textLength="72.10" lengthAdjust="spacingAndGlyphs" transform="rotate(-90 633.70 666.35)">Expression</text>
<text x="719.60" y="837.50" font-size="13.6" text-anchor="middle" textLength="42.40" lengthAdjust="spacingAndGlyphs">Control</text>
<text x="764.35" y="837.50" font-size="13.6" text-anchor="middle" textLength="43.70" lengthAdjust="spacingAndGlyphs">G-GEB</text>
<line x1="902.10" y1="638.10" x2="902.10" y2="817.10" stroke="#000" stroke-width="2.0"/>
<line x1="894.90" y1="816.10" x2="1004.80" y2="816.10" stroke="#000" stroke-width="2.0"/>
<line x1="894.70" y1="639.10" x2="902.10" y2="639.10" stroke="#000" stroke-width="1.5"/>
<text x="892.65" y="643.97" font-size="13.6" text-anchor="end" letter-spacing="0.25">3×10<tspan font-size="8.6" dy="-4.3">3</tspan></text>
<line x1="894.70" y1="698.40" x2="902.10" y2="698.40" stroke="#000" stroke-width="1.5"/>
<text x="892.65" y="703.27" font-size="13.6" text-anchor="end" letter-spacing="0.25">2×10<tspan font-size="8.6" dy="-4.3">3</tspan></text>
<line x1="894.70" y1="757.30" x2="902.10" y2="757.30" stroke="#000" stroke-width="1.5"/>
<text x="892.65" y="762.17" font-size="13.6" text-anchor="end" letter-spacing="0.25">1×10<tspan font-size="8.6" dy="-4.3">3</tspan></text>
<line x1="894.70" y1="816.10" x2="902.10" y2="816.10" stroke="#000" stroke-width="1.5"/>
<text x="892.40" y="820.97" font-size="13.6" text-anchor="end">0</text>
<line x1="930.50" y1="816.10" x2="930.50" y2="823.90" stroke="#000" stroke-width="1.8"/>
<line x1="974.70" y1="816.10" x2="974.70" y2="823.90" stroke="#000" stroke-width="1.8"/>
<rect x="960.20" y="694.80" width="29.00" height="121.30" fill="#f97f3f"/>
<line x1="974.70" y1="694.80" x2="974.70" y2="663.60" stroke="#f9a070" stroke-width="1.3"/>
<line x1="967.00" y1="663.60" x2="982.40" y2="663.60" stroke="#f9a070" stroke-width="1.3"/>
<text x="976.55" y="663.90" font-size="19.5" text-anchor="middle" letter-spacing="1.1">**</text>
<text x="845.90" y="765.75" font-size="16.2" text-anchor="middle" textLength="86.30" lengthAdjust="spacingAndGlyphs" transform="rotate(-90 845.90 765.75)">10-Shogaol</text>
<text x="845.90" y="681.40" font-size="14.2" text-anchor="middle" textLength="72.40" lengthAdjust="spacingAndGlyphs" transform="rotate(-90 845.90 681.40)">Expression</text>
<text x="931.20" y="837.50" font-size="13.6" text-anchor="middle" textLength="42.00" lengthAdjust="spacingAndGlyphs">Control</text>
<text x="976.45" y="837.50" font-size="13.6" text-anchor="middle" textLength="43.30" lengthAdjust="spacingAndGlyphs">G-GEB</text>
<line x1="84.20" y1="921.10" x2="84.20" y2="1100.50" stroke="#000" stroke-width="2.0"/>
<line x1="76.90" y1="1099.50" x2="186.10" y2="1099.50" stroke="#000" stroke-width="2.0"/>
<line x1="76.80" y1="922.10" x2="84.20" y2="922.10" stroke="#000" stroke-width="1.5"/>
<text x="74.75" y="926.97" font-size="13.6" text-anchor="end" letter-spacing="0.25">5×10<tspan font-size="8.6" dy="-4.3">3</tspan></text>
<line x1="76.80" y1="957.50" x2="84.20" y2="957.50" stroke="#000" stroke-width="1.5"/>
<text x="74.75" y="962.37" font-size="13.6" text-anchor="end" letter-spacing="0.25">4×10<tspan font-size="8.6" dy="-4.3">3</tspan></text>
<line x1="76.80" y1="993.00" x2="84.20" y2="993.00" stroke="#000" stroke-width="1.5"/>
<text x="74.75" y="997.87" font-size="13.6" text-anchor="end" letter-spacing="0.25">3×10<tspan font-size="8.6" dy="-4.3">3</tspan></text>
<line x1="76.80" y1="1028.50" x2="84.20" y2="1028.50" stroke="#000" stroke-width="1.5"/>
<text x="74.75" y="1033.37" font-size="13.6" text-anchor="end" letter-spacing="0.25">2×10<tspan font-size="8.6" dy="-4.3">3</tspan></text>
<line x1="76.80" y1="1064.00" x2="84.20" y2="1064.00" stroke="#000" stroke-width="1.5"/>
<text x="74.75" y="1068.87" font-size="13.6" text-anchor="end" letter-spacing="0.25">1×10<tspan font-size="8.6" dy="-4.3">3</tspan></text>
<line x1="76.80" y1="1099.50" x2="84.20" y2="1099.50" stroke="#000" stroke-width="1.5"/>
<text x="74.50" y="1104.37" font-size="13.6" text-anchor="end">0</text>
<line x1="113.20" y1="1099.50" x2="113.20" y2="1107.30" stroke="#000" stroke-width="1.8"/>
<line x1="156.60" y1="1099.50" x2="156.60" y2="1107.30" stroke="#000" stroke-width="1.8"/>
<rect x="142.80" y="987.10" width="27.90" height="112.40" fill="#f97f3f"/>
<line x1="156.75" y1="987.10" x2="156.75" y2="954.80" stroke="#f9a070" stroke-width="1.3"/>
<line x1="149.00" y1="954.80" x2="163.60" y2="954.80" stroke="#f9a070" stroke-width="1.3"/>
<text x="157.65" y="950.90" font-size="19.5" text-anchor="middle" letter-spacing="1.1">**</text>
<text x="28.20" y="1049.40" font-size="17.0" text-anchor="middle" textLength="106.20" lengthAdjust="spacingAndGlyphs" transform="rotate(-90 28.20 1049.40)">Ergothioneine</text>
<text x="28.20" y="955.85" font-size="14.5" text-anchor="middle" textLength="72.30" lengthAdjust="spacingAndGlyphs" transform="rotate(-90 28.20 955.85)">Expression</text>
<text x="112.80" y="1121.00" font-size="13.6" text-anchor="middle" textLength="42.60" lengthAdjust="spacingAndGlyphs">Control</text>
<text x="158.50" y="1121.00" font-size="13.6" text-anchor="middle" textLength="43.40" lengthAdjust="spacingAndGlyphs">G-GEB</text>
<line x1="288.90" y1="919.40" x2="288.90" y2="1099.90" stroke="#000" stroke-width="2.0"/>
<line x1="281.30" y1="1098.90" x2="392.40" y2="1098.90" stroke="#000" stroke-width="2.0"/>
<line x1="281.50" y1="920.40" x2="288.90" y2="920.40" stroke="#000" stroke-width="1.5"/>
<text x="279.35" y="925.16" font-size="13.3" text-anchor="end" font-weight="bold" letter-spacing="0.15">3×10<tspan font-size="8.6" dy="-4.3">3</tspan></text>
<line x1="281.50" y1="979.70" x2="288.90" y2="979.70" stroke="#000" stroke-width="1.5"/>
<text x="279.35" y="984.46" font-size="13.3" text-anchor="end" font-weight="bold" letter-spacing="0.15">2×10<tspan font-size="8.6" dy="-4.3">3</tspan></text>
<line x1="281.50" y1="1039.10" x2="288.90" y2="1039.10" stroke="#000" stroke-width="1.5"/>
<text x="279.35" y="1043.86" font-size="13.3" text-anchor="end" font-weight="bold" letter-spacing="0.15">1×10<tspan font-size="8.6" dy="-4.3">3</tspan></text>
<line x1="281.50" y1="1098.90" x2="288.90" y2="1098.90" stroke="#000" stroke-width="1.5"/>
<text x="279.20" y="1103.66" font-size="13.3" text-anchor="end" font-weight="bold">0</text>
<line x1="318.60" y1="1098.90" x2="318.60" y2="1106.70" stroke="#000" stroke-width="1.8"/>
<line x1="362.00" y1="1098.90" x2="362.00" y2="1106.70" stroke="#000" stroke-width="1.8"/>
<rect x="347.80" y="990.30" width="29.60" height="108.60" fill="#f97f3f"/>
<line x1="362.60" y1="990.30" x2="362.60" y2="933.10" stroke="#f9a070" stroke-width="1.3"/>
<line x1="355.00" y1="933.10" x2="370.00" y2="933.10" stroke="#f9a070" stroke-width="1.3"/>
<text x="362.40" y="930.30" font-size="19.5" text-anchor="middle">*</text>
<text x="233.00" y="1046.00" font-size="15.0" text-anchor="middle" textLength="133.60" lengthAdjust="spacingAndGlyphs" transform="rotate(-90 233.00 1046.00)">N2-Methylguanosine</text>
<text x="233.00" y="937.70" font-size="14.4" text-anchor="middle" textLength="73.00" lengthAdjust="spacingAndGlyphs" transform="rotate(-90 233.00 937.70)">Expression</text>
<text x="317.40" y="1121.00" font-size="13.6" text-anchor="middle" textLength="41.80" lengthAdjust="spacingAndGlyphs">Control</text>
<text x="363.60" y="1121.00" font-size="13.6" text-anchor="middle" textLength="44.20" lengthAdjust="spacingAndGlyphs">G-GEB</text>
<line x1="483.00" y1="921.40" x2="483.00" y2="1100.50" stroke="#000" stroke-width="2.0"/>
<line x1="475.60" y1="1099.50" x2="585.30" y2="1099.50" stroke="#000" stroke-width="2.0"/>
<line x1="475.60" y1="922.40" x2="483.00" y2="922.40" stroke="#000" stroke-width="1.5"/>
<text x="473.55" y="927.27" font-size="13.6" text-anchor="end" letter-spacing="0.25">6×10<tspan font-size="8.6" dy="-4.3">3</tspan></text>
<line x1="475.60" y1="981.60" x2="483.00" y2="981.60" stroke="#000" stroke-width="1.5"/>
<text x="473.55" y="986.47" font-size="13.6" text-anchor="end" letter-spacing="0.25">4×10<tspan font-size="8.6" dy="-4.3">3</tspan></text>
<line x1="475.60" y1="1040.40" x2="483.00" y2="1040.40" stroke="#000" stroke-width="1.5"/>
<text x="473.55" y="1045.27" font-size="13.6" text-anchor="end" letter-spacing="0.25">2×10<tspan font-size="8.6" dy="-4.3">3</tspan></text>
<line x1="475.60" y1="1099.50" x2="483.00" y2="1099.50" stroke="#000" stroke-width="1.5"/>
<text x="473.30" y="1104.37" font-size="13.6" text-anchor="end">0</text>
<line x1="512.40" y1="1099.50" x2="512.40" y2="1107.30" stroke="#000" stroke-width="1.8"/>
<line x1="555.00" y1="1099.50" x2="555.00" y2="1107.30" stroke="#000" stroke-width="1.8"/>
<rect x="541.20" y="1004.10" width="28.40" height="95.40" fill="#f97f3f"/>
<line x1="555.40" y1="1004.10" x2="555.40" y2="944.10" stroke="#f9a070" stroke-width="1.3"/>
<line x1="548.50" y1="944.10" x2="562.50" y2="944.10" stroke="#f9a070" stroke-width="1.3"/>
<text x="555.50" y="933.30" font-size="19.5" text-anchor="middle">*</text>
<text x="426.60" y="1047.20" font-size="16.8" text-anchor="middle" textLength="49.80" lengthAdjust="spacingAndGlyphs" transform="rotate(-90 426.60 1047.20)">Tilianin</text>
<text x="426.60" y="982.25" font-size="14.5" text-anchor="middle" textLength="72.50" lengthAdjust="spacingAndGlyphs" transform="rotate(-90 426.60 982.25)">Expression</text>
<text x="512.00" y="1121.00" font-size="13.6" text-anchor="middle" textLength="42.60" lengthAdjust="spacingAndGlyphs">Control</text>
<text x="557.30" y="1121.00" font-size="13.6" text-anchor="middle" textLength="42.60" lengthAdjust="spacingAndGlyphs">G-GEB</text>
<line x1="692.00" y1="932.40" x2="692.00" y2="1102.30" stroke="#000" stroke-width="2.0"/>
<line x1="685.20" y1="1101.30" x2="789.10" y2="1101.30" stroke="#000" stroke-width="2.0"/>
<line x1="684.60" y1="933.40" x2="692.00" y2="933.40" stroke="#000" stroke-width="1.5"/>
<text x="682.55" y="938.27" font-size="13.6" text-anchor="end" letter-spacing="0.25">1.5×10<tspan font-size="8.6" dy="-4.3">4</tspan></text>
<line x1="684.60" y1="989.60" x2="692.00" y2="989.60" stroke="#000" stroke-width="1.5"/>
<text x="682.55" y="994.47" font-size="13.6" text-anchor="end" letter-spacing="0.25">1×10<tspan font-size="8.6" dy="-4.3">4</tspan></text>
<line x1="684.60" y1="1045.50" x2="692.00" y2="1045.50" stroke="#000" stroke-width="1.5"/>
<text x="682.55" y="1050.37" font-size="13.6" text-anchor="end" letter-spacing="0.25">5×10<tspan font-size="8.6" dy="-4.3">3</tspan></text>
<line x1="684.60" y1="1101.30" x2="692.00" y2="1101.30" stroke="#000" stroke-width="1.5"/>
<text x="682.30" y="1106.17" font-size="13.6" text-anchor="end">0</text>
<line x1="718.70" y1="1101.30" x2="718.70" y2="1109.10" stroke="#000" stroke-width="1.8"/>
<line x1="760.60" y1="1101.30" x2="760.60" y2="1109.10" stroke="#000" stroke-width="1.8"/>
<rect x="705.70" y="1045.90" width="27.80" height="55.40" fill="#0f5cbf"/>
<line x1="719.60" y1="1045.90" x2="719.60" y2="1037.30" stroke="#0f5cbf" stroke-width="1.3"/>
<line x1="713.50" y1="1037.30" x2="726.10" y2="1037.30" stroke="#0f5cbf" stroke-width="1.3"/>
<rect x="747.40" y="988.80" width="27.60" height="112.50" fill="#f97f3f"/>
<line x1="761.20" y1="988.80" x2="761.20" y2="965.60" stroke="#f9a070" stroke-width="1.3"/>
<line x1="754.20" y1="965.60" x2="767.80" y2="965.60" stroke="#f9a070" stroke-width="1.3"/>
<text x="760.50" y="966.30" font-size="19.5" text-anchor="middle">*</text>
<text x="627.00" y="1052.65" font-size="16.0" text-anchor="middle" textLength="146.90" lengthAdjust="spacingAndGlyphs" transform="rotate(-90 627.00 1052.65)">4-Hydroxyisoleucine</text>
<text x="627.00" y="942.95" font-size="13.8" text-anchor="middle" textLength="68.50" lengthAdjust="spacingAndGlyphs" transform="rotate(-90 627.00 942.95)">Expression</text>
<text x="718.50" y="1121.50" font-size="13.6" text-anchor="middle" textLength="39.20" lengthAdjust="spacingAndGlyphs">Control</text>
<text x="762.45" y="1121.50" font-size="13.6" text-anchor="middle" textLength="39.70" lengthAdjust="spacingAndGlyphs">G-GEB</text>
<line x1="882.00" y1="919.70" x2="882.00" y2="1096.90" stroke="#000" stroke-width="2.0"/>
<line x1="874.80" y1="1095.90" x2="1052.00" y2="1095.90" stroke="#000" stroke-width="2.0"/>
<line x1="874.60" y1="920.70" x2="882.00" y2="920.70" stroke="#000" stroke-width="1.5"/>
<text x="872.55" y="925.57" font-size="13.6" text-anchor="end" letter-spacing="0.25">1×10<tspan font-size="8.6" dy="-4.3">5</tspan></text>
<line x1="874.60" y1="955.90" x2="882.00" y2="955.90" stroke="#000" stroke-width="1.5"/>
<text x="872.55" y="960.77" font-size="13.6" text-anchor="end" letter-spacing="0.25">8×10<tspan font-size="8.6" dy="-4.3">4</tspan></text>
<line x1="874.60" y1="990.80" x2="882.00" y2="990.80" stroke="#000" stroke-width="1.5"/>
<text x="872.55" y="995.67" font-size="13.6" text-anchor="end" letter-spacing="0.25">6×10<tspan font-size="8.6" dy="-4.3">4</tspan></text>
<line x1="874.60" y1="1025.70" x2="882.00" y2="1025.70" stroke="#000" stroke-width="1.5"/>
<text x="872.55" y="1030.57" font-size="13.6" text-anchor="end" letter-spacing="0.25">4×10<tspan font-size="8.6" dy="-4.3">4</tspan></text>
<line x1="874.60" y1="1060.60" x2="882.00" y2="1060.60" stroke="#000" stroke-width="1.5"/>
<text x="872.55" y="1065.47" font-size="13.6" text-anchor="end" letter-spacing="0.25">2×10<tspan font-size="8.6" dy="-4.3">4</tspan></text>
<line x1="874.60" y1="1095.90" x2="882.00" y2="1095.90" stroke="#000" stroke-width="1.5"/>
<text x="872.30" y="1100.77" font-size="13.6" text-anchor="end">0</text>
<line x1="907.80" y1="1095.90" x2="907.80" y2="1103.70" stroke="#000" stroke-width="1.8"/>
<line x1="946.70" y1="1095.90" x2="946.70" y2="1103.70" stroke="#000" stroke-width="1.8"/>
<line x1="986.10" y1="1095.90" x2="986.10" y2="1103.70" stroke="#000" stroke-width="1.8"/>
<line x1="1025.40" y1="1095.90" x2="1025.40" y2="1103.70" stroke="#000" stroke-width="1.8"/>
<rect x="894.90" y="1063.40" width="25.50" height="32.50" fill="#74a62b"/>
<line x1="907.65" y1="1063.40" x2="907.65" y2="1039.00" stroke="#93bd55" stroke-width="1.3"/>
<line x1="900.70" y1="1039.00" x2="914.00" y2="1039.00" stroke="#93bd55" stroke-width="1.3"/>
<rect x="934.30" y="1021.80" width="25.50" height="74.10" fill="#f0b43f"/>
<line x1="947.05" y1="1021.80" x2="947.05" y2="962.00" stroke="#f2c45c" stroke-width="1.3"/>
<line x1="939.50" y1="962.00" x2="953.40" y2="962.00" stroke="#f2c45c" stroke-width="1.3"/>
<rect x="973.60" y="1046.50" width="25.50" height="49.40" fill="#1560c8"/>
<line x1="986.35" y1="1046.50" x2="986.35" y2="1012.40" stroke="#3f7fd8" stroke-width="1.3"/>
<line x1="979.70" y1="1012.40" x2="992.40" y2="1012.40" stroke="#3f7fd8" stroke-width="1.3"/>
<rect x="1012.90" y="1051.40" width="25.20" height="44.50" fill="#f97f3f"/>
<line x1="1025.50" y1="1051.40" x2="1025.50" y2="1039.50" stroke="#f9a070" stroke-width="1.3"/>
<line x1="1018.80" y1="1039.50" x2="1031.80" y2="1039.50" stroke="#f9a070" stroke-width="1.3"/>
<text x="827.20" y="1007.00" font-size="15.0" text-anchor="middle" textLength="208.80" lengthAdjust="spacingAndGlyphs" transform="rotate(-90 827.20 1007.00)">Expression of blood components</text>
<text x="912.20" y="1114.20" font-size="13.4" font-weight="bold" text-anchor="end" transform="rotate(-45 912.20 1114.20)">Gastrodin</text>
<text x="951.10" y="1114.20" font-size="13.4" font-weight="bold" text-anchor="end" transform="rotate(-45 951.10 1114.20)">Parishin E</text>
<text x="990.50" y="1114.20" font-size="13.4" font-weight="bold" text-anchor="end" transform="rotate(-45 990.50 1114.20)">Apocynin</text>
<text x="1029.80" y="1114.20" font-size="13.4" font-weight="bold" text-anchor="end" transform="rotate(-45 1029.80 1114.20)">Pelargonic acid</text>
</svg></body></html>
